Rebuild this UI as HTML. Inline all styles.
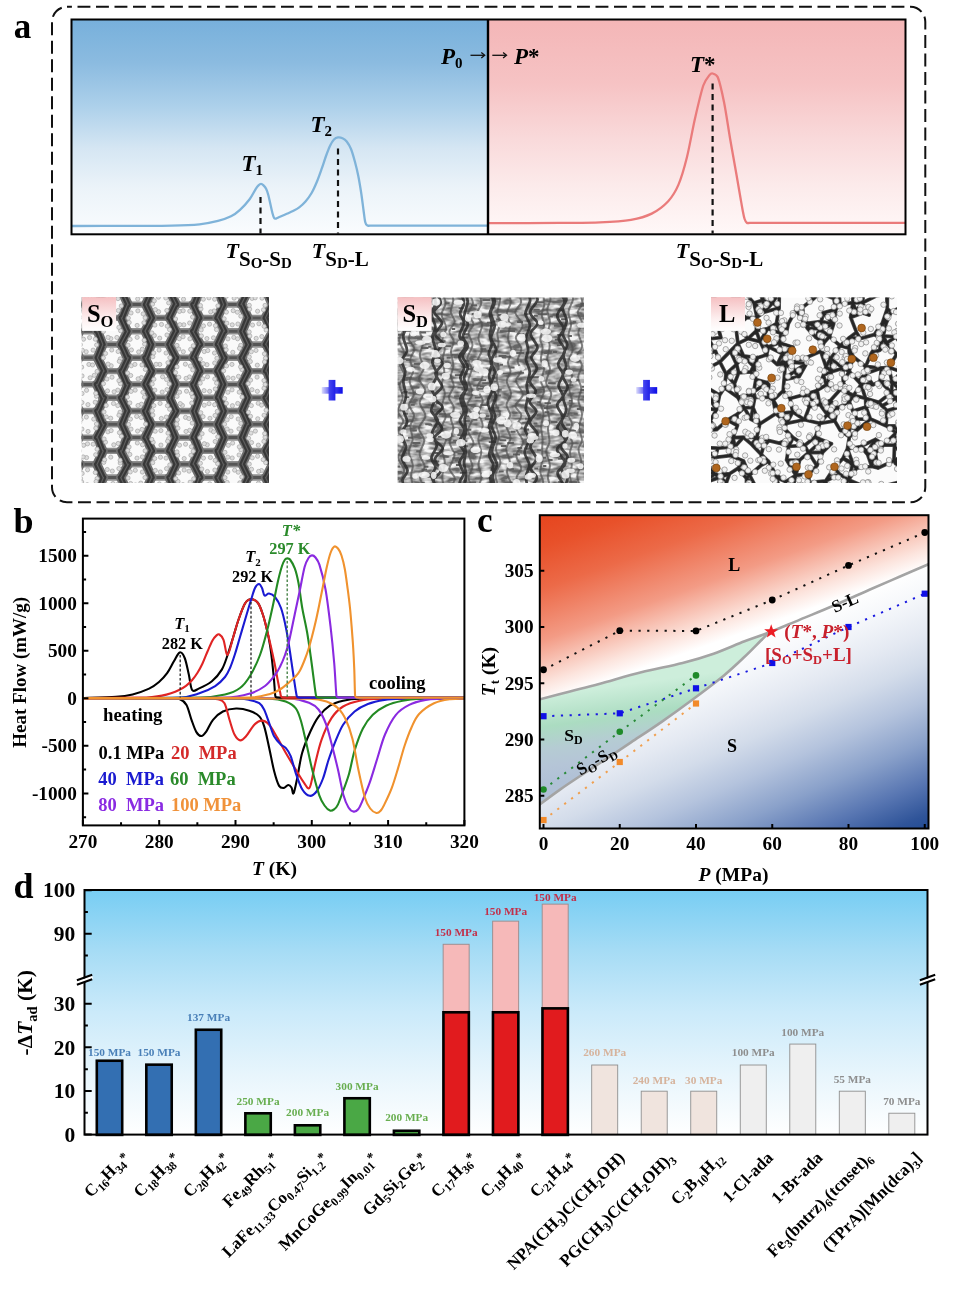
<!DOCTYPE html>
<html><head><meta charset="utf-8"><title>figure</title>
<style>
html,body{margin:0;padding:0;background:#fff;width:968px;height:1299px;overflow:hidden}
svg{display:block}
text{font-family:"Liberation Serif","Times New Roman",serif;font-weight:bold}
</style></head><body>
<svg width="968" height="1299" viewBox="0 0 968 1299">
<defs>
<linearGradient id="gBlueA" x1="0" y1="0" x2="0" y2="1">
 <stop offset="0" stop-color="#77b0db"/><stop offset="0.2" stop-color="#8bbbe0"/><stop offset="0.4" stop-color="#acd0ea"/><stop offset="0.6" stop-color="#d5e6f3"/><stop offset="0.78" stop-color="#ebf3f9"/><stop offset="1" stop-color="#fafcfe"/>
</linearGradient>
<linearGradient id="gPinkA" x1="0" y1="0" x2="0" y2="1">
 <stop offset="0" stop-color="#f4b6b7"/><stop offset="0.3" stop-color="#f6c3c4"/><stop offset="0.55" stop-color="#f9d9da"/><stop offset="0.78" stop-color="#fcebeb"/><stop offset="1" stop-color="#fff8f8"/>
</linearGradient>
<linearGradient id="gLab" x1="0" y1="0" x2="0" y2="1">
 <stop offset="0" stop-color="#f5c0c2"/><stop offset="0.65" stop-color="#fdf0f0"/><stop offset="1" stop-color="#ffffff"/>
</linearGradient>
<linearGradient id="gPlusH" x1="0" y1="0" x2="1" y2="0">
 <stop offset="0" stop-color="#dcdcfb"/><stop offset="0.4" stop-color="#5a5af2"/><stop offset="1" stop-color="#0c0ce6"/>
</linearGradient>
<linearGradient id="gPlusV" x1="0" y1="0" x2="1" y2="0">
 <stop offset="0" stop-color="#4848f0"/><stop offset="1" stop-color="#2020e8"/>
</linearGradient>
</defs>
<text x="13.8" y="38.4" font-size="35" text-anchor="start" fill="#000">a</text>
<rect x="52" y="6.8" width="873.3" height="495.5" rx="15" ry="15" fill="none" stroke="#111" stroke-width="2" stroke-dasharray="12.9 5.6" stroke-dashoffset="-10.5"/>
<rect x="71.5" y="19.5" width="416.5" height="214.8" fill="url(#gBlueA)"/>
<rect x="488" y="19.5" width="417.5" height="214.8" fill="url(#gPinkA)"/>
<path d="M72 226 C80 225.98 103.4 225.97 120 225.9 C136.6 225.83 158.35 225.87 171.6 225.6 C184.17 225.35 191.77 225.08 199.5 224.3 C207.23 223.52 212.75 222.23 218 220.9 C223.25 219.57 227.33 218.15 231 216.3 C234.67 214.45 236.9 212.65 240 209.8 C243.1 206.95 246.97 202.7 249.6 199.2 C252.23 195.7 254.32 191.12 255.8 188.8 C256.87 187.12 257.63 186.12 258.5 185.3 C259.37 184.48 260.17 183.9 261 183.9 C261.83 183.9 262.65 184.48 263.5 185.3 C264.35 186.12 265.3 187.18 266.1 188.8 C266.9 190.42 267.62 192.58 268.3 195 C268.98 197.42 269.53 200.38 270.2 203.3 C270.87 206.22 271.63 210.02 272.3 212.5 C272.97 214.98 273.5 217.22 274.2 218.2 C274.8 219.05 275.53 218.63 276.5 218.4 C277.47 218.17 278.42 217.51 280 216.8 C281.72 216.03 284.63 214.77 286.8 213.8 C288.97 212.83 290.93 212.07 293 211 C295.07 209.93 297.12 208.98 299.2 207.4 C301.28 205.82 303.43 203.9 305.5 201.5 C307.57 199.1 309.68 196.33 311.6 193 C313.52 189.67 315.28 185.63 317 181.5 C318.72 177.37 320.4 172.45 321.9 168.2 C323.4 163.95 324.62 159.78 326 156 C327.38 152.22 328.87 148.25 330.2 145.5 C331.53 142.75 332.7 140.85 334 139.5 C335.3 138.15 336.58 137.62 338 137.4 C339.42 137.18 341.05 137.52 342.5 138.2 C343.95 138.88 345.28 139.7 346.7 141.5 C348.12 143.3 349.62 145.58 351 149 C352.38 152.42 353.78 157.5 355 162 C356.22 166.5 357.27 170.83 358.3 176 C359.33 181.17 360.33 187.33 361.2 193 C362.07 198.67 362.83 205.17 363.5 210 C364.17 214.83 364.58 219.43 365.2 222 C365.61 223.73 366.4 224.78 367.2 225.4 C368 226.02 368.73 225.67 370 225.7 C372.13 225.75 375.5 225.7 380 225.7 C399.5 225.7 469.17 225.7 487 225.7" fill="none" stroke="#7fb3d9" stroke-width="2.3" stroke-linejoin="round"/>
<path d="M489 223.2 C500.83 223.15 541.5 223.03 560 222.9 C578 222.77 588.17 222.92 600 222.4 C611.83 221.88 622.38 221.27 631 219.8 C639.62 218.33 645.5 216.7 651.7 213.6 C657.9 210.5 663.73 206.03 668.2 201.2 C672.67 196.37 675.4 191.83 678.5 184.6 C681.6 177.37 684.05 168.82 686.8 157.8 C689.55 146.78 692.25 130.55 695 118.5 C697.75 106.45 700.88 92.73 703.3 85.5 C705.03 80.33 707.95 77.1 709.5 75.1 C710.46 73.86 711.22 73.15 712.6 73.5 C713.98 73.85 716.73 74.53 717.8 77.2 C719.7 81.95 721.93 91.67 724 102 C726.07 112.33 728.13 127.15 730.2 139.2 C732.27 151.25 734.68 164.5 736.4 174.3 C738.12 184.1 739.43 191.88 740.5 198 C741.52 203.85 742.12 207.5 742.8 211 C743.48 214.5 743.93 217.05 744.6 219 C745.23 220.83 745.9 222.05 746.8 222.7 C747.7 223.35 748.56 222.88 750 222.9 C752.2 222.93 755.5 222.9 760 222.9 C785.83 222.9 880.83 222.9 905 222.9" fill="none" stroke="#ea7b7b" stroke-width="2.3" stroke-linejoin="round"/>
<line x1="260.5" y1="197" x2="260.5" y2="233.5" stroke="#111" stroke-width="2.2" stroke-dasharray="6 4.5"/>
<line x1="338" y1="148.5" x2="338" y2="233.5" stroke="#111" stroke-width="2.2" stroke-dasharray="6 4.5"/>
<line x1="712.6" y1="83.5" x2="712.6" y2="233.5" stroke="#111" stroke-width="2.2" stroke-dasharray="6 4.5"/>
<rect x="71.5" y="19.5" width="834" height="214.8" fill="none" stroke="#000" stroke-width="2"/>
<line x1="488" y1="19.5" x2="488" y2="234.3" stroke="#000" stroke-width="2.4"/>
<text x="241.5" y="171.3" font-size="23"><tspan font-style="italic">T</tspan><tspan font-size="15" dy="4">1</tspan></text>
<text x="310.5" y="131.8" font-size="23"><tspan font-style="italic">T</tspan><tspan font-size="15" dy="4">2</tspan></text>
<text x="690" y="72" font-size="23"><tspan font-style="italic">T</tspan>*</text>
<text x="441" y="63.5" font-size="23"><tspan font-style="italic">P</tspan><tspan font-size="15" dy="4.5">0</tspan></text>
<text x="514" y="63.5" font-size="23"><tspan font-style="italic">P</tspan>*</text>
<path d="M470.5 55.3 H484" stroke="#111" stroke-width="1.3"/>
<path d="M481.3 52.6 L484.7 55.3 L481.3 58" fill="none" stroke="#111" stroke-width="1.3"/>
<path d="M492.3 55.3 H505.8" stroke="#111" stroke-width="1.3"/>
<path d="M503.1 52.6 L506.5 55.3 L503.1 58" fill="none" stroke="#111" stroke-width="1.3"/>
<text x="225.5" y="258.3" font-size="22"><tspan font-style="italic">T</tspan><tspan font-size="21" dy="7.5">S</tspan><tspan font-size="15" dy="2.5">O</tspan><tspan font-size="21" dy="-2.5">-S</tspan><tspan font-size="15" dy="2.5">D</tspan></text>
<text x="311.8" y="258.3" font-size="22"><tspan font-style="italic">T</tspan><tspan font-size="21" dy="7.5">S</tspan><tspan font-size="15" dy="2.5">D</tspan><tspan font-size="21" dy="-2.5">-L</tspan></text>
<text x="675.8" y="258.3" font-size="22"><tspan font-style="italic">T</tspan><tspan font-size="21" dy="7.5">S</tspan><tspan font-size="15" dy="2.5">O</tspan><tspan font-size="21" dy="-2.5">-S</tspan><tspan font-size="15" dy="2.5">D</tspan><tspan font-size="21" dy="-2.5">-L</tspan></text>
<rect x="321.7" y="387.1" width="21" height="6.6" fill="url(#gPlusH)"/>
<rect x="328.6" y="379.9" width="6.8" height="20.6" fill="url(#gPlusV)"/>
<rect x="636.2" y="387.1" width="21" height="6.6" fill="url(#gPlusH)"/>
<rect x="643.1" y="379.9" width="6.8" height="20.6" fill="url(#gPlusV)"/>
<clipPath id="cpSO"><rect x="81.7" y="297" width="187.3" height="186"/></clipPath>
<g clip-path="url(#cpSO)">
<rect x="81.7" y="297" width="187.3" height="186" fill="#fafafa"/>
<path d="M79.3 544L97.3 544M151.6 530.7L169.6 530.7M199.8 264.7L217.8 264.7M103.4 371.1L121.4 371.1M175.7 357.8L193.7 357.8M175.7 490.8L193.7 490.8M79.3 490.8L97.3 490.8M79.3 464.2L97.3 464.2M175.7 544L193.7 544M175.7 570.6L193.7 570.6M223.9 357.8L241.9 357.8M127.5 544L145.5 544M79.3 384.4L97.3 384.4M223.9 437.6L241.9 437.6M55.2 264.7L73.2 264.7M175.7 464.2L193.7 464.2M79.3 517.4L97.3 517.4M103.4 344.5L121.4 344.5M55.2 530.7L73.2 530.7M79.3 251.4L97.3 251.4M248 344.5L266 344.5M79.3 411L97.3 411M272.1 517.4L290.1 517.4M79.3 437.6L97.3 437.6M272.1 544L290.1 544M223.9 570.6L241.9 570.6M248 371.1L266 371.1M248 291.3L266 291.3M127.5 437.6L145.5 437.6M79.3 331.2L97.3 331.2M103.4 583.9L121.4 583.9M248 477.5L266 477.5M55.2 291.3L73.2 291.3M248 504.1L266 504.1M199.8 291.3L217.8 291.3M127.5 384.4L145.5 384.4M199.8 557.3L217.8 557.3M127.5 411L145.5 411M223.9 304.6L241.9 304.6M55.2 424.3L73.2 424.3M55.2 344.5L73.2 344.5M151.6 557.3L169.6 557.3M199.8 424.3L217.8 424.3M151.6 477.5L169.6 477.5M272.1 490.8L290.1 490.8M103.4 317.9L121.4 317.9M272.1 278L290.1 278M103.4 450.9L121.4 450.9M175.7 331.2L193.7 331.2M272.1 357.8L290.1 357.8M272.1 411L290.1 411M151.6 397.7L169.6 397.7M199.8 371.1L217.8 371.1M151.6 317.9L169.6 317.9M151.6 344.5L169.6 344.5M199.8 504.1L217.8 504.1M55.2 371.1L73.2 371.1M103.4 424.3L121.4 424.3M223.9 517.4L241.9 517.4M79.3 357.8L97.3 357.8M272.1 437.6L290.1 437.6M223.9 464.2L241.9 464.2M175.7 384.4L193.7 384.4M127.5 490.8L145.5 490.8M151.6 504.1L169.6 504.1M175.7 251.4L193.7 251.4M175.7 304.6L193.7 304.6M199.8 530.7L217.8 530.7M127.5 278L145.5 278M248 530.7L266 530.7M272.1 570.6L290.1 570.6M272.1 331.2L290.1 331.2M175.7 437.6L193.7 437.6M127.5 570.6L145.5 570.6M79.3 278L97.3 278M175.7 411L193.7 411M151.6 264.7L169.6 264.7M151.6 291.3L169.6 291.3M175.7 278L193.7 278M103.4 264.7L121.4 264.7M55.2 583.9L73.2 583.9M223.9 251.4L241.9 251.4M223.9 490.8L241.9 490.8M248 583.9L266 583.9M223.9 278L241.9 278M223.9 384.4L241.9 384.4M223.9 411L241.9 411M79.3 570.6L97.3 570.6M79.3 304.6L97.3 304.6M55.2 504.1L73.2 504.1M103.4 557.3L121.4 557.3M127.5 464.2L145.5 464.2M103.4 504.1L121.4 504.1M127.5 357.8L145.5 357.8M55.2 450.9L73.2 450.9M103.4 530.7L121.4 530.7M103.4 291.3L121.4 291.3M248 557.3L266 557.3M272.1 304.6L290.1 304.6M127.5 304.6L145.5 304.6M55.2 557.3L73.2 557.3M127.5 517.4L145.5 517.4M248 450.9L266 450.9M127.5 251.4L145.5 251.4M55.2 477.5L73.2 477.5M199.8 397.7L217.8 397.7M248 264.7L266 264.7M151.6 424.3L169.6 424.3M199.8 477.5L217.8 477.5M55.2 397.7L73.2 397.7M248 397.7L266 397.7M127.5 331.2L145.5 331.2M103.4 477.5L121.4 477.5M55.2 317.9L73.2 317.9M223.9 544L241.9 544M272.1 464.2L290.1 464.2M248 317.9L266 317.9M103.4 397.7L121.4 397.7M272.1 251.4L290.1 251.4M248 424.3L266 424.3M199.8 317.9L217.8 317.9M199.8 344.5L217.8 344.5M151.6 450.9L169.6 450.9M272.1 384.4L290.1 384.4M175.7 517.4L193.7 517.4M199.8 450.9L217.8 450.9M151.6 371.1L169.6 371.1M223.9 331.2L241.9 331.2M199.8 583.9L217.8 583.9M151.6 583.9L169.6 583.9" stroke="#8e8e8e" stroke-width="6.4" fill="none"/>
<path d="M79.3 544L97.3 544M151.6 530.7L169.6 530.7M199.8 264.7L217.8 264.7M103.4 371.1L121.4 371.1M175.7 357.8L193.7 357.8M175.7 490.8L193.7 490.8M79.3 490.8L97.3 490.8M79.3 464.2L97.3 464.2M175.7 544L193.7 544M175.7 570.6L193.7 570.6M223.9 357.8L241.9 357.8M127.5 544L145.5 544M79.3 384.4L97.3 384.4M223.9 437.6L241.9 437.6M55.2 264.7L73.2 264.7M175.7 464.2L193.7 464.2M79.3 517.4L97.3 517.4M103.4 344.5L121.4 344.5M55.2 530.7L73.2 530.7M79.3 251.4L97.3 251.4M248 344.5L266 344.5M79.3 411L97.3 411M272.1 517.4L290.1 517.4M79.3 437.6L97.3 437.6M272.1 544L290.1 544M223.9 570.6L241.9 570.6M248 371.1L266 371.1M248 291.3L266 291.3M127.5 437.6L145.5 437.6M79.3 331.2L97.3 331.2M103.4 583.9L121.4 583.9M248 477.5L266 477.5M55.2 291.3L73.2 291.3M248 504.1L266 504.1M199.8 291.3L217.8 291.3M127.5 384.4L145.5 384.4M199.8 557.3L217.8 557.3M127.5 411L145.5 411M223.9 304.6L241.9 304.6M55.2 424.3L73.2 424.3M55.2 344.5L73.2 344.5M151.6 557.3L169.6 557.3M199.8 424.3L217.8 424.3M151.6 477.5L169.6 477.5M272.1 490.8L290.1 490.8M103.4 317.9L121.4 317.9M272.1 278L290.1 278M103.4 450.9L121.4 450.9M175.7 331.2L193.7 331.2M272.1 357.8L290.1 357.8M272.1 411L290.1 411M151.6 397.7L169.6 397.7M199.8 371.1L217.8 371.1M151.6 317.9L169.6 317.9M151.6 344.5L169.6 344.5M199.8 504.1L217.8 504.1M55.2 371.1L73.2 371.1M103.4 424.3L121.4 424.3M223.9 517.4L241.9 517.4M79.3 357.8L97.3 357.8M272.1 437.6L290.1 437.6M223.9 464.2L241.9 464.2M175.7 384.4L193.7 384.4M127.5 490.8L145.5 490.8M151.6 504.1L169.6 504.1M175.7 251.4L193.7 251.4M175.7 304.6L193.7 304.6M199.8 530.7L217.8 530.7M127.5 278L145.5 278M248 530.7L266 530.7M272.1 570.6L290.1 570.6M272.1 331.2L290.1 331.2M175.7 437.6L193.7 437.6M127.5 570.6L145.5 570.6M79.3 278L97.3 278M175.7 411L193.7 411M151.6 264.7L169.6 264.7M151.6 291.3L169.6 291.3M175.7 278L193.7 278M103.4 264.7L121.4 264.7M55.2 583.9L73.2 583.9M223.9 251.4L241.9 251.4M223.9 490.8L241.9 490.8M248 583.9L266 583.9M223.9 278L241.9 278M223.9 384.4L241.9 384.4M223.9 411L241.9 411M79.3 570.6L97.3 570.6M79.3 304.6L97.3 304.6M55.2 504.1L73.2 504.1M103.4 557.3L121.4 557.3M127.5 464.2L145.5 464.2M103.4 504.1L121.4 504.1M127.5 357.8L145.5 357.8M55.2 450.9L73.2 450.9M103.4 530.7L121.4 530.7M103.4 291.3L121.4 291.3M248 557.3L266 557.3M272.1 304.6L290.1 304.6M127.5 304.6L145.5 304.6M55.2 557.3L73.2 557.3M127.5 517.4L145.5 517.4M248 450.9L266 450.9M127.5 251.4L145.5 251.4M55.2 477.5L73.2 477.5M199.8 397.7L217.8 397.7M248 264.7L266 264.7M151.6 424.3L169.6 424.3M199.8 477.5L217.8 477.5M55.2 397.7L73.2 397.7M248 397.7L266 397.7M127.5 331.2L145.5 331.2M103.4 477.5L121.4 477.5M55.2 317.9L73.2 317.9M223.9 544L241.9 544M272.1 464.2L290.1 464.2M248 317.9L266 317.9M103.4 397.7L121.4 397.7M272.1 251.4L290.1 251.4M248 424.3L266 424.3M199.8 317.9L217.8 317.9M199.8 344.5L217.8 344.5M151.6 450.9L169.6 450.9M272.1 384.4L290.1 384.4M175.7 517.4L193.7 517.4M199.8 450.9L217.8 450.9M151.6 371.1L169.6 371.1M223.9 331.2L241.9 331.2M199.8 583.9L217.8 583.9M151.6 583.9L169.6 583.9" stroke="#555" stroke-width="3" fill="none"/>
<path d="M97.02 411L102.84 424.3M97.54 437.6L102.72 450.9M193.76 384.4L199.59 371.1M289.39 384.4L296.21 397.7M217.06 504.1L223.79 517.4M289.41 490.8L295.55 504.1M241.78 357.8L248.52 344.5M72.6 291.3L78.86 278M169.8 291.3L176.42 304.6M169.72 371.1L175.53 384.4M122.16 557.3L126.77 544M218.37 291.3L223.56 304.6M289.53 357.8L295.59 344.5M72.89 317.9L79.81 304.6M169.09 344.5L175.83 357.8M242.12 384.4L247.8 397.7M193.78 331.2L199.1 317.9M96.6 384.4L102.93 397.7M169.89 530.7L175.58 544M217.5 291.3L224.04 278M169.53 264.7L175.38 251.4M49.57 357.8L55.52 371.1M169.19 344.5L175.82 331.2M217.84 317.9L224.5 331.2M242.27 331.2L247.66 317.9M194.47 490.8L199.19 477.5M289.97 357.8L296.61 371.1M120.84 397.7L127.48 411M120.66 291.3L127.77 278M97.72 490.8L103.52 477.5M146.1 357.8L151.3 344.5M290.41 411L296.35 424.3M145.63 464.2L151.53 450.9M146.04 251.4L152.31 264.7M49.06 464.2L55.46 450.9M120.7 504.1L127.82 517.4M73.44 477.5L80.09 464.2M194.22 304.6L199.46 291.3M241.72 278L248.27 264.7M265.24 530.7L272.04 517.4M169.07 291.3L175.09 278M289.39 464.2L296.63 450.9M289.51 437.6L295.8 424.3M241.73 490.8L248.59 504.1M96.63 544L103.32 530.7M145.58 437.6L152.21 450.9M170.11 477.5L176.28 464.2M193.35 437.6L199.66 424.3M289.87 384.4L296.81 371.1M73.93 530.7L78.74 517.4M96.78 331.2L102.97 317.9M145.07 357.8L151.58 371.1M242.04 251.4L247.62 264.7M241.11 304.6L247.87 291.3M48.89 570.6L55.31 583.9M49.82 304.6L55.5 291.3M241.92 304.6L248.19 317.9M49.38 304.6L54.49 317.9M122.04 264.7L127.95 278M73.8 424.3L79.78 411M97.13 464.2L103.24 450.9M96.67 570.6L103.61 557.3M48.4 437.6L54.51 424.3M289.63 570.6L295.66 557.3M121.14 371.1L126.78 384.4M168.8 557.3L175.14 570.6M48.46 437.6L54.98 450.9M168.84 424.3L176.3 411M97.48 357.8L102.84 344.5M145.1 544L151.36 530.7M145.28 517.4L151 504.1M73.76 264.7L80.09 278M73.15 504.1L79.27 490.8M168.94 557.3L175.06 544M72.95 450.9L78.92 464.2M49.63 278L54.66 291.3M241.14 544L248.72 530.7M241.95 437.6L247.43 424.3M169.67 530.7L174.94 517.4M217.84 557.3L224.67 544M290.68 544L296.51 530.7M96.92 304.6L103.19 317.9M96.77 437.6L103.84 424.3M193.75 544L200.25 530.7M217.53 371.1L223.46 384.4M290.6 331.2L296.98 317.9M170.16 450.9L176.19 464.2M146.01 570.6L151.98 583.9M265.56 504.1L272.13 517.4M265.77 371.1L271.35 357.8M72.44 264.7L78.95 251.4M241.51 384.4L248.31 371.1M218.53 530.7L223.82 517.4M49.8 490.8L55.98 477.5M218.53 397.7L223.68 411M72.75 371.1L78.86 357.8M265.51 504.1L271.63 490.8M266.2 264.7L272.74 251.4M146.04 278L151.57 291.3M145.74 304.6L152.08 317.9M241.24 517.4L248.26 504.1M218.46 504.1L224.35 490.8M145.9 490.8L151.56 477.5M72.69 557.3L79.76 570.6M145.23 384.4L152.08 371.1M170.35 504.1L175.53 490.8M145.34 384.4L152.31 397.7M121.76 450.9L126.97 437.6M144.9 411L151.04 424.3M290.75 278L296.69 291.3M144.93 331.2L152.12 317.9M290.87 304.6L296.45 317.9M48.86 331.2L55.28 317.9M120.81 530.7L126.72 517.4M73.95 344.5L79.54 331.2M193.74 517.4L200.49 530.7M289.99 490.8L296.79 477.5M290.62 517.4L295.74 530.7M217.4 557.3L223.57 570.6M241.48 357.8L248.14 371.1M145.11 437.6L151.47 424.3M96.71 278L104.06 291.3M217.57 344.5L223.83 331.2M266.13 344.5L272.75 357.8M73.07 291.3L79.97 304.6M217.8 530.7L223.95 544M121.44 557.3L126.73 570.6M49 357.8L54.69 344.5M192.91 331.2L200.28 344.5M265.48 477.5L272.06 490.8M218.16 450.9L223.99 437.6M121.12 504.1L127.53 490.8M169.69 317.9L176.15 331.2M48.47 544L55.3 530.7M265.6 317.9L271.74 331.2M73.64 397.7L79.31 411M97.4 517.4L103.82 530.7M122.06 317.9L127.41 304.6M217.98 477.5L223.91 464.2M217.82 583.9L224.21 570.6M169.52 397.7L175.75 411M217.76 264.7L224.61 278M242.22 464.2L248.6 477.5M98.01 304.6L103.02 291.3M169.7 264.7L176.41 278M194.24 411L199.22 397.7M241.29 544L247.91 557.3M265.32 530.7L271.69 544M120.72 344.5L127.77 331.2M121.85 583.9L128.14 570.6M265.45 450.9L272.45 437.6M97.56 331.2L102.83 344.5M122.01 371.1L128.25 357.8M120.95 477.5L128.22 464.2M145.34 570.6L151.58 557.3M242.68 411L248.53 424.3M48.56 384.4L55.09 397.7M73.22 450.9L79.04 437.6M96.81 464.2L103.11 477.5M266.36 583.9L271.33 570.6M121.49 264.7L127.4 251.4M72.43 477.5L79.03 490.8M145.7 304.6L151.62 291.3M217.1 371.1L224.68 357.8M97.76 278L104.15 264.7M168.97 450.9L175.32 437.6M72.46 583.9L79.75 570.6M217.43 450.9L223.31 464.2M193.58 464.2L200.46 477.5M290.61 304.6L295.81 291.3M217.24 477.5L224.57 490.8M242.01 331.2L248.32 344.5M168.94 583.9L174.99 570.6M266.3 397.7L271.98 384.4M72.52 557.3L80 544M290.32 331.2L296.68 344.5M96.63 490.8L103.97 504.1M241.21 570.6L248.58 583.9M121.33 344.5L127.24 357.8M97.38 570.6L104.08 583.9M72.83 397.7L78.71 384.4M49.14 464.2L54.78 477.5M144.88 544L151.06 557.3M120.68 477.5L127.02 490.8M145.2 517.4L151.29 530.7M170.02 397.7L175.36 384.4M193.7 278L199.28 264.7M193.46 544L199.03 557.3M265.6 450.9L271.32 464.2M73.57 317.9L79.38 331.2M193.2 570.6L199.76 583.9M290.8 411L295.57 397.7M194.21 490.8L199.69 504.1M265.99 477.5L272.64 464.2M48.93 544L55.21 557.3M266.3 424.3L272.87 411M241.65 517.4L248.53 530.7M49.43 517.4L55.42 530.7M97.15 251.4L103.16 264.7M192.99 384.4L199.21 397.7M241.21 278L248.39 291.3M145.11 331.2L151.06 344.5M265.34 397.7L272.65 411M266.59 291.3L272.37 278M121.05 530.7L127.09 544M241.57 490.8L247.94 477.5M241.35 570.6L247.91 557.3M265.62 557.3L272.84 544M170.36 504.1L175.78 517.4M48.69 570.6L55.95 557.3M97 517.4L103.17 504.1M120.6 450.9L127.31 464.2M217.76 424.3L223.9 437.6M169.12 317.9L175.71 304.6M192.91 357.8L199.42 344.5M265.34 317.9L271.94 304.6M192.97 464.2L199.04 450.9M193.39 251.4L199.37 264.7M217.94 424.3L223.95 411M218.2 344.5L224.15 357.8M121.75 291.3L128.11 304.6M193.52 278L199.52 291.3M49.88 384.4L54.64 371.1M97.66 384.4L103.63 371.1M48.37 411L55.74 397.7M73.83 344.5L79.5 357.8M194.07 357.8L200.3 371.1M96.72 544L103.44 557.3M49.11 517.4L55.74 504.1M49.59 278L55.72 264.7M97.43 357.8L104.03 371.1M290.39 251.4L296.51 264.7M169.17 477.5L174.95 490.8M193.11 304.6L199.58 317.9M168.97 371.1L176.24 357.8M266.09 424.3L272.3 437.6M242.1 464.2L248.29 450.9M265.98 557.3L271.31 570.6M121.88 424.3L127.9 437.6M290.1 437.6L296.26 450.9M193.95 411L199.11 424.3M194.08 437.6L199.4 450.9M217.12 264.7L223.52 251.4M73.57 424.3L78.83 437.6M73.58 504.1L80.06 517.4M121.39 317.9L127.31 331.2M241.87 437.6L248.29 450.9M266.43 291.3L272.29 304.6M290.33 517.4L295.52 504.1M193.14 517.4L199.41 504.1M121.79 424.3L127.19 411M49.21 331.2L54.42 344.5M217.1 317.9L223.53 304.6M145.78 464.2L151.91 477.5M169.88 424.3L175.37 437.6M241.93 411L247.94 397.7M217.75 397.7L223.29 384.4M266.63 264.7L271.62 278M98.07 411L104.1 397.7M144.73 278L151.53 264.7M49.61 490.8L55.95 504.1M49.02 411L54.83 424.3M265.54 344.5L272.81 331.2M289.64 464.2L296.33 477.5M289.53 544L296.24 557.3M266.72 371.1L271.51 384.4M73.71 530.7L79.31 544M122.02 397.7L127.83 384.4M145.07 490.8L152.24 504.1M145.48 411L150.84 397.7M289.31 278L296.19 264.7M73.12 371.1L78.98 384.4M193.13 570.6L199.55 557.3" stroke="#6e6e6e" stroke-width="9.4" stroke-linecap="round" fill="none"/>
<path d="M97.02 411L102.84 424.3M97.54 437.6L102.72 450.9M193.76 384.4L199.59 371.1M289.39 384.4L296.21 397.7M217.06 504.1L223.79 517.4M289.41 490.8L295.55 504.1M241.78 357.8L248.52 344.5M72.6 291.3L78.86 278M169.8 291.3L176.42 304.6M169.72 371.1L175.53 384.4M122.16 557.3L126.77 544M218.37 291.3L223.56 304.6M289.53 357.8L295.59 344.5M72.89 317.9L79.81 304.6M169.09 344.5L175.83 357.8M242.12 384.4L247.8 397.7M193.78 331.2L199.1 317.9M96.6 384.4L102.93 397.7M169.89 530.7L175.58 544M217.5 291.3L224.04 278M169.53 264.7L175.38 251.4M49.57 357.8L55.52 371.1M169.19 344.5L175.82 331.2M217.84 317.9L224.5 331.2M242.27 331.2L247.66 317.9M194.47 490.8L199.19 477.5M289.97 357.8L296.61 371.1M120.84 397.7L127.48 411M120.66 291.3L127.77 278M97.72 490.8L103.52 477.5M146.1 357.8L151.3 344.5M290.41 411L296.35 424.3M145.63 464.2L151.53 450.9M146.04 251.4L152.31 264.7M49.06 464.2L55.46 450.9M120.7 504.1L127.82 517.4M73.44 477.5L80.09 464.2M194.22 304.6L199.46 291.3M241.72 278L248.27 264.7M265.24 530.7L272.04 517.4M169.07 291.3L175.09 278M289.39 464.2L296.63 450.9M289.51 437.6L295.8 424.3M241.73 490.8L248.59 504.1M96.63 544L103.32 530.7M145.58 437.6L152.21 450.9M170.11 477.5L176.28 464.2M193.35 437.6L199.66 424.3M289.87 384.4L296.81 371.1M73.93 530.7L78.74 517.4M96.78 331.2L102.97 317.9M145.07 357.8L151.58 371.1M242.04 251.4L247.62 264.7M241.11 304.6L247.87 291.3M48.89 570.6L55.31 583.9M49.82 304.6L55.5 291.3M241.92 304.6L248.19 317.9M49.38 304.6L54.49 317.9M122.04 264.7L127.95 278M73.8 424.3L79.78 411M97.13 464.2L103.24 450.9M96.67 570.6L103.61 557.3M48.4 437.6L54.51 424.3M289.63 570.6L295.66 557.3M121.14 371.1L126.78 384.4M168.8 557.3L175.14 570.6M48.46 437.6L54.98 450.9M168.84 424.3L176.3 411M97.48 357.8L102.84 344.5M145.1 544L151.36 530.7M145.28 517.4L151 504.1M73.76 264.7L80.09 278M73.15 504.1L79.27 490.8M168.94 557.3L175.06 544M72.95 450.9L78.92 464.2M49.63 278L54.66 291.3M241.14 544L248.72 530.7M241.95 437.6L247.43 424.3M169.67 530.7L174.94 517.4M217.84 557.3L224.67 544M290.68 544L296.51 530.7M96.92 304.6L103.19 317.9M96.77 437.6L103.84 424.3M193.75 544L200.25 530.7M217.53 371.1L223.46 384.4M290.6 331.2L296.98 317.9M170.16 450.9L176.19 464.2M146.01 570.6L151.98 583.9M265.56 504.1L272.13 517.4M265.77 371.1L271.35 357.8M72.44 264.7L78.95 251.4M241.51 384.4L248.31 371.1M218.53 530.7L223.82 517.4M49.8 490.8L55.98 477.5M218.53 397.7L223.68 411M72.75 371.1L78.86 357.8M265.51 504.1L271.63 490.8M266.2 264.7L272.74 251.4M146.04 278L151.57 291.3M145.74 304.6L152.08 317.9M241.24 517.4L248.26 504.1M218.46 504.1L224.35 490.8M145.9 490.8L151.56 477.5M72.69 557.3L79.76 570.6M145.23 384.4L152.08 371.1M170.35 504.1L175.53 490.8M145.34 384.4L152.31 397.7M121.76 450.9L126.97 437.6M144.9 411L151.04 424.3M290.75 278L296.69 291.3M144.93 331.2L152.12 317.9M290.87 304.6L296.45 317.9M48.86 331.2L55.28 317.9M120.81 530.7L126.72 517.4M73.95 344.5L79.54 331.2M193.74 517.4L200.49 530.7M289.99 490.8L296.79 477.5M290.62 517.4L295.74 530.7M217.4 557.3L223.57 570.6M241.48 357.8L248.14 371.1M145.11 437.6L151.47 424.3M96.71 278L104.06 291.3M217.57 344.5L223.83 331.2M266.13 344.5L272.75 357.8M73.07 291.3L79.97 304.6M217.8 530.7L223.95 544M121.44 557.3L126.73 570.6M49 357.8L54.69 344.5M192.91 331.2L200.28 344.5M265.48 477.5L272.06 490.8M218.16 450.9L223.99 437.6M121.12 504.1L127.53 490.8M169.69 317.9L176.15 331.2M48.47 544L55.3 530.7M265.6 317.9L271.74 331.2M73.64 397.7L79.31 411M97.4 517.4L103.82 530.7M122.06 317.9L127.41 304.6M217.98 477.5L223.91 464.2M217.82 583.9L224.21 570.6M169.52 397.7L175.75 411M217.76 264.7L224.61 278M242.22 464.2L248.6 477.5M98.01 304.6L103.02 291.3M169.7 264.7L176.41 278M194.24 411L199.22 397.7M241.29 544L247.91 557.3M265.32 530.7L271.69 544M120.72 344.5L127.77 331.2M121.85 583.9L128.14 570.6M265.45 450.9L272.45 437.6M97.56 331.2L102.83 344.5M122.01 371.1L128.25 357.8M120.95 477.5L128.22 464.2M145.34 570.6L151.58 557.3M242.68 411L248.53 424.3M48.56 384.4L55.09 397.7M73.22 450.9L79.04 437.6M96.81 464.2L103.11 477.5M266.36 583.9L271.33 570.6M121.49 264.7L127.4 251.4M72.43 477.5L79.03 490.8M145.7 304.6L151.62 291.3M217.1 371.1L224.68 357.8M97.76 278L104.15 264.7M168.97 450.9L175.32 437.6M72.46 583.9L79.75 570.6M217.43 450.9L223.31 464.2M193.58 464.2L200.46 477.5M290.61 304.6L295.81 291.3M217.24 477.5L224.57 490.8M242.01 331.2L248.32 344.5M168.94 583.9L174.99 570.6M266.3 397.7L271.98 384.4M72.52 557.3L80 544M290.32 331.2L296.68 344.5M96.63 490.8L103.97 504.1M241.21 570.6L248.58 583.9M121.33 344.5L127.24 357.8M97.38 570.6L104.08 583.9M72.83 397.7L78.71 384.4M49.14 464.2L54.78 477.5M144.88 544L151.06 557.3M120.68 477.5L127.02 490.8M145.2 517.4L151.29 530.7M170.02 397.7L175.36 384.4M193.7 278L199.28 264.7M193.46 544L199.03 557.3M265.6 450.9L271.32 464.2M73.57 317.9L79.38 331.2M193.2 570.6L199.76 583.9M290.8 411L295.57 397.7M194.21 490.8L199.69 504.1M265.99 477.5L272.64 464.2M48.93 544L55.21 557.3M266.3 424.3L272.87 411M241.65 517.4L248.53 530.7M49.43 517.4L55.42 530.7M97.15 251.4L103.16 264.7M192.99 384.4L199.21 397.7M241.21 278L248.39 291.3M145.11 331.2L151.06 344.5M265.34 397.7L272.65 411M266.59 291.3L272.37 278M121.05 530.7L127.09 544M241.57 490.8L247.94 477.5M241.35 570.6L247.91 557.3M265.62 557.3L272.84 544M170.36 504.1L175.78 517.4M48.69 570.6L55.95 557.3M97 517.4L103.17 504.1M120.6 450.9L127.31 464.2M217.76 424.3L223.9 437.6M169.12 317.9L175.71 304.6M192.91 357.8L199.42 344.5M265.34 317.9L271.94 304.6M192.97 464.2L199.04 450.9M193.39 251.4L199.37 264.7M217.94 424.3L223.95 411M218.2 344.5L224.15 357.8M121.75 291.3L128.11 304.6M193.52 278L199.52 291.3M49.88 384.4L54.64 371.1M97.66 384.4L103.63 371.1M48.37 411L55.74 397.7M73.83 344.5L79.5 357.8M194.07 357.8L200.3 371.1M96.72 544L103.44 557.3M49.11 517.4L55.74 504.1M49.59 278L55.72 264.7M97.43 357.8L104.03 371.1M290.39 251.4L296.51 264.7M169.17 477.5L174.95 490.8M193.11 304.6L199.58 317.9M168.97 371.1L176.24 357.8M266.09 424.3L272.3 437.6M242.1 464.2L248.29 450.9M265.98 557.3L271.31 570.6M121.88 424.3L127.9 437.6M290.1 437.6L296.26 450.9M193.95 411L199.11 424.3M194.08 437.6L199.4 450.9M217.12 264.7L223.52 251.4M73.57 424.3L78.83 437.6M73.58 504.1L80.06 517.4M121.39 317.9L127.31 331.2M241.87 437.6L248.29 450.9M266.43 291.3L272.29 304.6M290.33 517.4L295.52 504.1M193.14 517.4L199.41 504.1M121.79 424.3L127.19 411M49.21 331.2L54.42 344.5M217.1 317.9L223.53 304.6M145.78 464.2L151.91 477.5M169.88 424.3L175.37 437.6M241.93 411L247.94 397.7M217.75 397.7L223.29 384.4M266.63 264.7L271.62 278M98.07 411L104.1 397.7M144.73 278L151.53 264.7M49.61 490.8L55.95 504.1M49.02 411L54.83 424.3M265.54 344.5L272.81 331.2M289.64 464.2L296.33 477.5M289.53 544L296.24 557.3M266.72 371.1L271.51 384.4M73.71 530.7L79.31 544M122.02 397.7L127.83 384.4M145.07 490.8L152.24 504.1M145.48 411L150.84 397.7M289.31 278L296.19 264.7M73.12 371.1L78.98 384.4M193.13 570.6L199.55 557.3" stroke="#383838" stroke-width="5.6" stroke-linecap="round" fill="none"/>
<path d="M97.02 411L102.84 424.3M97.54 437.6L102.72 450.9M193.76 384.4L199.59 371.1M289.39 384.4L296.21 397.7M217.06 504.1L223.79 517.4M289.41 490.8L295.55 504.1M241.78 357.8L248.52 344.5M72.6 291.3L78.86 278M169.8 291.3L176.42 304.6M169.72 371.1L175.53 384.4M122.16 557.3L126.77 544M218.37 291.3L223.56 304.6M289.53 357.8L295.59 344.5M72.89 317.9L79.81 304.6M169.09 344.5L175.83 357.8M242.12 384.4L247.8 397.7M193.78 331.2L199.1 317.9M96.6 384.4L102.93 397.7M169.89 530.7L175.58 544M217.5 291.3L224.04 278M169.53 264.7L175.38 251.4M49.57 357.8L55.52 371.1M169.19 344.5L175.82 331.2M217.84 317.9L224.5 331.2M242.27 331.2L247.66 317.9M194.47 490.8L199.19 477.5M289.97 357.8L296.61 371.1M120.84 397.7L127.48 411M120.66 291.3L127.77 278M97.72 490.8L103.52 477.5M146.1 357.8L151.3 344.5M290.41 411L296.35 424.3M145.63 464.2L151.53 450.9M146.04 251.4L152.31 264.7M49.06 464.2L55.46 450.9M120.7 504.1L127.82 517.4M73.44 477.5L80.09 464.2M194.22 304.6L199.46 291.3M241.72 278L248.27 264.7M265.24 530.7L272.04 517.4M169.07 291.3L175.09 278M289.39 464.2L296.63 450.9M289.51 437.6L295.8 424.3M241.73 490.8L248.59 504.1M96.63 544L103.32 530.7M145.58 437.6L152.21 450.9M170.11 477.5L176.28 464.2M193.35 437.6L199.66 424.3M289.87 384.4L296.81 371.1M73.93 530.7L78.74 517.4M96.78 331.2L102.97 317.9M145.07 357.8L151.58 371.1M242.04 251.4L247.62 264.7M241.11 304.6L247.87 291.3M48.89 570.6L55.31 583.9M49.82 304.6L55.5 291.3M241.92 304.6L248.19 317.9M49.38 304.6L54.49 317.9M122.04 264.7L127.95 278M73.8 424.3L79.78 411M97.13 464.2L103.24 450.9M96.67 570.6L103.61 557.3M48.4 437.6L54.51 424.3M289.63 570.6L295.66 557.3M121.14 371.1L126.78 384.4M168.8 557.3L175.14 570.6M48.46 437.6L54.98 450.9M168.84 424.3L176.3 411M97.48 357.8L102.84 344.5M145.1 544L151.36 530.7M145.28 517.4L151 504.1M73.76 264.7L80.09 278M73.15 504.1L79.27 490.8M168.94 557.3L175.06 544M72.95 450.9L78.92 464.2M49.63 278L54.66 291.3M241.14 544L248.72 530.7M241.95 437.6L247.43 424.3M169.67 530.7L174.94 517.4M217.84 557.3L224.67 544M290.68 544L296.51 530.7M96.92 304.6L103.19 317.9M96.77 437.6L103.84 424.3M193.75 544L200.25 530.7M217.53 371.1L223.46 384.4M290.6 331.2L296.98 317.9M170.16 450.9L176.19 464.2M146.01 570.6L151.98 583.9M265.56 504.1L272.13 517.4M265.77 371.1L271.35 357.8M72.44 264.7L78.95 251.4M241.51 384.4L248.31 371.1M218.53 530.7L223.82 517.4M49.8 490.8L55.98 477.5M218.53 397.7L223.68 411M72.75 371.1L78.86 357.8M265.51 504.1L271.63 490.8M266.2 264.7L272.74 251.4M146.04 278L151.57 291.3M145.74 304.6L152.08 317.9M241.24 517.4L248.26 504.1M218.46 504.1L224.35 490.8M145.9 490.8L151.56 477.5M72.69 557.3L79.76 570.6M145.23 384.4L152.08 371.1M170.35 504.1L175.53 490.8M145.34 384.4L152.31 397.7M121.76 450.9L126.97 437.6M144.9 411L151.04 424.3M290.75 278L296.69 291.3M144.93 331.2L152.12 317.9M290.87 304.6L296.45 317.9M48.86 331.2L55.28 317.9M120.81 530.7L126.72 517.4M73.95 344.5L79.54 331.2M193.74 517.4L200.49 530.7M289.99 490.8L296.79 477.5M290.62 517.4L295.74 530.7M217.4 557.3L223.57 570.6M241.48 357.8L248.14 371.1M145.11 437.6L151.47 424.3M96.71 278L104.06 291.3M217.57 344.5L223.83 331.2M266.13 344.5L272.75 357.8M73.07 291.3L79.97 304.6M217.8 530.7L223.95 544M121.44 557.3L126.73 570.6M49 357.8L54.69 344.5M192.91 331.2L200.28 344.5M265.48 477.5L272.06 490.8M218.16 450.9L223.99 437.6M121.12 504.1L127.53 490.8M169.69 317.9L176.15 331.2M48.47 544L55.3 530.7M265.6 317.9L271.74 331.2M73.64 397.7L79.31 411M97.4 517.4L103.82 530.7M122.06 317.9L127.41 304.6M217.98 477.5L223.91 464.2M217.82 583.9L224.21 570.6M169.52 397.7L175.75 411M217.76 264.7L224.61 278M242.22 464.2L248.6 477.5M98.01 304.6L103.02 291.3M169.7 264.7L176.41 278M194.24 411L199.22 397.7M241.29 544L247.91 557.3M265.32 530.7L271.69 544M120.72 344.5L127.77 331.2M121.85 583.9L128.14 570.6M265.45 450.9L272.45 437.6M97.56 331.2L102.83 344.5M122.01 371.1L128.25 357.8M120.95 477.5L128.22 464.2M145.34 570.6L151.58 557.3M242.68 411L248.53 424.3M48.56 384.4L55.09 397.7M73.22 450.9L79.04 437.6M96.81 464.2L103.11 477.5M266.36 583.9L271.33 570.6M121.49 264.7L127.4 251.4M72.43 477.5L79.03 490.8M145.7 304.6L151.62 291.3M217.1 371.1L224.68 357.8M97.76 278L104.15 264.7M168.97 450.9L175.32 437.6M72.46 583.9L79.75 570.6M217.43 450.9L223.31 464.2M193.58 464.2L200.46 477.5M290.61 304.6L295.81 291.3M217.24 477.5L224.57 490.8M242.01 331.2L248.32 344.5M168.94 583.9L174.99 570.6M266.3 397.7L271.98 384.4M72.52 557.3L80 544M290.32 331.2L296.68 344.5M96.63 490.8L103.97 504.1M241.21 570.6L248.58 583.9M121.33 344.5L127.24 357.8M97.38 570.6L104.08 583.9M72.83 397.7L78.71 384.4M49.14 464.2L54.78 477.5M144.88 544L151.06 557.3M120.68 477.5L127.02 490.8M145.2 517.4L151.29 530.7M170.02 397.7L175.36 384.4M193.7 278L199.28 264.7M193.46 544L199.03 557.3M265.6 450.9L271.32 464.2M73.57 317.9L79.38 331.2M193.2 570.6L199.76 583.9M290.8 411L295.57 397.7M194.21 490.8L199.69 504.1M265.99 477.5L272.64 464.2M48.93 544L55.21 557.3M266.3 424.3L272.87 411M241.65 517.4L248.53 530.7M49.43 517.4L55.42 530.7M97.15 251.4L103.16 264.7M192.99 384.4L199.21 397.7M241.21 278L248.39 291.3M145.11 331.2L151.06 344.5M265.34 397.7L272.65 411M266.59 291.3L272.37 278M121.05 530.7L127.09 544M241.57 490.8L247.94 477.5M241.35 570.6L247.91 557.3M265.62 557.3L272.84 544M170.36 504.1L175.78 517.4M48.69 570.6L55.95 557.3M97 517.4L103.17 504.1M120.6 450.9L127.31 464.2M217.76 424.3L223.9 437.6M169.12 317.9L175.71 304.6M192.91 357.8L199.42 344.5M265.34 317.9L271.94 304.6M192.97 464.2L199.04 450.9M193.39 251.4L199.37 264.7M217.94 424.3L223.95 411M218.2 344.5L224.15 357.8M121.75 291.3L128.11 304.6M193.52 278L199.52 291.3M49.88 384.4L54.64 371.1M97.66 384.4L103.63 371.1M48.37 411L55.74 397.7M73.83 344.5L79.5 357.8M194.07 357.8L200.3 371.1M96.72 544L103.44 557.3M49.11 517.4L55.74 504.1M49.59 278L55.72 264.7M97.43 357.8L104.03 371.1M290.39 251.4L296.51 264.7M169.17 477.5L174.95 490.8M193.11 304.6L199.58 317.9M168.97 371.1L176.24 357.8M266.09 424.3L272.3 437.6M242.1 464.2L248.29 450.9M265.98 557.3L271.31 570.6M121.88 424.3L127.9 437.6M290.1 437.6L296.26 450.9M193.95 411L199.11 424.3M194.08 437.6L199.4 450.9M217.12 264.7L223.52 251.4M73.57 424.3L78.83 437.6M73.58 504.1L80.06 517.4M121.39 317.9L127.31 331.2M241.87 437.6L248.29 450.9M266.43 291.3L272.29 304.6M290.33 517.4L295.52 504.1M193.14 517.4L199.41 504.1M121.79 424.3L127.19 411M49.21 331.2L54.42 344.5M217.1 317.9L223.53 304.6M145.78 464.2L151.91 477.5M169.88 424.3L175.37 437.6M241.93 411L247.94 397.7M217.75 397.7L223.29 384.4M266.63 264.7L271.62 278M98.07 411L104.1 397.7M144.73 278L151.53 264.7M49.61 490.8L55.95 504.1M49.02 411L54.83 424.3M265.54 344.5L272.81 331.2M289.64 464.2L296.33 477.5M289.53 544L296.24 557.3M266.72 371.1L271.51 384.4M73.71 530.7L79.31 544M122.02 397.7L127.83 384.4M145.07 490.8L152.24 504.1M145.48 411L150.84 397.7M289.31 278L296.19 264.7M73.12 371.1L78.98 384.4M193.13 570.6L199.55 557.3" stroke="#5e5e5e" stroke-width="1.2" stroke-linecap="round" fill="none"/>
<g fill="#dcdcdc" stroke="#9a9a9a" stroke-width="0.6"><circle cx="93.16" cy="296.74" r="2.1"/><circle cx="86.69" cy="298.2" r="2.1"/><circle cx="81.88" cy="295.32" r="2.1"/><circle cx="97.41" cy="316.55" r="2.1"/><circle cx="94.18" cy="323.98" r="2.1"/><circle cx="89.78" cy="325.56" r="2.1"/><circle cx="83.51" cy="324.04" r="2.1"/><circle cx="80.03" cy="317.41" r="2.1"/><circle cx="83.44" cy="311.75" r="2.1"/><circle cx="88.67" cy="310" r="2.1"/><circle cx="93.48" cy="311.19" r="2.1"/><circle cx="96.63" cy="344.97" r="2.1"/><circle cx="93.14" cy="350.15" r="2.1"/><circle cx="86.2" cy="351.75" r="2.1"/><circle cx="82.42" cy="350.34" r="2.1"/><circle cx="80.31" cy="344.7" r="2.1"/><circle cx="83.51" cy="339.21" r="2.1"/><circle cx="89.59" cy="337.58" r="2.1"/><circle cx="95.34" cy="339.22" r="2.1"/><circle cx="97.09" cy="371.43" r="2.1"/><circle cx="94.23" cy="375.34" r="2.1"/><circle cx="90.14" cy="377.78" r="2.1"/><circle cx="82.02" cy="375.93" r="2.1"/><circle cx="79.12" cy="371.05" r="2.1"/><circle cx="81.64" cy="367.15" r="2.1"/><circle cx="88.89" cy="364.44" r="2.1"/><circle cx="92.54" cy="364.95" r="2.1"/><circle cx="96.43" cy="396.3" r="2.1"/><circle cx="95.21" cy="402.21" r="2.1"/><circle cx="87.94" cy="404.63" r="2.1"/><circle cx="81.94" cy="402.55" r="2.1"/><circle cx="79.21" cy="399.15" r="2.1"/><circle cx="82.01" cy="393.51" r="2.1"/><circle cx="86.54" cy="390.29" r="2.1"/><circle cx="95.72" cy="393.32" r="2.1"/><circle cx="96.43" cy="423.96" r="2.1"/><circle cx="95.81" cy="428.2" r="2.1"/><circle cx="88.04" cy="431.45" r="2.1"/><circle cx="81.92" cy="429.06" r="2.1"/><circle cx="79.6" cy="422.63" r="2.1"/><circle cx="81.04" cy="419.44" r="2.1"/><circle cx="86.36" cy="417.08" r="2.1"/><circle cx="93.75" cy="419.13" r="2.1"/><circle cx="97.07" cy="449.2" r="2.1"/><circle cx="95.68" cy="454.73" r="2.1"/><circle cx="86.56" cy="457.59" r="2.1"/><circle cx="83.14" cy="456.95" r="2.1"/><circle cx="79.54" cy="450.87" r="2.1"/><circle cx="83.6" cy="445.32" r="2.1"/><circle cx="87.52" cy="443.85" r="2.1"/><circle cx="93.17" cy="444.19" r="2.1"/><circle cx="97.09" cy="478.58" r="2.1"/><circle cx="96.11" cy="481.53" r="2.1"/><circle cx="87.26" cy="484.76" r="2.1"/><circle cx="81.65" cy="482" r="2.1"/><circle cx="80.5" cy="478.43" r="2.1"/><circle cx="82.13" cy="473.43" r="2.1"/><circle cx="87.57" cy="469.81" r="2.1"/><circle cx="95.33" cy="472.51" r="2.1"/><circle cx="121.3" cy="305.95" r="2.1"/><circle cx="118.36" cy="310.49" r="2.1"/><circle cx="111.86" cy="311.64" r="2.1"/><circle cx="108.06" cy="310.26" r="2.1"/><circle cx="104.43" cy="303.71" r="2.1"/><circle cx="105.95" cy="299.95" r="2.1"/><circle cx="110.47" cy="297.78" r="2.1"/><circle cx="117.96" cy="298.62" r="2.1"/><circle cx="120.61" cy="330.73" r="2.1"/><circle cx="116.88" cy="337.47" r="2.1"/><circle cx="110.88" cy="338.62" r="2.1"/><circle cx="108.01" cy="337.37" r="2.1"/><circle cx="103.43" cy="331.45" r="2.1"/><circle cx="105.67" cy="326.22" r="2.1"/><circle cx="112.55" cy="324.24" r="2.1"/><circle cx="118.86" cy="327.35" r="2.1"/><circle cx="120.28" cy="358.9" r="2.1"/><circle cx="119.31" cy="361.34" r="2.1"/><circle cx="111.18" cy="365.77" r="2.1"/><circle cx="108.04" cy="364.11" r="2.1"/><circle cx="103.39" cy="357.83" r="2.1"/><circle cx="105.51" cy="353.48" r="2.1"/><circle cx="111.71" cy="349.99" r="2.1"/><circle cx="118.12" cy="351.51" r="2.1"/><circle cx="120.41" cy="383.65" r="2.1"/><circle cx="117.8" cy="390.1" r="2.1"/><circle cx="114.1" cy="391.81" r="2.1"/><circle cx="107.5" cy="390.92" r="2.1"/><circle cx="103.45" cy="383.64" r="2.1"/><circle cx="106.93" cy="379.03" r="2.1"/><circle cx="111.99" cy="377.2" r="2.1"/><circle cx="118.92" cy="380.63" r="2.1"/><circle cx="120" cy="412.29" r="2.1"/><circle cx="118.93" cy="415.19" r="2.1"/><circle cx="110.7" cy="418.22" r="2.1"/><circle cx="106.33" cy="416.92" r="2.1"/><circle cx="104.01" cy="411.97" r="2.1"/><circle cx="106.18" cy="405.45" r="2.1"/><circle cx="113.51" cy="403.49" r="2.1"/><circle cx="117.77" cy="405.6" r="2.1"/><circle cx="121.36" cy="436.25" r="2.1"/><circle cx="118.18" cy="443.47" r="2.1"/><circle cx="113.79" cy="444.78" r="2.1"/><circle cx="105.5" cy="442.12" r="2.1"/><circle cx="104.09" cy="438.96" r="2.1"/><circle cx="107.88" cy="431.8" r="2.1"/><circle cx="111.14" cy="430.6" r="2.1"/><circle cx="119.45" cy="432.64" r="2.1"/><circle cx="120.24" cy="463.02" r="2.1"/><circle cx="118.91" cy="468.56" r="2.1"/><circle cx="112.31" cy="471.08" r="2.1"/><circle cx="107.24" cy="469.5" r="2.1"/><circle cx="103.75" cy="462.39" r="2.1"/><circle cx="104.66" cy="459.76" r="2.1"/><circle cx="110.75" cy="457.14" r="2.1"/><circle cx="120.11" cy="460.18" r="2.1"/><circle cx="106.98" cy="485.11" r="2.1"/><circle cx="112.96" cy="483.51" r="2.1"/><circle cx="117.36" cy="484.63" r="2.1"/><circle cx="142.66" cy="295.89" r="2.1"/><circle cx="137.73" cy="298.93" r="2.1"/><circle cx="129.26" cy="295.27" r="2.1"/><circle cx="145.13" cy="317.79" r="2.1"/><circle cx="143.9" cy="322.75" r="2.1"/><circle cx="137.14" cy="325.44" r="2.1"/><circle cx="129.17" cy="322.48" r="2.1"/><circle cx="128.32" cy="318.01" r="2.1"/><circle cx="131.05" cy="312.96" r="2.1"/><circle cx="137.88" cy="310.84" r="2.1"/><circle cx="143.17" cy="313.87" r="2.1"/><circle cx="144.6" cy="344.07" r="2.1"/><circle cx="142.37" cy="349.21" r="2.1"/><circle cx="138.69" cy="351.94" r="2.1"/><circle cx="131.43" cy="349.96" r="2.1"/><circle cx="128.05" cy="345.23" r="2.1"/><circle cx="130.09" cy="339.35" r="2.1"/><circle cx="137.16" cy="337.36" r="2.1"/><circle cx="144.16" cy="340.25" r="2.1"/><circle cx="145.34" cy="369.38" r="2.1"/><circle cx="141.45" cy="377.59" r="2.1"/><circle cx="138.12" cy="378.81" r="2.1"/><circle cx="130.69" cy="375.49" r="2.1"/><circle cx="127.5" cy="373.04" r="2.1"/><circle cx="131.23" cy="365.77" r="2.1"/><circle cx="134.93" cy="364.38" r="2.1"/><circle cx="141.95" cy="364.94" r="2.1"/><circle cx="144.43" cy="397.17" r="2.1"/><circle cx="141.46" cy="404.19" r="2.1"/><circle cx="138.02" cy="405.51" r="2.1"/><circle cx="129.81" cy="402.88" r="2.1"/><circle cx="127.36" cy="397.03" r="2.1"/><circle cx="131.07" cy="391.41" r="2.1"/><circle cx="135.17" cy="390.15" r="2.1"/><circle cx="142.91" cy="392.33" r="2.1"/><circle cx="145.65" cy="424.06" r="2.1"/><circle cx="142.09" cy="429.4" r="2.1"/><circle cx="137.55" cy="431.09" r="2.1"/><circle cx="131.01" cy="429.08" r="2.1"/><circle cx="128.56" cy="424.41" r="2.1"/><circle cx="130.45" cy="419.12" r="2.1"/><circle cx="136.68" cy="416.42" r="2.1"/><circle cx="141.16" cy="417.56" r="2.1"/><circle cx="145.13" cy="450.78" r="2.1"/><circle cx="142.37" cy="456.89" r="2.1"/><circle cx="137.02" cy="458.13" r="2.1"/><circle cx="129.85" cy="454.46" r="2.1"/><circle cx="127.77" cy="450.38" r="2.1"/><circle cx="129.08" cy="446.97" r="2.1"/><circle cx="137.34" cy="442.96" r="2.1"/><circle cx="142.51" cy="444.75" r="2.1"/><circle cx="145" cy="477.54" r="2.1"/><circle cx="140.79" cy="483.08" r="2.1"/><circle cx="135.55" cy="485" r="2.1"/><circle cx="130.59" cy="483.5" r="2.1"/><circle cx="128.04" cy="477.99" r="2.1"/><circle cx="130.24" cy="471.95" r="2.1"/><circle cx="135.29" cy="470.31" r="2.1"/><circle cx="142.35" cy="472.04" r="2.1"/><circle cx="168.69" cy="302.87" r="2.1"/><circle cx="166.83" cy="310.5" r="2.1"/><circle cx="158.58" cy="311.72" r="2.1"/><circle cx="155.29" cy="309.61" r="2.1"/><circle cx="152.57" cy="304.1" r="2.1"/><circle cx="154.27" cy="300.77" r="2.1"/><circle cx="158.44" cy="297.21" r="2.1"/><circle cx="165.82" cy="297.96" r="2.1"/><circle cx="169.54" cy="329.59" r="2.1"/><circle cx="166.98" cy="334.97" r="2.1"/><circle cx="159.71" cy="338.15" r="2.1"/><circle cx="154.32" cy="335.49" r="2.1"/><circle cx="151.85" cy="332.93" r="2.1"/><circle cx="154.88" cy="325.07" r="2.1"/><circle cx="161.5" cy="324.47" r="2.1"/><circle cx="167.26" cy="326.14" r="2.1"/><circle cx="169.84" cy="357.64" r="2.1"/><circle cx="167.93" cy="362.74" r="2.1"/><circle cx="159.76" cy="364.43" r="2.1"/><circle cx="156.07" cy="364.29" r="2.1"/><circle cx="152.87" cy="356.73" r="2.1"/><circle cx="153.74" cy="352.9" r="2.1"/><circle cx="159.08" cy="350.03" r="2.1"/><circle cx="166.08" cy="353.01" r="2.1"/><circle cx="169.23" cy="383.91" r="2.1"/><circle cx="167.02" cy="389.62" r="2.1"/><circle cx="162.19" cy="392.06" r="2.1"/><circle cx="154.84" cy="390.11" r="2.1"/><circle cx="152.23" cy="383.93" r="2.1"/><circle cx="153.89" cy="379.23" r="2.1"/><circle cx="162.58" cy="376.82" r="2.1"/><circle cx="166.58" cy="379.57" r="2.1"/><circle cx="169.68" cy="409.25" r="2.1"/><circle cx="166.33" cy="417.07" r="2.1"/><circle cx="161.33" cy="418.49" r="2.1"/><circle cx="152.85" cy="415.07" r="2.1"/><circle cx="152.4" cy="410.64" r="2.1"/><circle cx="153.89" cy="405.61" r="2.1"/><circle cx="160.06" cy="403.39" r="2.1"/><circle cx="167.41" cy="405.69" r="2.1"/><circle cx="168.67" cy="438.68" r="2.1"/><circle cx="167.59" cy="441.19" r="2.1"/><circle cx="160.94" cy="445.08" r="2.1"/><circle cx="153.18" cy="442.25" r="2.1"/><circle cx="151.76" cy="439.38" r="2.1"/><circle cx="155.22" cy="431.23" r="2.1"/><circle cx="160.89" cy="430.56" r="2.1"/><circle cx="168" cy="433.13" r="2.1"/><circle cx="169.77" cy="464.93" r="2.1"/><circle cx="166.55" cy="468.61" r="2.1"/><circle cx="160.36" cy="471.98" r="2.1"/><circle cx="155.29" cy="470.41" r="2.1"/><circle cx="152.7" cy="462.7" r="2.1"/><circle cx="154.71" cy="458.53" r="2.1"/><circle cx="160.46" cy="457.26" r="2.1"/><circle cx="166.1" cy="458.11" r="2.1"/><circle cx="154.4" cy="485.57" r="2.1"/><circle cx="159.36" cy="483.96" r="2.1"/><circle cx="165.79" cy="484.6" r="2.1"/><circle cx="191.41" cy="294.96" r="2.1"/><circle cx="183.52" cy="299.22" r="2.1"/><circle cx="178.42" cy="295.84" r="2.1"/><circle cx="192.57" cy="317.01" r="2.1"/><circle cx="189.65" cy="323.01" r="2.1"/><circle cx="183.83" cy="324.79" r="2.1"/><circle cx="179.85" cy="324.68" r="2.1"/><circle cx="175.55" cy="319.01" r="2.1"/><circle cx="179.51" cy="311.38" r="2.1"/><circle cx="183.19" cy="310.73" r="2.1"/><circle cx="189.79" cy="311.25" r="2.1"/><circle cx="193.31" cy="345.78" r="2.1"/><circle cx="190.68" cy="349.42" r="2.1"/><circle cx="183.33" cy="351.74" r="2.1"/><circle cx="178.74" cy="349.03" r="2.1"/><circle cx="176.98" cy="345.43" r="2.1"/><circle cx="179.29" cy="338.71" r="2.1"/><circle cx="183.09" cy="336.73" r="2.1"/><circle cx="189.89" cy="338.82" r="2.1"/><circle cx="192.73" cy="369.89" r="2.1"/><circle cx="189.47" cy="376.92" r="2.1"/><circle cx="186.11" cy="378.35" r="2.1"/><circle cx="178.82" cy="377.2" r="2.1"/><circle cx="175.56" cy="372.64" r="2.1"/><circle cx="176.94" cy="366.86" r="2.1"/><circle cx="185.38" cy="364.17" r="2.1"/><circle cx="190.41" cy="366.05" r="2.1"/><circle cx="192.67" cy="396.86" r="2.1"/><circle cx="191.73" cy="403" r="2.1"/><circle cx="182.43" cy="405.42" r="2.1"/><circle cx="180.19" cy="403.59" r="2.1"/><circle cx="177.06" cy="396.38" r="2.1"/><circle cx="179.6" cy="392.17" r="2.1"/><circle cx="186.53" cy="391.22" r="2.1"/><circle cx="191.37" cy="393.49" r="2.1"/><circle cx="192.28" cy="423.11" r="2.1"/><circle cx="189.67" cy="430.33" r="2.1"/><circle cx="186.02" cy="431.48" r="2.1"/><circle cx="177.96" cy="428.11" r="2.1"/><circle cx="176.78" cy="424.06" r="2.1"/><circle cx="177.43" cy="419.76" r="2.1"/><circle cx="185.55" cy="417.41" r="2.1"/><circle cx="188.97" cy="418.61" r="2.1"/><circle cx="193.2" cy="451.3" r="2.1"/><circle cx="190.99" cy="455.22" r="2.1"/><circle cx="184.2" cy="458.55" r="2.1"/><circle cx="177.7" cy="455.3" r="2.1"/><circle cx="176.98" cy="451.9" r="2.1"/><circle cx="179.51" cy="445.23" r="2.1"/><circle cx="185.56" cy="444.21" r="2.1"/><circle cx="191.37" cy="446.7" r="2.1"/><circle cx="193.69" cy="478.84" r="2.1"/><circle cx="190.18" cy="482.2" r="2.1"/><circle cx="182.97" cy="484.68" r="2.1"/><circle cx="177.98" cy="481.47" r="2.1"/><circle cx="175.74" cy="478.72" r="2.1"/><circle cx="178.7" cy="472.97" r="2.1"/><circle cx="184.14" cy="470.02" r="2.1"/><circle cx="189.08" cy="471.15" r="2.1"/><circle cx="217.9" cy="305.81" r="2.1"/><circle cx="214.14" cy="310.96" r="2.1"/><circle cx="210.69" cy="311.8" r="2.1"/><circle cx="200.95" cy="308.82" r="2.1"/><circle cx="200.47" cy="305.51" r="2.1"/><circle cx="203.33" cy="299.21" r="2.1"/><circle cx="208.92" cy="297.85" r="2.1"/><circle cx="214.63" cy="299.22" r="2.1"/><circle cx="216.5" cy="329.57" r="2.1"/><circle cx="213.5" cy="337.81" r="2.1"/><circle cx="206.9" cy="338.57" r="2.1"/><circle cx="201.4" cy="335.87" r="2.1"/><circle cx="201.19" cy="329.92" r="2.1"/><circle cx="203.47" cy="325.89" r="2.1"/><circle cx="209.53" cy="324.19" r="2.1"/><circle cx="215.46" cy="325.69" r="2.1"/><circle cx="216.9" cy="358.22" r="2.1"/><circle cx="214.69" cy="362.99" r="2.1"/><circle cx="206.97" cy="364.68" r="2.1"/><circle cx="203.23" cy="363.65" r="2.1"/><circle cx="200.28" cy="359.21" r="2.1"/><circle cx="204.28" cy="351.54" r="2.1"/><circle cx="207.82" cy="350.53" r="2.1"/><circle cx="214.51" cy="353.03" r="2.1"/><circle cx="216.58" cy="383.12" r="2.1"/><circle cx="215.3" cy="388.96" r="2.1"/><circle cx="209.66" cy="391.36" r="2.1"/><circle cx="204.09" cy="390.62" r="2.1"/><circle cx="200.22" cy="383.13" r="2.1"/><circle cx="202.82" cy="378.86" r="2.1"/><circle cx="207.48" cy="376.82" r="2.1"/><circle cx="214.76" cy="379.04" r="2.1"/><circle cx="217.26" cy="411.41" r="2.1"/><circle cx="215.04" cy="415.46" r="2.1"/><circle cx="209.99" cy="418.31" r="2.1"/><circle cx="203.04" cy="416.59" r="2.1"/><circle cx="200.76" cy="412.73" r="2.1"/><circle cx="204.2" cy="405.25" r="2.1"/><circle cx="209.04" cy="403.65" r="2.1"/><circle cx="214.65" cy="404.72" r="2.1"/><circle cx="217.73" cy="436.81" r="2.1"/><circle cx="215.18" cy="441.49" r="2.1"/><circle cx="207.24" cy="444.75" r="2.1"/><circle cx="204.32" cy="443.68" r="2.1"/><circle cx="199.89" cy="437.83" r="2.1"/><circle cx="202.09" cy="433.72" r="2.1"/><circle cx="210.83" cy="430.1" r="2.1"/><circle cx="213.55" cy="431.77" r="2.1"/><circle cx="217.59" cy="463.64" r="2.1"/><circle cx="214.85" cy="470.07" r="2.1"/><circle cx="207.43" cy="471.49" r="2.1"/><circle cx="201.78" cy="468.96" r="2.1"/><circle cx="200.39" cy="463.25" r="2.1"/><circle cx="203.48" cy="458.07" r="2.1"/><circle cx="210.43" cy="457.51" r="2.1"/><circle cx="215.16" cy="460.44" r="2.1"/><circle cx="202.68" cy="485.76" r="2.1"/><circle cx="209.71" cy="483.78" r="2.1"/><circle cx="214.55" cy="485.26" r="2.1"/><circle cx="238.9" cy="296.54" r="2.1"/><circle cx="234.14" cy="298.13" r="2.1"/><circle cx="226.36" cy="296.25" r="2.1"/><circle cx="240.85" cy="316.16" r="2.1"/><circle cx="237.9" cy="324.02" r="2.1"/><circle cx="232.23" cy="324.81" r="2.1"/><circle cx="226.82" cy="323.17" r="2.1"/><circle cx="224.19" cy="318.78" r="2.1"/><circle cx="226.4" cy="312.1" r="2.1"/><circle cx="233.21" cy="310.67" r="2.1"/><circle cx="237.37" cy="312.21" r="2.1"/><circle cx="240.71" cy="345.38" r="2.1"/><circle cx="239.55" cy="348.31" r="2.1"/><circle cx="232.8" cy="352.32" r="2.1"/><circle cx="226.16" cy="349.69" r="2.1"/><circle cx="225.36" cy="345.95" r="2.1"/><circle cx="227.92" cy="338.84" r="2.1"/><circle cx="233.79" cy="337.39" r="2.1"/><circle cx="237.63" cy="338.78" r="2.1"/><circle cx="241.91" cy="369.52" r="2.1"/><circle cx="238.51" cy="376.36" r="2.1"/><circle cx="233.11" cy="378.3" r="2.1"/><circle cx="228.01" cy="377.8" r="2.1"/><circle cx="223.62" cy="370.77" r="2.1"/><circle cx="226.55" cy="365.94" r="2.1"/><circle cx="231.93" cy="364.44" r="2.1"/><circle cx="240.57" cy="366.85" r="2.1"/><circle cx="242.04" cy="396.97" r="2.1"/><circle cx="237.71" cy="403.43" r="2.1"/><circle cx="232.42" cy="405.71" r="2.1"/><circle cx="226.36" cy="403.37" r="2.1"/><circle cx="224.63" cy="398.62" r="2.1"/><circle cx="227.85" cy="392.27" r="2.1"/><circle cx="232.03" cy="389.84" r="2.1"/><circle cx="239.22" cy="392.16" r="2.1"/><circle cx="240.82" cy="423.42" r="2.1"/><circle cx="238.95" cy="428.83" r="2.1"/><circle cx="230.99" cy="431.17" r="2.1"/><circle cx="227.15" cy="428.97" r="2.1"/><circle cx="224.56" cy="424.18" r="2.1"/><circle cx="227.12" cy="419.77" r="2.1"/><circle cx="231.2" cy="416.61" r="2.1"/><circle cx="238.19" cy="419" r="2.1"/><circle cx="240.97" cy="449.82" r="2.1"/><circle cx="239.06" cy="454.98" r="2.1"/><circle cx="232.22" cy="458.01" r="2.1"/><circle cx="227.8" cy="457.16" r="2.1"/><circle cx="224.92" cy="452.32" r="2.1"/><circle cx="228.32" cy="445.33" r="2.1"/><circle cx="232.64" cy="443.06" r="2.1"/><circle cx="239.32" cy="446.83" r="2.1"/><circle cx="241.77" cy="476.94" r="2.1"/><circle cx="239.85" cy="482.81" r="2.1"/><circle cx="234.25" cy="485.42" r="2.1"/><circle cx="227.18" cy="482.42" r="2.1"/><circle cx="224.99" cy="477.66" r="2.1"/><circle cx="227.77" cy="472.05" r="2.1"/><circle cx="234.62" cy="470.16" r="2.1"/><circle cx="238.24" cy="472.23" r="2.1"/><circle cx="265.07" cy="305.36" r="2.1"/><circle cx="263.44" cy="309.81" r="2.1"/><circle cx="257.58" cy="311.23" r="2.1"/><circle cx="249.68" cy="309.1" r="2.1"/><circle cx="249.27" cy="305.32" r="2.1"/><circle cx="252.03" cy="298.43" r="2.1"/><circle cx="255.18" cy="297.78" r="2.1"/><circle cx="262.02" cy="298.14" r="2.1"/><circle cx="266.11" cy="330.05" r="2.1"/><circle cx="261.81" cy="336.55" r="2.1"/><circle cx="256.19" cy="338.38" r="2.1"/><circle cx="249.85" cy="336.01" r="2.1"/><circle cx="249.2" cy="331.94" r="2.1"/><circle cx="252.52" cy="325.06" r="2.1"/><circle cx="258.89" cy="323.74" r="2.1"/><circle cx="264.13" cy="326.36" r="2.1"/><circle cx="265.43" cy="358.27" r="2.1"/><circle cx="264.49" cy="361.88" r="2.1"/><circle cx="257.31" cy="365.17" r="2.1"/><circle cx="250.35" cy="361.49" r="2.1"/><circle cx="249.29" cy="356.92" r="2.1"/><circle cx="251.29" cy="351.76" r="2.1"/><circle cx="255.98" cy="350.42" r="2.1"/><circle cx="264.46" cy="353.84" r="2.1"/><circle cx="265.11" cy="384.55" r="2.1"/><circle cx="264" cy="388.23" r="2.1"/><circle cx="257.35" cy="391.33" r="2.1"/><circle cx="251.95" cy="389.68" r="2.1"/><circle cx="248.24" cy="383.61" r="2.1"/><circle cx="250.57" cy="380.14" r="2.1"/><circle cx="257.06" cy="377.12" r="2.1"/><circle cx="263.98" cy="380.56" r="2.1"/><circle cx="266.11" cy="410.21" r="2.1"/><circle cx="264.09" cy="415.25" r="2.1"/><circle cx="257.75" cy="418.78" r="2.1"/><circle cx="250.52" cy="416.34" r="2.1"/><circle cx="248.32" cy="412.25" r="2.1"/><circle cx="251.32" cy="405.58" r="2.1"/><circle cx="258.2" cy="403.23" r="2.1"/><circle cx="261.57" cy="405.14" r="2.1"/><circle cx="265.02" cy="437.12" r="2.1"/><circle cx="263.89" cy="441.38" r="2.1"/><circle cx="258.34" cy="445.16" r="2.1"/><circle cx="251.57" cy="442.54" r="2.1"/><circle cx="248.56" cy="438.24" r="2.1"/><circle cx="250.99" cy="433.07" r="2.1"/><circle cx="255.36" cy="431.09" r="2.1"/><circle cx="264.67" cy="433.64" r="2.1"/><circle cx="265.69" cy="462.62" r="2.1"/><circle cx="261.48" cy="470.57" r="2.1"/><circle cx="258.65" cy="471.41" r="2.1"/><circle cx="251.52" cy="469.25" r="2.1"/><circle cx="249.29" cy="464.06" r="2.1"/><circle cx="252.23" cy="457.85" r="2.1"/><circle cx="257.59" cy="456.23" r="2.1"/><circle cx="263.16" cy="459.64" r="2.1"/><circle cx="258.47" cy="483.2" r="2.1"/><circle cx="262.15" cy="485.51" r="2.1"/></g>
</g>
<filter id="fSD" x="0" y="0" width="1" height="1" color-interpolation-filters="sRGB"><feTurbulence type="fractalNoise" baseFrequency="0.09 0.22" numOctaves="2" seed="11"/><feColorMatrix type="matrix" values="0 0 0 0 0.4  0 0 0 0 0.4  0 0 0 0 0.4  2.5 0 0 0 -0.72"/></filter>
<filter id="fBl" x="-5%" y="-5%" width="110%" height="110%"><feGaussianBlur stdDeviation="0.7"/></filter>
<clipPath id="cpSD"><rect x="397.6" y="297.6" width="186.4" height="185.4"/></clipPath>
<g clip-path="url(#cpSD)"><g filter="url(#fBl)">
<rect x="394.6" y="294.6" width="192.4" height="191.4" fill="#f4f4f4"/>
<rect x="397.6" y="297.6" width="186.4" height="185.4" fill="#777" filter="url(#fSD)"/>
<path d="M406.05 360.12h4.62M581.81 386.86h4.84M440.7 341.13h4.75M420.29 298.94h7.35M480.42 380.2h5.84M451.88 328.92h3.33M451.7 354.8h6.63M499.01 471.4h4.7M569.08 405.75h3.4M428.45 405.22h7.94M462.21 441.18h5.14M559.06 310.16h5.42M564.89 348.75h4.29M398.97 328.11h4.34M528.01 338.08h5M432.55 409.38h7.32M517.35 334.07h6.67M577.02 409.03h3.4M547.91 459.92h4.71M420.48 332.49h5.68M560.41 416.24h7.61M434.8 358.18h6.75M517.51 372.75h6.39M458.57 308.25h5.07M403.21 413.72h4.67M488.23 408.44h4.29M482.36 300.12h7.63M501.45 480.69h3.28M510.89 431.85h4.65M412.3 326.56h3.71M539.91 314.26h7.07M474.76 397.47h5.94M499.72 419.47h6.01M457.26 435h4.29M529.34 439.12h6.88M453.17 440.84h7.89M480.43 349.19h5.62M572.81 322.05h3.05M484.71 419.1h6.87M463.26 481.06h4.14M537.9 314.27h3.14M420.01 308.75h5.51M499.76 331.31h7.7M463.85 325.28h3.89M534.33 468.44h3.81M400.1 441.86h4.21M580.65 390.1h6.18M459.8 446.02h5.3M455.93 465.11h3.54M533.5 309.73h6.23M470.71 457.8h3.3M501.46 373.6h7.6M573.57 413.87h4.12M442.32 346.23h5.17M438.42 335.27h6.8M516.33 352.93h7.97M435.63 403.19h3.78M558.07 458.76h4.34M536.94 450.15h4.41M457.39 387.62h7.45M425.21 424.19h5.99M480.41 404.99h7.41M434.34 461.41h4.8M542.3 457.66h3.91M558.24 482.04h4.49M399.23 318.28h7.87M396.39 466.61h3.75M534 315.69h3.84M523.92 314.33h4.7M568.56 430.41h7.41M580.15 303.7h4.17M544.63 425.43h3.19M490.21 340.54h5.15M414.46 301.3h7.95M454.54 460.49h3.6M486.91 322.78h5.14M428.5 424.67h3.74M534.42 390.44h3.56M461.57 389.61h7.59M460.78 337.49h7.84M561.87 433.2h4.36M428.17 346.67h3.34M402.78 391.92h5.04M500.02 364.83h3.05M524.93 418.69h5.72M498.54 425.58h7.91M560.15 430.67h5M454.88 375.31h7.86M467.91 369.06h5.05M421.69 482.7h3.03M509.72 469.33h4.27M510.31 367.49h4.2M432.18 319.14h7.22M543.08 466.04h3.25M526.08 357.74h6.23M498.57 356.12h7.86M394.78 435.95h7.27M491.22 407.41h7.97M439 414.31h6.72M466.35 429.64h4.97M494.27 411.22h6.39M455.61 414.2h5.72M436.89 411.16h4.32M566.72 385.35h6.61M493.48 385.97h4.11M421.51 469.53h5.64M493.83 395.39h7.07M439.8 329.55h7.11M481.78 416.35h7.14M563.93 458.49h3.22M466.81 451.88h7.09M417.9 326.12h4.26M414.07 363.72h7.02M493.34 381.55h3.44M469.52 482.44h6.48M479.7 386.28h6.99M538.32 325.39h6.4M464.1 394.14h4.19M464.82 360.65h4.91M397.97 334.84h5.85M405.53 330.68h6.59M446.61 357.67h4.21M552.59 314.53h6.18M557.27 334.99h5.12M544.66 412.15h4.86M402.91 379.65h4.84M529.55 352.34h5.04M517.37 447.93h4.76M467.59 404.89h7.62M430.89 477.69h6.56M465.12 421h4.65M408.01 437.77h4.9M494.19 389.67h7.51M537.98 302.34h5.96M482.21 383.29h7.2M473.18 385.41h7.45M477.91 388.68h5.56M550.79 421.89h6.7M470.68 305.13h6.4M499.5 440.21h6.85M416.97 338.52h3.39M549.43 316.46h3.44M537.28 402.24h3.28M523.58 429.43h5.41M404.98 425.71h5.09M505.2 482.65h7.08M559.74 324.58h4.67M492.75 298.72h7.94M446.62 346.24h4.57M442.9 456.84h5.78M491.38 375.51h3.26M452.27 458.3h7.01M556.85 345.26h4.01M404.47 397.13h4.87M482.52 388.26h5.92M463.87 446.19h4M568.73 400.71h3.26M454.12 396.43h5.04M501.6 357.59h4.37M545.38 351.65h6.55M546.59 407.37h5.27M571.66 380.08h7.39M405.53 378.01h6.2M403.87 457.53h3.36M507.54 331h7.61M500.86 446.05h5.49M522.23 422.74h4.47M434.57 453.02h3.73M568.44 335.96h3.5M412.64 443h7.75M473.14 419.76h4.29M566.17 424.77h3.77M405.33 426.58h3.21M552.96 352.04h4.16M504.84 356.69h5.8M423.77 466.67h4.62M553.94 325.76h7M580.23 370.18h3.16M466.57 416.4h4.12M497.96 314.95h5.32M532.53 377.3h6.39M416.26 451.2h3.61M569.48 482.28h7.7M494.29 351.51h4.74M536.72 389.66h7.65M412.21 387.47h7.32M507.82 397.85h3.44M421.06 347.88h7.47M554.72 339.72h7.62M400.74 408.62h7.84M459.81 472.69h6.28M404.08 359.36h5.25M441.46 435.23h3.89M543.8 352.89h3.35M500.51 315.34h5.76M543.85 408.02h5.31M400.99 392.78h3.49M517.11 322.07h5.89M461.43 367.07h6.32M425.64 329.06h7.71M457.41 453.76h7.37M485.56 325.23h3.47M561.09 319.3h5.48M496.12 319.4h5.34M425.67 396.88h5.53M464.09 334.26h5.02M433.14 321.17h4.2M559.67 390.63h7.45M397.46 472.49h5.44M544.42 403.35h6.44M438.02 436.66h3.77M444.63 303.33h4.97M492.73 351.73h7.45M410.57 404.86h4.17M507.35 442.96h6.55M406.37 343.16h6M580.77 305.24h6.09M525.63 448.64h4.71M548.12 383.22h7.6M396.64 471.93h5.06M471.71 313.92h4.22M533.57 423.45h3.76M459.81 323.62h3.99M436.2 358.98h7.88M583.49 444.36h5.4M488.79 442.07h7.54M536.93 415.59h4M513 454.4h6.93M412.1 430.61h4.75M425.33 476.65h6.36" stroke="#606060" stroke-width="2" fill="none"/>
<path d="M399.2 289.6 C400.06 291.88 404.37 298.88 404.37 303.29 C404.37 307.69 399.34 311.72 399.21 316.01 C399.09 320.3 403.62 324.99 403.61 329.02 C403.61 333.05 399.08 336.18 399.19 340.2 C399.31 344.21 404.23 349.22 404.29 353.12 C404.34 357.02 399.49 359.92 399.52 363.61 C399.55 367.31 404.46 371.73 404.47 375.27 C404.47 378.81 399.82 381.1 399.54 384.85 C399.26 388.61 403.1 393.44 402.8 397.79 C402.51 402.14 397.69 407.12 397.77 410.98 C397.85 414.85 403.19 417.61 403.29 420.97 C403.4 424.33 398.31 427.2 398.4 431.16 C398.49 435.11 403.88 440.35 403.84 444.7 C403.8 449.04 398.11 453 398.15 457.25 C398.2 461.49 403.88 465.94 404.1 470.17 C404.32 474.39 400.24 480.51 399.47 482.58M410.31 289.6 C410.79 291.8 413.12 298.59 413.19 302.78 C413.26 306.97 410.89 310.6 410.76 314.76 C410.62 318.91 412.71 323.65 412.38 327.72 C412.06 331.79 408.46 335.67 408.79 339.17 C409.11 342.67 414.09 345.28 414.32 348.72 C414.56 352.16 410.39 356.08 410.2 359.81 C410.01 363.54 413.28 367.54 413.18 371.1 C413.08 374.66 409.48 377.29 409.6 381.17 C409.71 385.05 413.97 390.44 413.86 394.39 C413.75 398.34 408.93 401.38 408.96 404.85 C408.99 408.32 413.83 411.61 414.06 415.21 C414.29 418.8 410.57 422.38 410.34 426.42 C410.1 430.46 412.91 435.21 412.66 439.45 C412.42 443.69 408.82 447.61 408.85 451.87 C408.87 456.12 412.45 461.07 412.82 464.98 C413.18 468.89 411.03 471.81 411.05 475.34 C411.06 478.87 412.6 484.35 412.91 486.15M419.71 289.6 C420.67 291.52 425.26 297.26 425.5 301.1 C425.73 304.94 421.18 309.05 421.13 312.63 C421.08 316.21 425.38 319.29 425.2 322.58 C425.01 325.87 420.29 329.26 420.03 332.39 C419.76 335.53 423.65 337.6 423.62 341.39 C423.59 345.18 419.82 350.66 419.85 355.12 C419.88 359.58 423.95 364.2 423.8 368.16 C423.66 372.13 418.76 375.17 419 378.93 C419.25 382.68 425.16 386.8 425.27 390.69 C425.38 394.58 419.65 398.06 419.67 402.26 C419.68 406.46 425.47 411.57 425.35 415.9 C425.23 420.23 419.12 424.16 418.94 428.23 C418.76 432.31 424.15 436.03 424.27 440.35 C424.38 444.67 419.55 449.79 419.63 454.14 C419.7 458.49 424.65 462.58 424.72 466.45 C424.78 470.31 419.9 473.45 420.01 477.33 C420.12 481.2 424.49 487.65 425.38 489.71M440.64 289.6 C441.46 291.8 445.44 298.61 445.6 302.77 C445.75 306.93 441.49 310.47 441.58 314.56 C441.66 318.65 445.97 323.08 446.09 327.32 C446.22 331.55 442.53 336.32 442.3 339.96 C442.07 343.6 444.66 345.99 444.74 349.14 C444.82 352.28 442.86 354.96 442.79 358.82 C442.72 362.68 444.45 368.05 444.3 372.28 C444.15 376.51 441.79 380.69 441.89 384.22 C441.98 387.74 444.87 389.79 444.9 393.45 C444.92 397.11 441.89 402.33 442.04 406.19 C442.19 410.04 445.82 413.11 445.79 416.59 C445.75 420.07 441.72 423.45 441.81 427.05 C441.89 430.64 446.2 434.26 446.3 438.15 C446.41 442.04 442.67 446.29 442.43 450.39 C442.19 454.5 444.91 458.41 444.87 462.78 C444.83 467.14 442.25 472.21 442.2 476.59 C442.16 480.97 444.22 486.97 444.62 489.05M450.53 289.6 C450.99 291.39 453.23 296.62 453.26 300.34 C453.3 304.06 450.49 308.35 450.73 311.92 C450.97 315.48 454.93 318.45 454.7 321.73 C454.47 325 449.55 328.39 449.38 331.58 C449.2 334.77 453.38 337.48 453.64 340.85 C453.9 344.21 450.99 347.64 450.95 351.76 C450.9 355.88 453.39 361.51 453.38 365.57 C453.37 369.63 450.84 372.7 450.89 376.12 C450.95 379.54 454.03 382.58 453.7 386.11 C453.36 389.64 448.86 393.72 448.89 397.3 C448.92 400.88 453.53 404.06 453.87 407.6 C454.22 411.14 451.02 414.98 450.94 418.53 C450.86 422.07 453.62 424.88 453.42 428.86 C453.21 432.84 449.53 437.95 449.71 442.41 C449.88 446.86 454.51 451.24 454.46 455.59 C454.4 459.94 449.33 464.71 449.38 468.48 C449.43 472.26 454.65 474.73 454.74 478.24 C454.84 481.76 450.76 487.7 449.97 489.6M467.49 289.6 C468.39 291.86 472.79 299.18 472.9 303.19 C473.01 307.19 468.04 310.17 468.13 313.63 C468.23 317.09 473.4 320.68 473.48 323.93 C473.56 327.18 468.77 329.63 468.6 333.13 C468.44 336.64 472.7 340.71 472.48 344.97 C472.26 349.22 467.37 354.68 467.26 358.67 C467.14 362.65 471.6 365.22 471.8 368.88 C471.99 372.54 468.29 376.6 468.43 380.63 C468.57 384.65 472.88 388.78 472.62 393.02 C472.37 397.25 466.8 402.13 466.89 406.06 C466.98 409.98 472.97 412.53 473.18 416.59 C473.39 420.65 468.09 426.04 468.14 430.43 C468.19 434.81 473.37 438.98 473.49 442.89 C473.61 446.79 469.05 449.91 468.88 453.86 C468.7 457.81 472.51 462.63 472.45 466.57 C472.4 470.52 468.62 473.92 468.55 477.53 C468.49 481.15 471.49 486.49 472.08 488.28M478.41 289.6 C478.88 291.85 481.49 299.07 481.25 303.11 C481.01 307.14 476.81 310.17 476.96 313.8 C477.11 317.43 481.89 320.81 482.13 324.87 C482.37 328.92 478.44 333.94 478.4 338.13 C478.36 342.32 482.05 346.06 481.9 350.02 C481.74 353.98 477.3 357.7 477.46 361.88 C477.61 366.07 482.87 370.71 482.82 375.11 C482.77 379.51 477.18 384.04 477.16 388.3 C477.15 392.56 482.44 396.68 482.74 400.66 C483.04 404.64 478.96 408 478.96 412.16 C478.95 416.33 482.81 421.22 482.71 425.66 C482.61 430.09 478.6 434.34 478.36 438.76 C478.11 443.18 481.22 447.83 481.24 452.15 C481.26 456.47 478.43 460.58 478.49 464.67 C478.55 468.77 481.63 473.17 481.59 476.74 C481.55 480.3 478.8 484.52 478.25 486.07M495.93 289.6 C496.63 291.18 499.88 295.18 500.11 299.07 C500.34 302.96 497.31 308.83 497.32 312.94 C497.33 317.06 500.15 320.38 500.16 323.74 C500.18 327.1 497.68 329.77 497.41 333.1 C497.13 336.43 498.77 339.93 498.49 343.73 C498.21 347.52 495.7 352.12 495.73 355.87 C495.75 359.63 498.46 362.65 498.63 366.25 C498.79 369.85 496.73 373.43 496.72 377.48 C496.72 381.52 498.76 386.15 498.58 390.52 C498.4 394.88 495.42 399.78 495.66 403.65 C495.89 407.53 499.91 410.3 500 413.77 C500.08 417.25 496.35 420.72 496.19 424.48 C496.02 428.23 499.06 432.18 499.01 436.32 C498.96 440.45 495.66 444.92 495.89 449.28 C496.13 453.65 500.5 458.33 500.43 462.48 C500.35 466.63 495.78 470.07 495.47 474.17 C495.15 478.26 498.04 484.91 498.55 487.06M507.15 289.6 C507.75 291.7 510.79 298.29 510.74 302.22 C510.69 306.16 507.01 309.4 506.87 313.22 C506.73 317.05 509.69 320.95 509.88 325.17 C510.07 329.38 507.74 334.11 508.03 338.51 C508.33 342.9 511.65 347.58 511.64 351.53 C511.64 355.47 508.2 358.84 508.01 362.17 C507.81 365.51 510.7 368.36 510.48 371.53 C510.27 374.7 506.64 377.52 506.73 381.2 C506.82 384.88 511.08 389.66 511.04 393.61 C510.99 397.56 506.58 401.35 506.46 404.89 C506.34 408.42 510.36 411.44 510.3 414.84 C510.24 418.23 506.06 421.4 506.11 425.25 C506.15 429.1 510.57 433.95 510.58 437.93 C510.58 441.91 506.24 445.17 506.12 449.12 C505.99 453.07 509.66 457.83 509.81 461.64 C509.95 465.45 506.68 468.16 506.99 471.97 C507.3 475.77 510.89 482.39 511.67 484.47M516.9 289.6 C517.6 291.7 521.39 298.43 521.11 302.2 C520.82 305.97 514.93 308.33 515.19 312.23 C515.46 316.12 522.59 321.3 522.69 325.54 C522.79 329.79 516.02 333.87 515.8 337.69 C515.57 341.52 521.06 344.65 521.35 348.47 C521.64 352.29 517.59 356.85 517.54 360.63 C517.49 364.41 521.32 367.76 521.06 371.16 C520.81 374.56 515.71 377.14 516.02 381.04 C516.32 384.93 522.99 390.4 522.89 394.53 C522.79 398.66 515.67 402.34 515.41 405.81 C515.15 409.28 521.18 411.6 521.33 415.34 C521.47 419.08 515.99 423.75 516.29 428.23 C516.6 432.7 523.14 437.69 523.14 442.18 C523.15 446.67 516.62 450.81 516.31 455.15 C515.99 459.5 521.23 464.49 521.26 468.26 C521.3 472.04 516.48 474.29 516.52 477.81 C516.55 481.32 520.63 487.43 521.46 489.35M541.69 289.6 C542.14 291.89 544.41 299.17 544.42 303.33 C544.43 307.48 541.81 310.83 541.74 314.51 C541.67 318.19 544.26 321.41 544.02 325.43 C543.78 329.45 540.54 334.93 540.31 338.64 C540.07 342.35 542.48 344.2 542.58 347.7 C542.68 351.2 540.65 356.13 540.89 359.63 C541.14 363.12 544.03 365.01 544.06 368.67 C544.1 372.34 541.07 377.91 541.1 381.6 C541.12 385.3 544.36 387.34 544.2 390.82 C544.05 394.3 540.26 398.78 540.15 402.49 C540.05 406.21 543.4 409.1 543.57 413.11 C543.73 417.12 541.31 422.26 541.15 426.54 C540.98 430.81 542.39 435 542.56 438.73 C542.73 442.47 542.2 445.43 542.16 448.95 C542.12 452.47 542.63 456.05 542.32 459.86 C542.01 463.67 540.15 468.16 540.29 471.82 C540.43 475.48 542.96 478.16 543.16 481.82 C543.37 485.47 541.79 491.76 541.51 493.75M547.36 289.6 C547.89 291.14 550.53 295.49 550.51 298.87 C550.49 302.25 547.33 305.94 547.24 309.87 C547.15 313.8 549.95 318.3 549.96 322.44 C549.97 326.57 547.32 330.75 547.28 334.69 C547.25 338.62 549.76 341.89 549.72 346.04 C549.69 350.2 547.02 355.78 547.06 359.59 C547.1 363.4 550.1 365.03 549.95 368.9 C549.81 372.78 545.95 378.69 546.17 382.84 C546.39 386.99 551.11 389.79 551.27 393.8 C551.44 397.81 547.44 402.61 547.14 406.92 C546.84 411.22 549.34 415.93 549.47 419.63 C549.61 423.32 547.97 425.35 547.97 429.1 C547.97 432.84 549.77 438.4 549.47 442.11 C549.18 445.82 546.13 447.54 546.2 451.35 C546.27 455.17 549.63 460.67 549.91 465.01 C550.18 469.34 547.58 473.27 547.86 477.37 C548.14 481.46 550.97 487.53 551.59 489.56M569.86 289.6 C570.39 291.19 573.23 295.44 573 299.12 C572.77 302.8 568.82 307.4 568.5 311.67 C568.17 315.93 571.08 320.6 571.05 324.7 C571.02 328.8 568.01 332.18 568.3 336.26 C568.59 340.35 572.84 344.78 572.8 349.2 C572.76 353.62 568.19 358.31 568.05 362.78 C567.92 367.25 571.8 371.64 572 376.04 C572.2 380.43 569.24 384.94 569.25 389.15 C569.27 393.35 572.26 397.06 572.09 401.24 C571.92 405.43 568.25 410.53 568.23 414.24 C568.21 417.95 571.84 420.23 571.97 423.51 C572.1 426.8 568.92 430.72 569 433.97 C569.08 437.22 572.28 439.98 572.45 443.01 C572.62 446.03 570.15 448.43 570.04 452.13 C569.92 455.82 571.83 461.41 571.76 465.18 C571.69 468.96 569.62 471.52 569.61 474.8 C569.6 478.07 571.56 481.57 571.69 484.83 C571.82 488.1 570.61 492.79 570.39 494.38M578.63 289.6 C579.25 291.81 582.47 299.06 582.32 302.85 C582.18 306.64 577.79 309.02 577.76 312.36 C577.72 315.69 582.02 319.49 582.12 322.87 C582.21 326.24 578.33 328.67 578.33 332.61 C578.34 336.55 582.34 342.68 582.13 346.5 C581.92 350.32 577.09 352.44 577.06 355.54 C577.03 358.64 581.77 361.51 581.95 365.1 C582.13 368.7 578.24 373.22 578.13 377.1 C578.01 380.98 581.21 384.49 581.26 388.38 C581.32 392.27 578.3 396.16 578.43 400.43 C578.56 404.7 581.94 409.59 582.05 414.01 C582.15 418.44 579.07 422.63 579.07 427 C579.06 431.36 582.1 436.46 582.01 440.18 C581.91 443.91 578.63 445.6 578.51 449.34 C578.4 453.07 581.52 458.15 581.32 462.59 C581.12 467.03 577.3 471.46 577.31 475.98 C577.31 480.49 580.67 487.4 581.35 489.69" stroke="#505050" stroke-width="2" fill="none" opacity="0.7"/>
<path d="M402.03 289.6 C402.6 291.37 405.18 296.58 405.43 300.22 C405.69 303.86 403.22 307.52 403.55 311.44 C403.89 315.35 407.5 319.53 407.44 323.71 C407.39 327.89 403.28 332.05 403.2 336.52 C403.13 340.98 407.25 346.43 407.01 350.49 C406.78 354.55 402.09 357.29 401.8 360.86 C401.5 364.43 405 368.39 405.26 371.92 C405.51 375.46 403.2 378.12 403.32 382.08 C403.45 386.04 406.04 391.27 406 395.68 C405.95 400.09 402.87 404.15 403.06 408.53 C403.24 412.92 407.38 417.8 407.11 421.98 C406.85 426.17 401.64 429.51 401.45 433.64 C401.26 437.77 405.85 442.56 405.96 446.77 C406.06 450.98 401.82 454.93 402.08 458.9 C402.34 462.87 407.46 467.01 407.52 470.59 C407.59 474.17 402.64 476.72 402.47 480.4 C402.3 484.07 405.83 490.6 406.5 492.65M432.38 289.6 C432.91 291.91 435.73 299.45 435.57 303.44 C435.41 307.42 431.45 309.57 431.42 313.5 C431.39 317.43 435.22 323.06 435.39 327.03 C435.56 331 432.38 333.29 432.44 337.33 C432.51 341.37 435.79 347.09 435.78 351.28 C435.77 355.47 432.15 358.53 432.37 362.47 C432.6 366.41 437.32 370.72 437.15 374.92 C436.97 379.13 431.61 383.85 431.32 387.69 C431.04 391.53 435.44 394.19 435.42 397.98 C435.41 401.77 430.85 406.64 431.23 410.43 C431.6 414.22 437.52 416.98 437.67 420.73 C437.82 424.48 432.29 428.86 432.15 432.95 C432 437.03 436.91 441.1 436.79 445.23 C436.68 449.35 431.67 454.07 431.46 457.7 C431.24 461.33 435.49 463.95 435.52 467.02 C435.54 470.09 431.58 472.96 431.59 476.09 C431.61 479.22 434.96 484.19 435.63 485.8M434.08 289.6 C435.19 291.74 440.72 298.72 440.73 302.45 C440.74 306.17 433.95 308.52 434.15 311.95 C434.36 315.37 441.79 319.28 441.96 322.99 C442.13 326.7 435.07 330.77 435.17 334.22 C435.27 337.67 442.5 340.33 442.54 343.69 C442.58 347.06 435.46 351.09 435.42 354.4 C435.38 357.71 442.28 360.34 442.29 363.56 C442.3 366.77 435.54 369.83 435.48 373.69 C435.41 377.55 442.25 382.8 441.91 386.7 C441.57 390.6 433.35 393.7 433.45 397.09 C433.54 400.48 442.21 403.75 442.47 407.04 C442.73 410.33 435.1 413.21 435.01 416.83 C434.91 420.45 442.09 425.13 441.89 428.77 C441.68 432.4 433.64 435.44 433.77 438.67 C433.9 441.9 442.46 444.75 442.66 448.15 C442.86 451.55 435.29 455.27 434.99 459.07 C434.69 462.86 441.09 467.39 440.84 470.92 C440.58 474.45 433.5 476.48 433.46 480.24 C433.42 484.01 439.42 491.29 440.61 493.5M459.17 289.6 C459.96 291.76 463.75 298.58 463.9 302.54 C464.05 306.5 460.1 309.97 460.1 313.37 C460.09 316.77 463.99 319.17 463.89 322.93 C463.8 326.68 459.32 331.93 459.53 335.91 C459.73 339.89 465.17 343.31 465.13 346.81 C465.09 350.32 459.46 353.56 459.31 356.93 C459.15 360.3 464.04 363.54 464.22 367.03 C464.4 370.51 460.19 374.16 460.38 377.85 C460.57 381.55 465.37 385.78 465.38 389.21 C465.39 392.65 460.69 394.73 460.43 398.47 C460.18 402.2 463.95 407.93 463.86 411.65 C463.77 415.37 459.8 417.67 459.89 420.79 C459.98 423.92 464.54 426.68 464.4 430.37 C464.26 434.06 459.06 439.24 459.07 442.93 C459.07 446.62 464.39 449.28 464.45 452.52 C464.5 455.76 459.54 458.88 459.39 462.39 C459.25 465.9 463.53 470.17 463.58 473.59 C463.63 477.01 459.38 479.48 459.71 482.93 C460.03 486.38 464.57 492.39 465.54 494.28M464.11 289.6 C464.71 291.57 467.65 297.14 467.7 301.41 C467.74 305.69 464.35 311.33 464.38 315.23 C464.41 319.12 468.12 321.25 467.88 324.78 C467.63 328.31 462.93 332.82 462.9 336.4 C462.87 339.98 467.75 342.94 467.69 346.25 C467.62 349.57 462.5 352.92 462.52 356.32 C462.55 359.71 467.57 363.04 467.83 366.64 C468.09 370.25 464.27 374.5 464.08 377.95 C463.89 381.39 466.91 383.99 466.7 387.32 C466.49 390.65 462.85 394.09 462.82 397.91 C462.78 401.73 466.17 406.57 466.48 410.22 C466.79 413.88 464.76 416.32 464.69 419.82 C464.61 423.32 466.17 427.82 466.04 431.23 C465.91 434.64 463.95 436.85 463.89 440.28 C463.83 443.72 465.63 448.04 465.67 451.86 C465.7 455.68 464.02 459.37 464.1 463.21 C464.19 467.05 466.23 471.03 466.17 474.89 C466.12 478.76 464.18 484.47 463.78 486.39M489.99 289.6 C490.55 291.72 493.38 298.38 493.36 302.3 C493.34 306.23 490.14 309.68 489.89 313.14 C489.64 316.6 491.85 319.4 491.85 323.05 C491.85 326.7 489.89 331.47 489.88 335.04 C489.88 338.61 492.01 341.35 491.82 344.45 C491.64 347.55 488.78 350.48 488.77 353.63 C488.76 356.78 491.7 359.59 491.76 363.33 C491.82 367.07 489.04 371.67 489.12 376.08 C489.2 380.48 492.49 385.42 492.27 389.77 C492.04 394.12 487.82 397.81 487.75 402.17 C487.68 406.52 491.66 411.72 491.86 415.91 C492.06 420.1 488.85 423.11 488.95 427.3 C489.05 431.48 492.44 436.42 492.48 441.04 C492.53 445.65 489.08 450.99 489.21 455 C489.35 459 493.15 461.73 493.3 465.08 C493.45 468.43 490.36 471.54 490.12 475.09 C489.88 478.64 491.56 484.49 491.84 486.37M491.2 289.6 C491.79 291.66 494.79 298.07 494.72 301.94 C494.65 305.81 490.78 308.81 490.77 312.81 C490.76 316.81 494.63 321.76 494.66 325.95 C494.7 330.15 490.77 334.11 491 337.99 C491.22 341.88 496.06 345.29 496.01 349.26 C495.96 353.23 490.88 358.03 490.71 361.82 C490.53 365.61 494.95 368.02 494.95 372.02 C494.96 376.02 490.57 381.91 490.74 385.82 C490.9 389.74 495.62 391.91 495.92 395.51 C496.21 399.11 492.62 403.88 492.51 407.42 C492.39 410.95 495.35 413.51 495.23 416.7 C495.11 419.89 491.71 423.02 491.78 426.54 C491.85 430.06 495.62 433.68 495.65 437.8 C495.68 441.92 491.75 446.79 491.97 451.24 C492.18 455.7 496.85 460.6 496.96 464.54 C497.07 468.48 493 471.32 492.64 474.89 C492.28 478.45 494.43 484.09 494.79 485.93M525.14 289.6 C525.98 291.34 530.13 296.08 530.18 300.04 C530.23 304.01 525.5 309.23 525.45 313.4 C525.41 317.56 529.8 320.93 529.9 325.04 C529.99 329.16 526.31 333.98 526.01 338.08 C525.72 342.18 528.14 346.01 528.14 349.64 C528.14 353.27 525.75 356.17 526.02 359.86 C526.3 363.55 529.66 367.56 529.78 371.79 C529.9 376.03 527.04 381.38 526.75 385.29 C526.46 389.2 528.2 391.34 528.04 395.25 C527.89 399.16 525.57 404.84 525.81 408.74 C526.06 412.64 529.66 415.28 529.52 418.65 C529.39 422.01 525.08 425.41 525.01 428.92 C524.94 432.44 529.18 435.89 529.12 439.76 C529.05 443.63 524.58 447.96 524.62 452.14 C524.66 456.32 529.12 460.84 529.36 464.85 C529.6 468.86 526.3 472.15 526.06 476.21 C525.81 480.27 527.58 487.04 527.88 489.21M531.13 289.6 C532.2 291.25 537.75 295.7 537.58 299.5 C537.42 303.31 530.13 308.42 530.13 312.43 C530.13 316.44 537.51 320.05 537.58 323.58 C537.65 327.11 530.58 329.64 530.55 333.62 C530.53 337.59 537.31 343.43 537.44 347.43 C537.57 351.42 531.43 354.1 531.34 357.59 C531.24 361.08 537.12 364.45 536.88 368.39 C536.63 372.33 530.06 377.4 529.88 381.22 C529.7 385.05 535.84 387.93 535.8 391.33 C535.76 394.74 529.58 398.33 529.66 401.66 C529.73 405 536.24 407.88 536.26 411.34 C536.27 414.81 529.54 418.61 529.76 422.45 C529.97 426.28 537.43 430.39 537.54 434.36 C537.66 438.33 530.63 442.18 530.43 446.25 C530.22 450.31 536.28 455.03 536.33 458.77 C536.38 462.5 530.63 465.48 530.73 468.64 C530.82 471.81 536.95 474.58 536.91 477.73 C536.86 480.88 531.53 485.9 530.46 487.54M558.31 289.6 C559.35 291.63 564.71 297.44 564.53 301.77 C564.35 306.11 557.41 311.16 557.24 315.6 C557.08 320.05 563.31 324.58 563.56 328.44 C563.81 332.29 558.53 335 558.74 338.71 C558.96 342.43 564.97 346.49 564.88 350.72 C564.79 354.95 558.52 360.2 558.19 364.1 C557.85 367.99 562.82 370.48 562.88 374.09 C562.93 377.7 558.49 382.09 558.51 385.76 C558.54 389.43 563.23 392.89 563.01 396.12 C562.79 399.35 557.22 401.56 557.19 405.15 C557.16 408.73 562.81 413.86 562.85 417.63 C562.89 421.4 557.02 423.99 557.41 427.78 C557.8 431.56 565.27 436.72 565.21 440.33 C565.15 443.94 557.05 445.63 557.05 449.43 C557.04 453.22 565.08 459.2 565.17 463.1 C565.26 467 557.84 469.29 557.58 472.84 C557.32 476.4 562.6 482.52 563.61 484.46M561.25 289.6 C562.11 291.17 566.2 295.87 566.42 299.02 C566.65 302.17 562.58 304.82 562.62 308.48 C562.66 312.13 566.62 316.72 566.66 320.96 C566.71 325.2 562.78 329.97 562.87 333.92 C562.96 337.86 567.13 341.19 567.21 344.63 C567.29 348.07 563.52 350.94 563.35 354.57 C563.17 358.19 566.25 362.78 566.16 366.37 C566.06 369.97 562.51 372.69 562.78 376.14 C563.05 379.59 567.71 383.55 567.75 387.07 C567.8 390.58 563.28 393.35 563.03 397.21 C562.78 401.07 566.5 406.07 566.26 410.22 C566.02 414.38 561.29 418.08 561.58 422.15 C561.86 426.23 567.95 430.44 567.96 434.69 C567.98 438.94 561.73 443.91 561.67 447.65 C561.62 451.39 567.66 453.57 567.63 457.12 C567.59 460.67 561.48 465.31 561.45 468.94 C561.42 472.57 567.23 475.65 567.43 478.91 C567.63 482.16 563.44 486.85 562.64 488.44" stroke="#2c2c2c" stroke-width="2.8" fill="none" opacity="0.85"/>
<g fill="#fafafa" opacity="0.85"><ellipse cx="445.79" cy="376.11" rx="4.1" ry="3.45"/><ellipse cx="403.36" cy="431.9" rx="3.16" ry="2.58"/><ellipse cx="516.86" cy="425.75" rx="4.34" ry="3.8"/><ellipse cx="435.74" cy="355.28" rx="4.49" ry="2.52"/><ellipse cx="426.93" cy="339.56" rx="4.81" ry="3.65"/><ellipse cx="531.11" cy="475.34" rx="4.88" ry="2.62"/><ellipse cx="456.4" cy="431.31" rx="2.67" ry="3.22"/><ellipse cx="414.22" cy="306.7" rx="4.04" ry="2.3"/><ellipse cx="571.26" cy="460.25" rx="3.89" ry="2.4"/><ellipse cx="419.89" cy="391.56" rx="4.06" ry="2.73"/><ellipse cx="531.12" cy="395.73" rx="4.83" ry="2.21"/><ellipse cx="410.66" cy="369.35" rx="3.95" ry="2.51"/><ellipse cx="522.21" cy="338.74" rx="3.45" ry="2.95"/><ellipse cx="530.38" cy="440.42" rx="3.62" ry="2.89"/><ellipse cx="570.5" cy="470.75" rx="4.36" ry="2.21"/><ellipse cx="482.55" cy="415.66" rx="3.34" ry="2.07"/><ellipse cx="580.49" cy="466.25" rx="2.89" ry="2.93"/><ellipse cx="513.05" cy="353.22" rx="2.71" ry="3.5"/><ellipse cx="541.27" cy="378.69" rx="2.76" ry="2.79"/><ellipse cx="415.13" cy="476.24" rx="2.65" ry="2.58"/><ellipse cx="540.74" cy="322.64" rx="2.82" ry="2.14"/><ellipse cx="428.17" cy="396.21" rx="5" ry="2.34"/><ellipse cx="429.97" cy="439.42" rx="3.78" ry="2.68"/><ellipse cx="420.58" cy="342.62" rx="5.42" ry="2.23"/><ellipse cx="445.98" cy="434.92" rx="5.18" ry="3.81"/><ellipse cx="485.72" cy="474.92" rx="4.31" ry="2.58"/><ellipse cx="484.32" cy="430.35" rx="4.7" ry="2.26"/><ellipse cx="433.7" cy="475.26" rx="2.82" ry="3.63"/><ellipse cx="460.76" cy="343.56" rx="3.27" ry="2.94"/><ellipse cx="582.24" cy="325.14" rx="5.06" ry="2.64"/><ellipse cx="429.81" cy="435.68" rx="3.52" ry="2.38"/><ellipse cx="475.59" cy="449.94" rx="5.09" ry="3.15"/><ellipse cx="399.54" cy="439.14" rx="4.32" ry="3.8"/><ellipse cx="575.06" cy="358.24" rx="5.05" ry="3.64"/><ellipse cx="447.18" cy="365.43" rx="3.62" ry="2.71"/><ellipse cx="468.1" cy="318.04" rx="3.18" ry="3.82"/><ellipse cx="474.13" cy="415.48" rx="5.16" ry="3.51"/><ellipse cx="443.15" cy="468.09" rx="4.91" ry="3.98"/><ellipse cx="533.31" cy="437.55" rx="4.94" ry="2.51"/><ellipse cx="519.87" cy="368.18" rx="5.02" ry="2.27"/><ellipse cx="498.09" cy="359.97" rx="4.96" ry="2.69"/><ellipse cx="554.9" cy="454.8" rx="5.14" ry="2.28"/><ellipse cx="572.49" cy="435.58" rx="4.53" ry="3.3"/><ellipse cx="406.55" cy="458.93" rx="4.14" ry="2.91"/><ellipse cx="460.85" cy="442.75" rx="4.85" ry="3.74"/><ellipse cx="437.51" cy="360.72" rx="3.25" ry="2.2"/><ellipse cx="458.58" cy="302.42" rx="4.89" ry="2.45"/><ellipse cx="410.77" cy="310.14" rx="4.72" ry="2.4"/><ellipse cx="483.73" cy="372.1" rx="4.91" ry="3.91"/><ellipse cx="455.36" cy="414.83" rx="5.18" ry="2.94"/><ellipse cx="565.3" cy="433.63" rx="3.43" ry="3.75"/><ellipse cx="504.46" cy="317.23" rx="4.26" ry="3.66"/><ellipse cx="494.25" cy="387.34" rx="3.75" ry="3.76"/><ellipse cx="521.66" cy="336.15" rx="3.59" ry="2.73"/><ellipse cx="576.29" cy="426.62" rx="2.87" ry="3.83"/><ellipse cx="404.1" cy="407.15" rx="3.8" ry="3.43"/><ellipse cx="477.62" cy="314.72" rx="4.07" ry="3.64"/><ellipse cx="544.65" cy="363.72" rx="3.17" ry="3.49"/><ellipse cx="547.04" cy="338.2" rx="5.15" ry="3.98"/><ellipse cx="478.4" cy="368.16" rx="4.63" ry="3.86"/><ellipse cx="435.2" cy="353.55" rx="3.49" ry="3.46"/><ellipse cx="432.42" cy="398.99" rx="4" ry="3.34"/><ellipse cx="424.3" cy="474.97" rx="5.5" ry="3.12"/><ellipse cx="545.83" cy="331.59" rx="5.23" ry="3.1"/><ellipse cx="539.18" cy="458.61" rx="3.59" ry="3.85"/><ellipse cx="436.26" cy="301.94" rx="4.01" ry="3.8"/><ellipse cx="565.44" cy="474.65" rx="4.03" ry="3.87"/><ellipse cx="501.98" cy="324.24" rx="4.39" ry="3.61"/><ellipse cx="476.61" cy="409.23" rx="3.28" ry="2.55"/><ellipse cx="475.94" cy="392.75" rx="3.9" ry="2.18"/><ellipse cx="398.66" cy="360.67" rx="4.65" ry="3.5"/><ellipse cx="441.79" cy="344.99" rx="4.05" ry="2.35"/><ellipse cx="509.98" cy="465.23" rx="3.11" ry="3.17"/><ellipse cx="531.96" cy="436.5" rx="4.64" ry="3.42"/><ellipse cx="448.4" cy="453.03" rx="5.28" ry="2.11"/><ellipse cx="573.59" cy="379.66" rx="2.76" ry="2.14"/><ellipse cx="546.14" cy="423.23" rx="2.93" ry="2.92"/><ellipse cx="516.66" cy="482.56" rx="3.51" ry="3.53"/><ellipse cx="443.29" cy="334.47" rx="2.98" ry="2.82"/><ellipse cx="512.83" cy="353.81" rx="2.99" ry="2.44"/><ellipse cx="413.44" cy="333.4" rx="3.45" ry="3.01"/><ellipse cx="431.82" cy="386.54" rx="3.82" ry="3.95"/><ellipse cx="488.24" cy="472.77" rx="3.91" ry="2.4"/><ellipse cx="507.94" cy="324.42" rx="3.01" ry="2.15"/><ellipse cx="528.33" cy="476.88" rx="3.71" ry="2.71"/><ellipse cx="476.85" cy="362.86" rx="4.57" ry="2.78"/><ellipse cx="425.99" cy="457.85" rx="4.22" ry="2.01"/><ellipse cx="555.95" cy="432.66" rx="3.56" ry="3.26"/><ellipse cx="569.13" cy="372.07" rx="3.8" ry="2.6"/><ellipse cx="500.91" cy="420.47" rx="4.71" ry="3.9"/><ellipse cx="424.69" cy="365.43" rx="5.05" ry="3.58"/><ellipse cx="507.58" cy="423.16" rx="3.52" ry="3.89"/><ellipse cx="500.01" cy="372.23" rx="3.05" ry="2.23"/><ellipse cx="564.9" cy="446.01" rx="2.58" ry="2.65"/><ellipse cx="487" cy="389.5" rx="3.59" ry="3.79"/></g>
</g></g>
<clipPath id="cpL"><rect x="711" y="297.6" width="186" height="185.4"/></clipPath>
<g clip-path="url(#cpL)">
<rect x="711" y="297.6" width="186" height="185.4" fill="#fbfbfb"/>
<path d="M733.31 308.93L746.58 317.85M904.74 425.99L908.51 438.32M717.4 326.58L728.72 326.77M704.16 354.19L715.63 351.51M880.98 338.46L879.81 350.15M701.25 429.33L703.38 447.43M840.31 389.57L849.11 393.76M802.59 289.46L813.72 287.88M780.68 413.43L786.6 423.44M795.98 309.78L802.64 307.32M762.88 300.13L753.97 302.97M891.07 312.14L882.36 323.14M695.93 383.15L706.97 371.59M881.55 368.03L879.95 381.46M825.26 281.92L833.77 298.4M883.27 335.9L879.81 350.15M746.53 478.35L754.8 485.09M886.6 288.24L901.92 290.96M840.2 430.27L849.37 436.95M887.28 485.11L897.09 489.78M835.98 309.3L833.5 324.34M807.26 328.11L819.65 328.87M786.66 459.97L795.63 467.32M757.45 357.76L754.08 366.98M711.15 400.96L719.58 395.14M901.92 290.96L910.81 290.66M887.23 308.75L891.07 312.14M849.37 436.95L858.04 429.4M843.14 458.16L852.84 463.46M808.27 356.69L820.74 351.29M785.83 481.72L791.98 490.96M768.59 346.8L766.57 354.9M755.84 379.5L753.73 391.91M891.07 312.14L909.17 310.6M875.44 439.39L883.93 444.88M862.33 302.83L856 310.86M883.27 335.9L895.82 336.94M849.52 337.51L848.92 348.21M808.82 474.03L795.86 475.26M754.88 397.34L752.94 407.39M717.83 448.11L730.77 447.17M897.94 429.12L896.36 432.71M875.24 453.16L878.04 468.02M848.54 479.83L862.36 485.66M849.74 359.58L849.15 371.38M807.78 397.11L819.84 404.46M860.77 446.58L867.65 454.61M768.84 384.73L768.89 397.34M772.76 302.81L779.26 291.76M737.25 286.91L734.98 301.39M730.77 447.17L734.96 446.6M717.71 325.57L728.72 326.77M714.74 474.09L729.59 473.76M894.48 445.2L893.95 460.71M896.64 354.42L907.41 352.92M872.59 486.66L882.23 491.5M843.19 382.3L849.11 393.76M783.17 390.9L773.31 400.17M804.46 419.74L819.84 423.36M775.77 413.7L759.85 423.92M776.45 323.56L788.26 323.91M751.6 444.42L761.2 454.35M904.74 425.99L896.36 432.71M729.59 473.76L737.87 468.4M912.7 450.2L903.45 456.29M696.24 469.19L697.53 486.77M715.76 496.04L722.63 495.63M880.98 338.46L871.25 353.37M892.22 382.66L907.41 382.04M819.84 423.36L834.71 420.91M849.41 427.18L858.04 429.4M768.92 440.63L763.48 446.5M749.57 475.03L754.8 485.09M735.92 326.9L737.86 343.51M722.63 495.63L738.35 498.16M908.66 472.48L900.52 481.87M724.4 387.82L737.67 397.28M881.55 368.03L864.76 373.9M861.06 384.66L853.57 395.27M825.26 281.92L819.75 293.03M819.77 442.6L831.38 443.69M768.41 461.27L761.2 465.24M743.48 355.86L736.63 364.4M757.45 357.76L750.72 371.77M738.69 372.89L734.37 383.76M700.68 302.19L708.36 304.39M878.87 402.23L865.93 407.02M829.45 336.58L823.97 342.65M701.25 429.33L716.66 429.54M814.92 495.34L830.29 498.23M830.56 358.38L842.98 368.21M785.83 481.72L781.54 496.42M852.87 302.72L850.66 317.35M762.88 300.13L772.76 302.81M896.08 398.14L882.03 405.97M706.44 322.79L717.4 326.58M875.44 439.39L867.59 451.48M849.52 337.51L840.22 345.77M786.6 423.44L804.46 419.74M708.59 338.76L715.63 351.51M875.24 453.16L871.74 466.41M862.36 485.66L853.95 486.34M849.74 359.58L842.98 368.21M879.95 381.46L892.22 382.66M830.43 400.48L837.73 407.94M717.71 325.57L717.4 326.58M760.04 341.54L768.59 346.8M706.25 369.13L706.97 371.59M872.59 486.66L865.72 487.4M843.19 382.3L840.31 389.57M849.28 401.69L852.84 411.12M852.87 302.72L862.33 302.83M813.72 287.88L813.7 298.65M803.89 322.31L807.26 328.11M768.59 346.8L779.2 342.75M719.87 361.93L726.04 373.94M705.79 386.84L711.15 400.96M896.08 398.14L910.35 405.68M862.33 302.83L876.41 295.77M849.41 427.18L849.37 436.95M809.02 323.14L819.65 328.87M808.82 474.03L816.93 465.65M749.57 475.03L746.53 478.35M777.2 364.61L785.37 363.75M724.4 387.82L719.58 395.14M726.04 373.94L724.4 387.82M725.12 283.59L737.25 286.91M897.94 429.12L904.74 425.99M847.44 448.82L852.84 463.46M819.65 328.87L815.92 337.43M808.2 487.57L814.92 495.34M737.25 286.91L755.23 282.73M717.35 287.27L708.36 304.39M723.61 311.41L733.31 308.93M909.3 303.02L909.17 310.6M910.81 290.66L909.3 303.02M703.38 447.43L715.36 457.28M894.48 445.2L912.7 450.2M839.63 474.18L848.54 479.83M775.77 413.7L780.68 413.43M700.68 302.19L701.47 304.67M728.72 326.77L735.92 326.9M904.48 324.94L909.87 326.96M909.17 310.6L904.48 324.94M895.55 463.48L908.66 472.48M886.63 343.02L896.64 354.42M865.61 366.51L881.55 368.03M830.56 358.38L825.95 366.74M817.12 390.44L819.84 404.46M776.55 290.56L779.26 291.76M737.41 425.67L733 437.57M706.44 322.79L700.04 330.66M730.35 351.16L743.48 355.86M901.64 338.99L907.41 352.92M909.87 326.96L901.64 338.99M897.09 489.78L912.62 492.51M861.06 384.66L873.1 384.75M831.82 371.58L826.24 384.89M825.26 281.92L838.91 289.27M779.26 291.76L779.11 307.99M734.96 446.6L730.3 455.54M743.48 355.86L757.45 357.76M708.59 338.76L704.16 354.19M901.2 371.62L907.41 382.04M830.43 400.48L827.31 414.53M835.98 309.3L839.91 304.67M815.58 436.53L819.77 442.6M780.96 333.32L779.2 342.75M788.26 323.91L780.96 333.32M776.51 477.63L785.83 481.72M726.24 482.92L738.35 498.16M706.25 369.13L695.93 383.15M899.52 388.99L910.35 405.68M849.28 401.69L837.73 407.94M808.47 452.59L816.93 465.65M785.83 481.72L795.86 475.26M705.79 386.84L699.89 401.17M849.41 427.18L840.2 430.27M867.65 454.61L875.24 453.16M831.38 443.69L822.73 452.25M809.1 482.56L814.92 495.34M793.04 347.24L786.58 359.47M823.12 312.88L819.65 328.87M887.44 293.88L887.23 308.75M847.44 448.82L843.14 458.16M862.36 485.66L872.59 486.66M825.62 480.95L830.29 498.23M834.27 467.84L825.62 480.95M792.34 362.44L793.96 371.49M784.09 428.45L793.1 437.61M716.46 409.82L710.22 420.6M703.38 447.43L705.39 460.63M709.21 430.25L703.38 447.43M910.81 290.66L887.44 293.88M886.19 323.18L883.27 335.9M872.59 486.66L887.28 485.11M839.63 474.18L833.07 477.38M806.69 363.4L799.19 376.59M910.81 290.66L909.17 310.6M803.44 394.88L790.05 398.47M813.72 287.88L825.26 281.92M763.45 284.25L762.88 300.13M696.24 469.19L703.6 482.98M803.44 394.88L809.22 407.15M705.39 460.63L696.24 469.19M886.63 343.02L879.81 350.15M888.72 367.25L892.22 382.66M817.12 390.44L807.78 397.11M909.17 310.6L909.87 326.96M792.7 412.01L786.6 423.44M823.12 312.88L835.98 309.3M749.57 475.03L761.2 465.24M703.6 482.98L697.53 486.77M726.04 373.94L738.69 372.89M891.46 392.57L896.08 398.14M853.16 282.34L862.33 302.83M809.22 407.15L804.46 419.74M793.1 437.61L788.73 446.41M819.65 328.87L829.45 336.58M766.57 354.9L777.2 364.61M720.29 477.09L715.76 496.04M901.2 371.62L892.22 382.66M865.29 282.77L876.41 295.77M856 310.86L869.07 315.05M815.58 436.53L804.65 445.4M820.74 351.29L830.56 358.38M782.46 353.83L785.37 363.75M767.21 382.59L768.84 384.73M899.52 388.99L896.08 398.14M896.36 432.71L894.48 445.2M856.52 332.4L860.22 338.66M784.11 379.61L783.17 390.9M734.98 301.39L733.31 308.93M706.44 322.79L717.71 325.57M908.51 438.32L912.7 450.2M893.95 460.71L895.55 463.48M874.3 334.64L880.98 338.46M882.36 323.14L874.3 334.64M852.84 463.46L848.54 479.83M853.33 356.71L865.61 366.51M809.1 482.56L808.2 487.57M793.04 347.24L782.46 353.83M773.31 400.17L780.68 413.43M779.26 291.76L793.49 291.35M743.83 292.2L753.97 302.97M755.23 282.73L743.83 292.2M737.47 325.2L735.92 326.9M708.59 338.76L720.95 337.66M903.45 456.29L908.66 472.48M858.47 381.36L861.06 384.66M784.09 428.45L784.06 428.94M737.87 468.4L749.57 475.03M737.86 343.51L743.48 355.86M706.25 369.13L719.87 361.93M900.52 481.87L912.62 492.51M864.76 373.9L873.1 384.75M803.89 322.31L809.02 323.14M764.27 312.06L756.92 317.28M779.2 342.75L793.04 347.24M756.26 330.84L748.08 338.59M738.35 498.16L746.45 490.88M736.63 364.4L738.69 372.89M876.41 295.77L887.44 293.88M857.08 419.1L858.04 429.4M833.77 298.4L839.91 304.67M838.91 289.27L833.77 298.4M727.45 420.08L737.41 425.67M775.57 474.41L785.83 481.72M767.72 328.62L760.04 341.54M750.72 371.77L755.84 379.5M734.37 383.76L737.67 397.28M702.53 407.78L716.46 409.82M891.46 392.57L878.87 402.23M823.43 375.23L831.82 371.58M853.16 282.34L852.87 302.72M793.1 437.61L779.26 443.05M834.27 467.84L839.63 474.18M799.62 460.18L795.63 467.32M792.34 362.44L806.69 363.4M749.16 394.73L754.88 397.34M717.35 287.27L718.01 293.4M709.21 430.25L716.66 429.54M887.07 410.7L886.03 425.78M819.84 404.46L830.43 400.48M867.59 451.48L875.24 453.16M856 310.86L850.66 317.35M830.29 498.23L839.29 491.85M795.86 475.26L791.98 490.96M803.44 394.88L817.12 390.44M767.21 382.59L753.73 391.91M763.45 284.25L776.55 290.56M744.35 407.92L750.97 419.28M718.01 293.4L708.36 304.39M705.39 460.63L715.36 457.28M896.36 432.71L883.93 444.88M842.98 368.21L843.19 382.3M840.31 389.57L853.57 395.27M743.38 437.24L751.6 444.42M734.98 301.39L723.61 311.41M703.6 482.98L720.29 477.09M893.95 460.71L878.04 468.02M853.33 356.71L849.15 371.38M759.85 423.92L756.8 437.44M737.47 325.2L728.72 326.77M903.45 456.29L895.55 463.48M887.28 485.11L882.23 491.5M785.37 363.75L792.34 362.44M761.2 454.35L761.2 465.24M763.48 446.5L761.2 454.35M786.66 459.97L795.86 475.26M737.86 343.51L730.35 351.16M900.52 481.87L897.09 489.78M843.14 458.16L856.67 468.11M754.8 485.09L761.73 493.81M736.63 364.4L726.04 373.94M697.2 285.98L700.68 302.19M862.33 302.83L869.07 315.05M882.36 323.14L886.19 323.18M775.57 474.41L776.51 477.63M808.82 474.03L808.2 487.57M755.23 282.73L763.45 284.25M736.92 414.4L737.41 425.67M701.47 304.67L706.44 322.79M870.4 418.93L858.04 429.4M825.95 366.74L831.82 371.58M753.97 302.97L764.27 312.06M733 437.57L734.96 446.6M714.74 474.09L726.24 482.92M700.04 330.66L708.59 338.76M867.59 451.48L867.65 454.61M912.7 450.2L893.95 460.71M791.87 282.91L793.49 291.35M776.45 323.56L786.57 331.46M756.26 330.84L767.72 328.62M717.4 326.58L720.95 337.66M704.16 354.19L706.25 369.13M888.72 367.25L901.2 371.62M838.91 289.27L853.16 282.34M827.31 414.53L834.71 420.91M795.98 309.78L803.89 322.31M743.38 437.24L734.96 446.6M743.51 460.92L749.57 475.03M715.63 351.51L719.87 361.93M908.66 472.48L912.62 492.51M695.93 383.15L705.79 386.84M891.46 392.57L899.52 388.99M820.26 439.36L831.38 443.69M813.7 298.65L802.64 307.32M799.62 460.18L808.47 452.59M768.41 461.27L776.51 477.63M746.53 478.35L746.45 490.88M699.89 401.17L702.53 407.78M887.07 410.7L899.98 406.98M886.6 288.24L887.44 293.88M807.26 328.11L815.92 337.43M786.58 359.47L792.34 362.44M880.98 338.46L886.63 343.02M711.15 400.96L716.46 409.82M701.25 429.33L709.21 430.25M901.92 290.96L909.3 303.02M896.36 432.71L908.51 438.32M887.23 308.75L886.19 323.18M780.68 413.43L792.7 412.01M821.55 321.38L819.65 328.87M808.27 356.69L806.69 363.4M768.89 397.34L773.31 400.17M875.44 439.39L860.77 446.58M881.55 368.03L888.72 367.25M710.22 420.6L716.66 429.54M875.44 439.39L875.24 453.16M893.95 460.71L903.45 456.29M883.27 335.9L886.63 343.02M784.06 428.94L793.1 437.61M823.97 342.65L820.74 351.29M790.05 398.47L792.7 412.01M736.92 414.4L727.45 420.08M717.83 448.11L715.36 457.28M895.82 336.94L901.64 338.99M887.28 485.11L900.52 481.87M858.47 381.36L864.76 373.9M786.66 459.97L799.62 460.18M825.95 366.74L823.43 375.23M757.45 357.76L766.57 354.9M807.78 397.11L809.22 407.15M772.76 302.81L779.11 307.99M733 437.57L730.77 447.17M717.71 325.57L720.95 337.66M737.86 343.51L748.08 338.59M882.03 405.97L887.07 410.7M714.74 474.09L720.29 477.09M853.57 395.27L865.59 398.42M755.84 379.5L767.21 382.59M791.87 282.91L779.26 291.76M776.45 323.56L780.96 333.32M849.52 337.51L856.52 332.4M892.22 382.66L899.52 388.99M809.02 323.14L807.26 328.11M857.08 419.1L870.4 418.93M827.31 414.53L819.84 423.36M754.88 397.34L768.89 397.34M804.65 445.4L808.47 452.59M795.98 309.78L788.26 323.91M849.74 359.58L853.33 356.71M860.77 446.58L867.59 451.48M820.26 439.36L819.77 442.6M750.97 419.28L759.85 423.92M786.57 331.46L779.2 342.75M909.3 303.02L891.07 312.14M886.6 288.24L876.41 295.77M751.6 444.42L763.48 446.5M786.58 359.47L785.37 363.75M904.48 324.94L895.82 336.94M775.77 413.7L786.6 423.44M856.67 468.11L848.54 479.83M887.23 308.75L882.36 323.14M776.55 290.56L772.76 302.81M830.56 358.38L831.82 371.58M762.88 300.13L764.27 312.06M883.27 335.9L880.98 338.46M779.11 307.99L776.45 323.56M813.7 298.65L819.75 293.03M743.48 355.86L754.08 366.98M879.95 381.46L891.46 392.57M761.73 493.81L781.54 496.42M726.24 482.92L722.63 495.63M700.68 302.19L718.01 293.4M760.04 341.54L766.57 354.9M878.87 402.23L887.07 410.7M852.87 302.72L856 310.86M755.84 379.5L768.84 384.73M822.73 452.25L816.93 465.65M896.08 398.14L899.98 406.98M867.65 454.61L878.04 468.02M850.66 317.35L856.52 332.4M808.82 474.03L809.1 482.56M725.12 283.59L734.98 301.39M825.62 480.95L814.92 495.34M897.94 429.12L908.51 438.32M848.92 348.21L853.33 356.71M826.24 384.89L840.31 389.57M733 437.57L743.38 437.24M839.63 474.18L825.62 480.95M806.69 363.4L793.96 371.49M849.28 401.69L853.57 395.27M894.48 445.2L903.45 456.29M849.15 371.38L858.47 381.36M730.3 455.54L743.51 460.92M904.48 324.94L901.64 338.99M849.41 427.18L857.08 419.1M809.02 323.14L821.55 321.38M865.61 366.51L864.76 373.9M849.11 393.76L853.57 395.27M827.31 414.53L837.73 407.94M746.45 490.88L761.73 493.81M724.4 387.82L734.37 383.76M823.12 312.88L833.5 324.34M768.92 440.63L779.26 443.05M735.92 326.9L748.08 338.59M730.35 351.16L736.63 364.4M847.44 448.82L860.77 446.58M815.92 337.43L823.97 342.65M861.06 384.66L865.59 398.42M795.63 467.32L795.86 475.26M786.6 423.44L784.06 428.94M768.41 461.27L775.57 474.41M756.92 317.28L756.26 330.84M886.03 425.78L896.36 432.71M865.29 282.77L862.33 302.83M699.89 401.17L711.15 400.96M879.95 381.46L873.1 384.75M865.93 407.02L870.4 418.93M782.46 353.83L777.2 364.61M726.24 482.92L715.76 496.04M776.51 477.63L781.54 496.42M864.66 312.19L869.07 315.05M856.67 468.11L871.74 466.41M701.25 429.33L710.22 420.6M839.29 491.85L853.95 486.34M878.87 402.23L882.03 405.97M817.12 390.44L826.24 384.89M852.87 302.72L839.91 304.67M829.45 336.58L840.22 345.77M752.94 407.39L759.85 423.92M793.96 371.49L799.19 376.59M715.36 457.28L730.3 455.54M754.08 366.98L755.84 379.5M737.67 397.28L744.35 407.92M874.3 334.64L860.22 338.66M853.95 486.34L865.72 487.4M867.65 454.61L871.74 466.41M773.31 400.17L775.77 413.7M756.8 437.44L763.48 446.5M720.29 477.09L726.24 482.92M753.73 391.91L754.88 397.34M725.12 283.59L718.01 293.4M871.25 353.37L865.61 366.51M815.58 436.53L820.26 439.36M862.36 485.66L865.72 487.4M848.92 348.21L849.74 359.58M780.96 333.32L786.57 331.46M746.58 317.85L735.92 326.9M723.61 311.41L717.71 325.57M864.76 373.9L861.06 384.66M852.84 411.12L857.08 419.1M808.47 452.59L822.73 452.25M849.15 371.38L843.19 382.3M784.11 379.61L799.19 376.59M813.72 287.88L819.75 293.03M865.59 398.42L865.93 407.02M833.77 298.4L835.98 309.3M705.79 386.84L719.58 395.14M788.73 446.41L786.66 459.97M809.1 482.56L825.62 480.95M849.11 393.76L849.28 401.69M750.72 371.77L738.69 372.89M838.91 289.27L839.91 304.67M823.12 312.88L821.55 321.38M730.35 351.16L719.87 361.93M726.04 373.94L734.37 383.76M833.5 324.34L829.45 336.58M825.62 480.95L833.07 477.38M749.16 394.73L737.67 397.28M819.65 328.87L823.97 342.65M703.38 447.43L717.83 448.11M799.62 460.18L795.86 475.26M749.16 394.73L752.94 407.39M840.22 345.77L830.56 358.38M764.27 312.06L779.11 307.99M820.74 351.29L825.95 366.74M696.24 469.19L714.74 474.09M883.93 444.88L875.24 453.16M767.21 382.59L768.89 397.34M763.45 284.25L779.26 291.76M864.66 312.19L850.66 317.35M842.98 368.21L831.82 371.58M802.59 289.46L813.7 298.65M752.94 407.39L750.97 419.28M767.72 328.62L780.96 333.32M853.16 282.34L865.29 282.77M756.8 437.44L751.6 444.42M886.03 425.78L904.74 425.99M856 310.86L864.66 312.19M782.46 353.83L786.58 359.47M788.26 323.91L786.57 331.46M737.87 468.4L746.53 478.35M754.8 485.09L746.45 490.88M784.11 379.61L793.96 371.49M834.71 420.91L840.2 430.27M734.98 301.39L743.83 292.2M874.3 334.64L883.27 335.9M852.84 463.46L856.67 468.11M737.47 325.2L746.58 317.85M833.5 324.34L819.65 328.87M871.25 353.37L879.81 350.15M848.54 479.83L853.95 486.34M823.43 375.23L826.24 384.89M784.09 428.45L786.6 423.44M834.27 467.84L833.07 477.38M746.58 317.85L756.92 317.28M730.77 447.17L730.3 455.54M819.84 404.46L827.31 414.53M819.75 293.03L833.77 298.4M779.26 443.05L788.73 446.41M748.08 338.59L760.04 341.54M803.44 394.88L807.78 397.11M729.59 473.76L726.24 482.92M697.53 486.77L715.76 496.04M865.59 398.42L878.87 402.23M705.39 460.63L714.74 474.09M840.31 389.57L830.43 400.48M802.59 289.46L793.49 291.35M788.73 446.41L804.65 445.4M743.51 460.92L737.87 468.4M750.72 371.77L754.08 366.98M792.7 412.01L804.46 419.74M870.4 418.93L886.03 425.78M703.6 482.98L715.76 496.04M837.73 407.94L834.71 420.91M819.77 442.6L822.73 452.25M802.64 307.32L803.89 322.31M781.54 496.42L791.98 490.96M749.16 394.73L753.73 391.91M793.1 437.61L804.65 445.4M706.97 371.59L705.79 386.84M717.35 287.27L725.12 283.59M886.03 425.78L897.94 429.12M907.41 352.92L901.2 371.62M840.22 345.77L848.92 348.21M791.98 490.96L808.2 487.57M785.37 363.75L793.96 371.49M744.35 407.92L752.94 407.39M711.15 400.96L702.53 407.78M901.92 290.96L887.44 293.88M883.93 444.88L894.48 445.2M849.37 436.95L847.44 448.82M871.74 466.41L878.04 468.02M843.14 458.16L834.27 467.84M842.98 368.21L849.15 371.38M808.27 356.69L792.34 362.44M719.58 395.14L716.46 409.82M743.38 437.24L756.8 437.44M779.2 342.75L782.46 353.83M710.22 420.6L709.21 430.25M891.07 312.14L886.19 323.18M865.72 487.4L882.23 491.5M697.2 285.98L701.47 304.67M893.95 460.71L908.66 472.48M882.36 323.14L883.27 335.9M756.8 437.44L768.92 440.63M727.45 420.08L716.66 429.54M895.82 336.94L886.63 343.02M882.23 491.5L897.09 489.78M755.23 282.73L762.88 300.13M848.54 479.83L839.29 491.85M823.43 375.23L817.12 390.44M895.82 336.94L907.41 352.92M887.28 485.11L912.62 492.51M772.76 302.81L764.27 312.06M858.47 381.36L873.1 384.75M761.2 454.35L768.41 461.27M714.74 474.09L703.6 482.98M896.64 354.42L888.72 367.25M753.97 302.97L756.92 317.28M852.84 411.12L865.93 407.02M819.84 404.46L809.22 407.15M821.55 321.38L833.5 324.34M776.45 323.56L767.72 328.62M768.59 346.8L782.46 353.83M729.59 473.76L720.29 477.09M892.22 382.66L891.46 392.57M697.2 285.98L717.35 287.27M756.26 330.84L760.04 341.54M862.33 302.83L864.66 312.19M819.84 423.36L815.58 436.53M849.52 337.51L860.22 338.66M907.41 382.04L899.52 388.99M736.92 414.4L744.35 407.92M701.47 304.67L708.36 304.39M819.77 442.6L808.47 452.59M886.6 288.24L887.23 308.75M820.26 439.36L822.73 452.25M737.25 286.91L743.83 292.2M910.35 405.68L899.98 406.98M708.36 304.39L723.61 311.41M700.04 330.66L717.4 326.58M785.37 363.75L784.11 379.61M786.58 359.47L777.2 364.61M783.17 390.9L790.05 398.47M791.87 282.91L802.59 289.46" stroke="#555" stroke-width="3.8" fill="none" stroke-linecap="round"/>
<path d="M733.31 308.93L746.58 317.85M904.74 425.99L908.51 438.32M717.4 326.58L728.72 326.77M704.16 354.19L715.63 351.51M880.98 338.46L879.81 350.15M701.25 429.33L703.38 447.43M840.31 389.57L849.11 393.76M802.59 289.46L813.72 287.88M780.68 413.43L786.6 423.44M795.98 309.78L802.64 307.32M762.88 300.13L753.97 302.97M891.07 312.14L882.36 323.14M695.93 383.15L706.97 371.59M881.55 368.03L879.95 381.46M825.26 281.92L833.77 298.4M883.27 335.9L879.81 350.15M746.53 478.35L754.8 485.09M886.6 288.24L901.92 290.96M840.2 430.27L849.37 436.95M887.28 485.11L897.09 489.78M835.98 309.3L833.5 324.34M807.26 328.11L819.65 328.87M786.66 459.97L795.63 467.32M757.45 357.76L754.08 366.98M711.15 400.96L719.58 395.14M901.92 290.96L910.81 290.66M887.23 308.75L891.07 312.14M849.37 436.95L858.04 429.4M843.14 458.16L852.84 463.46M808.27 356.69L820.74 351.29M785.83 481.72L791.98 490.96M768.59 346.8L766.57 354.9M755.84 379.5L753.73 391.91M891.07 312.14L909.17 310.6M875.44 439.39L883.93 444.88M862.33 302.83L856 310.86M883.27 335.9L895.82 336.94M849.52 337.51L848.92 348.21M808.82 474.03L795.86 475.26M754.88 397.34L752.94 407.39M717.83 448.11L730.77 447.17M897.94 429.12L896.36 432.71M875.24 453.16L878.04 468.02M848.54 479.83L862.36 485.66M849.74 359.58L849.15 371.38M807.78 397.11L819.84 404.46M860.77 446.58L867.65 454.61M768.84 384.73L768.89 397.34M772.76 302.81L779.26 291.76M737.25 286.91L734.98 301.39M730.77 447.17L734.96 446.6M717.71 325.57L728.72 326.77M714.74 474.09L729.59 473.76M894.48 445.2L893.95 460.71M896.64 354.42L907.41 352.92M872.59 486.66L882.23 491.5M843.19 382.3L849.11 393.76M783.17 390.9L773.31 400.17M804.46 419.74L819.84 423.36M775.77 413.7L759.85 423.92M776.45 323.56L788.26 323.91M751.6 444.42L761.2 454.35M904.74 425.99L896.36 432.71M729.59 473.76L737.87 468.4M912.7 450.2L903.45 456.29M696.24 469.19L697.53 486.77M715.76 496.04L722.63 495.63M880.98 338.46L871.25 353.37M892.22 382.66L907.41 382.04M819.84 423.36L834.71 420.91M849.41 427.18L858.04 429.4M768.92 440.63L763.48 446.5M749.57 475.03L754.8 485.09M735.92 326.9L737.86 343.51M722.63 495.63L738.35 498.16M908.66 472.48L900.52 481.87M724.4 387.82L737.67 397.28M881.55 368.03L864.76 373.9M861.06 384.66L853.57 395.27M825.26 281.92L819.75 293.03M819.77 442.6L831.38 443.69M768.41 461.27L761.2 465.24M743.48 355.86L736.63 364.4M757.45 357.76L750.72 371.77M738.69 372.89L734.37 383.76M700.68 302.19L708.36 304.39M878.87 402.23L865.93 407.02M829.45 336.58L823.97 342.65M701.25 429.33L716.66 429.54M814.92 495.34L830.29 498.23M830.56 358.38L842.98 368.21M785.83 481.72L781.54 496.42M852.87 302.72L850.66 317.35M762.88 300.13L772.76 302.81M896.08 398.14L882.03 405.97M706.44 322.79L717.4 326.58M875.44 439.39L867.59 451.48M849.52 337.51L840.22 345.77M786.6 423.44L804.46 419.74M708.59 338.76L715.63 351.51M875.24 453.16L871.74 466.41M862.36 485.66L853.95 486.34M849.74 359.58L842.98 368.21M879.95 381.46L892.22 382.66M830.43 400.48L837.73 407.94M717.71 325.57L717.4 326.58M760.04 341.54L768.59 346.8M706.25 369.13L706.97 371.59M872.59 486.66L865.72 487.4M843.19 382.3L840.31 389.57M849.28 401.69L852.84 411.12M852.87 302.72L862.33 302.83M813.72 287.88L813.7 298.65M803.89 322.31L807.26 328.11M768.59 346.8L779.2 342.75M719.87 361.93L726.04 373.94M705.79 386.84L711.15 400.96M896.08 398.14L910.35 405.68M862.33 302.83L876.41 295.77M849.41 427.18L849.37 436.95M809.02 323.14L819.65 328.87M808.82 474.03L816.93 465.65M749.57 475.03L746.53 478.35M777.2 364.61L785.37 363.75M724.4 387.82L719.58 395.14M726.04 373.94L724.4 387.82M725.12 283.59L737.25 286.91M897.94 429.12L904.74 425.99M847.44 448.82L852.84 463.46M819.65 328.87L815.92 337.43M808.2 487.57L814.92 495.34M737.25 286.91L755.23 282.73M717.35 287.27L708.36 304.39M723.61 311.41L733.31 308.93M909.3 303.02L909.17 310.6M910.81 290.66L909.3 303.02M703.38 447.43L715.36 457.28M894.48 445.2L912.7 450.2M839.63 474.18L848.54 479.83M775.77 413.7L780.68 413.43M700.68 302.19L701.47 304.67M728.72 326.77L735.92 326.9M904.48 324.94L909.87 326.96M909.17 310.6L904.48 324.94M895.55 463.48L908.66 472.48M886.63 343.02L896.64 354.42M865.61 366.51L881.55 368.03M830.56 358.38L825.95 366.74M817.12 390.44L819.84 404.46M776.55 290.56L779.26 291.76M737.41 425.67L733 437.57M706.44 322.79L700.04 330.66M730.35 351.16L743.48 355.86M901.64 338.99L907.41 352.92M909.87 326.96L901.64 338.99M897.09 489.78L912.62 492.51M861.06 384.66L873.1 384.75M831.82 371.58L826.24 384.89M825.26 281.92L838.91 289.27M779.26 291.76L779.11 307.99M734.96 446.6L730.3 455.54M743.48 355.86L757.45 357.76M708.59 338.76L704.16 354.19M901.2 371.62L907.41 382.04M830.43 400.48L827.31 414.53M835.98 309.3L839.91 304.67M815.58 436.53L819.77 442.6M780.96 333.32L779.2 342.75M788.26 323.91L780.96 333.32M776.51 477.63L785.83 481.72M726.24 482.92L738.35 498.16M706.25 369.13L695.93 383.15M899.52 388.99L910.35 405.68M849.28 401.69L837.73 407.94M808.47 452.59L816.93 465.65M785.83 481.72L795.86 475.26M705.79 386.84L699.89 401.17M849.41 427.18L840.2 430.27M867.65 454.61L875.24 453.16M831.38 443.69L822.73 452.25M809.1 482.56L814.92 495.34M793.04 347.24L786.58 359.47M823.12 312.88L819.65 328.87M887.44 293.88L887.23 308.75M847.44 448.82L843.14 458.16M862.36 485.66L872.59 486.66M825.62 480.95L830.29 498.23M834.27 467.84L825.62 480.95M792.34 362.44L793.96 371.49M784.09 428.45L793.1 437.61M716.46 409.82L710.22 420.6M703.38 447.43L705.39 460.63M709.21 430.25L703.38 447.43M910.81 290.66L887.44 293.88M886.19 323.18L883.27 335.9M872.59 486.66L887.28 485.11M839.63 474.18L833.07 477.38M806.69 363.4L799.19 376.59M910.81 290.66L909.17 310.6M803.44 394.88L790.05 398.47M813.72 287.88L825.26 281.92M763.45 284.25L762.88 300.13M696.24 469.19L703.6 482.98M803.44 394.88L809.22 407.15M705.39 460.63L696.24 469.19M886.63 343.02L879.81 350.15M888.72 367.25L892.22 382.66M817.12 390.44L807.78 397.11M909.17 310.6L909.87 326.96M792.7 412.01L786.6 423.44M823.12 312.88L835.98 309.3M749.57 475.03L761.2 465.24M703.6 482.98L697.53 486.77M726.04 373.94L738.69 372.89M891.46 392.57L896.08 398.14M853.16 282.34L862.33 302.83M809.22 407.15L804.46 419.74M793.1 437.61L788.73 446.41M819.65 328.87L829.45 336.58M766.57 354.9L777.2 364.61M720.29 477.09L715.76 496.04M901.2 371.62L892.22 382.66M865.29 282.77L876.41 295.77M856 310.86L869.07 315.05M815.58 436.53L804.65 445.4M820.74 351.29L830.56 358.38M782.46 353.83L785.37 363.75M767.21 382.59L768.84 384.73M899.52 388.99L896.08 398.14M896.36 432.71L894.48 445.2M856.52 332.4L860.22 338.66M784.11 379.61L783.17 390.9M734.98 301.39L733.31 308.93M706.44 322.79L717.71 325.57M908.51 438.32L912.7 450.2M893.95 460.71L895.55 463.48M874.3 334.64L880.98 338.46M882.36 323.14L874.3 334.64M852.84 463.46L848.54 479.83M853.33 356.71L865.61 366.51M809.1 482.56L808.2 487.57M793.04 347.24L782.46 353.83M773.31 400.17L780.68 413.43M779.26 291.76L793.49 291.35M743.83 292.2L753.97 302.97M755.23 282.73L743.83 292.2M737.47 325.2L735.92 326.9M708.59 338.76L720.95 337.66M903.45 456.29L908.66 472.48M858.47 381.36L861.06 384.66M784.09 428.45L784.06 428.94M737.87 468.4L749.57 475.03M737.86 343.51L743.48 355.86M706.25 369.13L719.87 361.93M900.52 481.87L912.62 492.51M864.76 373.9L873.1 384.75M803.89 322.31L809.02 323.14M764.27 312.06L756.92 317.28M779.2 342.75L793.04 347.24M756.26 330.84L748.08 338.59M738.35 498.16L746.45 490.88M736.63 364.4L738.69 372.89M876.41 295.77L887.44 293.88M857.08 419.1L858.04 429.4M833.77 298.4L839.91 304.67M838.91 289.27L833.77 298.4M727.45 420.08L737.41 425.67M775.57 474.41L785.83 481.72M767.72 328.62L760.04 341.54M750.72 371.77L755.84 379.5M734.37 383.76L737.67 397.28M702.53 407.78L716.46 409.82M891.46 392.57L878.87 402.23M823.43 375.23L831.82 371.58M853.16 282.34L852.87 302.72M793.1 437.61L779.26 443.05M834.27 467.84L839.63 474.18M799.62 460.18L795.63 467.32M792.34 362.44L806.69 363.4M749.16 394.73L754.88 397.34M717.35 287.27L718.01 293.4M709.21 430.25L716.66 429.54M887.07 410.7L886.03 425.78M819.84 404.46L830.43 400.48M867.59 451.48L875.24 453.16M856 310.86L850.66 317.35M830.29 498.23L839.29 491.85M795.86 475.26L791.98 490.96M803.44 394.88L817.12 390.44M767.21 382.59L753.73 391.91M763.45 284.25L776.55 290.56M744.35 407.92L750.97 419.28M718.01 293.4L708.36 304.39M705.39 460.63L715.36 457.28M896.36 432.71L883.93 444.88M842.98 368.21L843.19 382.3M840.31 389.57L853.57 395.27M743.38 437.24L751.6 444.42M734.98 301.39L723.61 311.41M703.6 482.98L720.29 477.09M893.95 460.71L878.04 468.02M853.33 356.71L849.15 371.38M759.85 423.92L756.8 437.44M737.47 325.2L728.72 326.77M903.45 456.29L895.55 463.48M887.28 485.11L882.23 491.5M785.37 363.75L792.34 362.44M761.2 454.35L761.2 465.24M763.48 446.5L761.2 454.35M786.66 459.97L795.86 475.26M737.86 343.51L730.35 351.16M900.52 481.87L897.09 489.78M843.14 458.16L856.67 468.11M754.8 485.09L761.73 493.81M736.63 364.4L726.04 373.94M697.2 285.98L700.68 302.19M862.33 302.83L869.07 315.05M882.36 323.14L886.19 323.18M775.57 474.41L776.51 477.63M808.82 474.03L808.2 487.57M755.23 282.73L763.45 284.25M736.92 414.4L737.41 425.67M701.47 304.67L706.44 322.79M870.4 418.93L858.04 429.4M825.95 366.74L831.82 371.58M753.97 302.97L764.27 312.06M733 437.57L734.96 446.6M714.74 474.09L726.24 482.92M700.04 330.66L708.59 338.76M867.59 451.48L867.65 454.61M912.7 450.2L893.95 460.71M791.87 282.91L793.49 291.35M776.45 323.56L786.57 331.46M756.26 330.84L767.72 328.62M717.4 326.58L720.95 337.66M704.16 354.19L706.25 369.13M888.72 367.25L901.2 371.62M838.91 289.27L853.16 282.34M827.31 414.53L834.71 420.91M795.98 309.78L803.89 322.31M743.38 437.24L734.96 446.6M743.51 460.92L749.57 475.03M715.63 351.51L719.87 361.93M908.66 472.48L912.62 492.51M695.93 383.15L705.79 386.84M891.46 392.57L899.52 388.99M820.26 439.36L831.38 443.69M813.7 298.65L802.64 307.32M799.62 460.18L808.47 452.59M768.41 461.27L776.51 477.63M746.53 478.35L746.45 490.88M699.89 401.17L702.53 407.78M887.07 410.7L899.98 406.98M886.6 288.24L887.44 293.88M807.26 328.11L815.92 337.43M786.58 359.47L792.34 362.44M880.98 338.46L886.63 343.02M711.15 400.96L716.46 409.82M701.25 429.33L709.21 430.25M901.92 290.96L909.3 303.02M896.36 432.71L908.51 438.32M887.23 308.75L886.19 323.18M780.68 413.43L792.7 412.01M821.55 321.38L819.65 328.87M808.27 356.69L806.69 363.4M768.89 397.34L773.31 400.17M875.44 439.39L860.77 446.58M881.55 368.03L888.72 367.25M710.22 420.6L716.66 429.54M875.44 439.39L875.24 453.16M893.95 460.71L903.45 456.29M883.27 335.9L886.63 343.02M784.06 428.94L793.1 437.61M823.97 342.65L820.74 351.29M790.05 398.47L792.7 412.01M736.92 414.4L727.45 420.08M717.83 448.11L715.36 457.28M895.82 336.94L901.64 338.99M887.28 485.11L900.52 481.87M858.47 381.36L864.76 373.9M786.66 459.97L799.62 460.18M825.95 366.74L823.43 375.23M757.45 357.76L766.57 354.9M807.78 397.11L809.22 407.15M772.76 302.81L779.11 307.99M733 437.57L730.77 447.17M717.71 325.57L720.95 337.66M737.86 343.51L748.08 338.59M882.03 405.97L887.07 410.7M714.74 474.09L720.29 477.09M853.57 395.27L865.59 398.42M755.84 379.5L767.21 382.59M791.87 282.91L779.26 291.76M776.45 323.56L780.96 333.32M849.52 337.51L856.52 332.4M892.22 382.66L899.52 388.99M809.02 323.14L807.26 328.11M857.08 419.1L870.4 418.93M827.31 414.53L819.84 423.36M754.88 397.34L768.89 397.34M804.65 445.4L808.47 452.59M795.98 309.78L788.26 323.91M849.74 359.58L853.33 356.71M860.77 446.58L867.59 451.48M820.26 439.36L819.77 442.6M750.97 419.28L759.85 423.92M786.57 331.46L779.2 342.75M909.3 303.02L891.07 312.14M886.6 288.24L876.41 295.77M751.6 444.42L763.48 446.5M786.58 359.47L785.37 363.75M904.48 324.94L895.82 336.94M775.77 413.7L786.6 423.44M856.67 468.11L848.54 479.83M887.23 308.75L882.36 323.14M776.55 290.56L772.76 302.81M830.56 358.38L831.82 371.58M762.88 300.13L764.27 312.06M883.27 335.9L880.98 338.46M779.11 307.99L776.45 323.56M813.7 298.65L819.75 293.03M743.48 355.86L754.08 366.98M879.95 381.46L891.46 392.57M761.73 493.81L781.54 496.42M726.24 482.92L722.63 495.63M700.68 302.19L718.01 293.4M760.04 341.54L766.57 354.9M878.87 402.23L887.07 410.7M852.87 302.72L856 310.86M755.84 379.5L768.84 384.73M822.73 452.25L816.93 465.65M896.08 398.14L899.98 406.98M867.65 454.61L878.04 468.02M850.66 317.35L856.52 332.4M808.82 474.03L809.1 482.56M725.12 283.59L734.98 301.39M825.62 480.95L814.92 495.34M897.94 429.12L908.51 438.32M848.92 348.21L853.33 356.71M826.24 384.89L840.31 389.57M733 437.57L743.38 437.24M839.63 474.18L825.62 480.95M806.69 363.4L793.96 371.49M849.28 401.69L853.57 395.27M894.48 445.2L903.45 456.29M849.15 371.38L858.47 381.36M730.3 455.54L743.51 460.92M904.48 324.94L901.64 338.99M849.41 427.18L857.08 419.1M809.02 323.14L821.55 321.38M865.61 366.51L864.76 373.9M849.11 393.76L853.57 395.27M827.31 414.53L837.73 407.94M746.45 490.88L761.73 493.81M724.4 387.82L734.37 383.76M823.12 312.88L833.5 324.34M768.92 440.63L779.26 443.05M735.92 326.9L748.08 338.59M730.35 351.16L736.63 364.4M847.44 448.82L860.77 446.58M815.92 337.43L823.97 342.65M861.06 384.66L865.59 398.42M795.63 467.32L795.86 475.26M786.6 423.44L784.06 428.94M768.41 461.27L775.57 474.41M756.92 317.28L756.26 330.84M886.03 425.78L896.36 432.71M865.29 282.77L862.33 302.83M699.89 401.17L711.15 400.96M879.95 381.46L873.1 384.75M865.93 407.02L870.4 418.93M782.46 353.83L777.2 364.61M726.24 482.92L715.76 496.04M776.51 477.63L781.54 496.42M864.66 312.19L869.07 315.05M856.67 468.11L871.74 466.41M701.25 429.33L710.22 420.6M839.29 491.85L853.95 486.34M878.87 402.23L882.03 405.97M817.12 390.44L826.24 384.89M852.87 302.72L839.91 304.67M829.45 336.58L840.22 345.77M752.94 407.39L759.85 423.92M793.96 371.49L799.19 376.59M715.36 457.28L730.3 455.54M754.08 366.98L755.84 379.5M737.67 397.28L744.35 407.92M874.3 334.64L860.22 338.66M853.95 486.34L865.72 487.4M867.65 454.61L871.74 466.41M773.31 400.17L775.77 413.7M756.8 437.44L763.48 446.5M720.29 477.09L726.24 482.92M753.73 391.91L754.88 397.34M725.12 283.59L718.01 293.4M871.25 353.37L865.61 366.51M815.58 436.53L820.26 439.36M862.36 485.66L865.72 487.4M848.92 348.21L849.74 359.58M780.96 333.32L786.57 331.46M746.58 317.85L735.92 326.9M723.61 311.41L717.71 325.57M864.76 373.9L861.06 384.66M852.84 411.12L857.08 419.1M808.47 452.59L822.73 452.25M849.15 371.38L843.19 382.3M784.11 379.61L799.19 376.59M813.72 287.88L819.75 293.03M865.59 398.42L865.93 407.02M833.77 298.4L835.98 309.3M705.79 386.84L719.58 395.14M788.73 446.41L786.66 459.97M809.1 482.56L825.62 480.95M849.11 393.76L849.28 401.69M750.72 371.77L738.69 372.89M838.91 289.27L839.91 304.67M823.12 312.88L821.55 321.38M730.35 351.16L719.87 361.93M726.04 373.94L734.37 383.76M833.5 324.34L829.45 336.58M825.62 480.95L833.07 477.38M749.16 394.73L737.67 397.28M819.65 328.87L823.97 342.65M703.38 447.43L717.83 448.11M799.62 460.18L795.86 475.26M749.16 394.73L752.94 407.39M840.22 345.77L830.56 358.38M764.27 312.06L779.11 307.99M820.74 351.29L825.95 366.74M696.24 469.19L714.74 474.09M883.93 444.88L875.24 453.16M767.21 382.59L768.89 397.34M763.45 284.25L779.26 291.76M864.66 312.19L850.66 317.35M842.98 368.21L831.82 371.58M802.59 289.46L813.7 298.65M752.94 407.39L750.97 419.28M767.72 328.62L780.96 333.32M853.16 282.34L865.29 282.77M756.8 437.44L751.6 444.42M886.03 425.78L904.74 425.99M856 310.86L864.66 312.19M782.46 353.83L786.58 359.47M788.26 323.91L786.57 331.46M737.87 468.4L746.53 478.35M754.8 485.09L746.45 490.88M784.11 379.61L793.96 371.49M834.71 420.91L840.2 430.27M734.98 301.39L743.83 292.2M874.3 334.64L883.27 335.9M852.84 463.46L856.67 468.11M737.47 325.2L746.58 317.85M833.5 324.34L819.65 328.87M871.25 353.37L879.81 350.15M848.54 479.83L853.95 486.34M823.43 375.23L826.24 384.89M784.09 428.45L786.6 423.44M834.27 467.84L833.07 477.38M746.58 317.85L756.92 317.28M730.77 447.17L730.3 455.54M819.84 404.46L827.31 414.53M819.75 293.03L833.77 298.4M779.26 443.05L788.73 446.41M748.08 338.59L760.04 341.54M803.44 394.88L807.78 397.11M729.59 473.76L726.24 482.92M697.53 486.77L715.76 496.04M865.59 398.42L878.87 402.23M705.39 460.63L714.74 474.09M840.31 389.57L830.43 400.48M802.59 289.46L793.49 291.35M788.73 446.41L804.65 445.4M743.51 460.92L737.87 468.4M750.72 371.77L754.08 366.98M792.7 412.01L804.46 419.74M870.4 418.93L886.03 425.78M703.6 482.98L715.76 496.04M837.73 407.94L834.71 420.91M819.77 442.6L822.73 452.25M802.64 307.32L803.89 322.31M781.54 496.42L791.98 490.96M749.16 394.73L753.73 391.91M793.1 437.61L804.65 445.4M706.97 371.59L705.79 386.84M717.35 287.27L725.12 283.59M886.03 425.78L897.94 429.12M907.41 352.92L901.2 371.62M840.22 345.77L848.92 348.21M791.98 490.96L808.2 487.57M785.37 363.75L793.96 371.49M744.35 407.92L752.94 407.39M711.15 400.96L702.53 407.78M901.92 290.96L887.44 293.88M883.93 444.88L894.48 445.2M849.37 436.95L847.44 448.82M871.74 466.41L878.04 468.02M843.14 458.16L834.27 467.84M842.98 368.21L849.15 371.38M808.27 356.69L792.34 362.44M719.58 395.14L716.46 409.82M743.38 437.24L756.8 437.44M779.2 342.75L782.46 353.83M710.22 420.6L709.21 430.25M891.07 312.14L886.19 323.18M865.72 487.4L882.23 491.5M697.2 285.98L701.47 304.67M893.95 460.71L908.66 472.48M882.36 323.14L883.27 335.9M756.8 437.44L768.92 440.63M727.45 420.08L716.66 429.54M895.82 336.94L886.63 343.02M882.23 491.5L897.09 489.78M755.23 282.73L762.88 300.13M848.54 479.83L839.29 491.85M823.43 375.23L817.12 390.44M895.82 336.94L907.41 352.92M887.28 485.11L912.62 492.51M772.76 302.81L764.27 312.06M858.47 381.36L873.1 384.75M761.2 454.35L768.41 461.27M714.74 474.09L703.6 482.98M896.64 354.42L888.72 367.25M753.97 302.97L756.92 317.28M852.84 411.12L865.93 407.02M819.84 404.46L809.22 407.15M821.55 321.38L833.5 324.34M776.45 323.56L767.72 328.62M768.59 346.8L782.46 353.83M729.59 473.76L720.29 477.09M892.22 382.66L891.46 392.57M697.2 285.98L717.35 287.27M756.26 330.84L760.04 341.54M862.33 302.83L864.66 312.19M819.84 423.36L815.58 436.53M849.52 337.51L860.22 338.66M907.41 382.04L899.52 388.99M736.92 414.4L744.35 407.92M701.47 304.67L708.36 304.39M819.77 442.6L808.47 452.59M886.6 288.24L887.23 308.75M820.26 439.36L822.73 452.25M737.25 286.91L743.83 292.2M910.35 405.68L899.98 406.98M708.36 304.39L723.61 311.41M700.04 330.66L717.4 326.58M785.37 363.75L784.11 379.61M786.58 359.47L777.2 364.61M783.17 390.9L790.05 398.47M791.87 282.91L802.59 289.46" stroke="#262626" stroke-width="2.4" fill="none" stroke-linecap="round"/>
<g fill="#f1f1f1" stroke="#858585" stroke-width="0.7"><circle cx="699.54" cy="290.94" r="2.7"/><circle cx="691.66" cy="285.94" r="2.7"/><circle cx="701.37" cy="290.02" r="2.7"/><circle cx="711.76" cy="287.72" r="2.7"/><circle cx="722.69" cy="291.5" r="2.7"/><circle cx="730.33" cy="282.56" r="2.7"/><circle cx="721.13" cy="278.36" r="2.7"/><circle cx="731.4" cy="286.21" r="2.7"/><circle cx="740.25" cy="281.76" r="2.7"/><circle cx="748.89" cy="284.83" r="2.7"/><circle cx="756.86" cy="288.09" r="2.7"/><circle cx="755.65" cy="277.55" r="2.7"/><circle cx="759.52" cy="281.27" r="2.7"/><circle cx="766.53" cy="288.42" r="2.7"/><circle cx="779.81" cy="293.72" r="2.7"/><circle cx="781.81" cy="293.52" r="2.7"/><circle cx="796.4" cy="280.25" r="2.7"/><circle cx="786.49" cy="279.68" r="2.7"/><circle cx="798.15" cy="285.54" r="2.7"/><circle cx="797.82" cy="292.7" r="2.7"/><circle cx="805.29" cy="283.51" r="2.7"/><circle cx="817.7" cy="291.94" r="2.7"/><circle cx="818.58" cy="288.36" r="2.7"/><circle cx="821.04" cy="276.92" r="2.7"/><circle cx="819.58" cy="279.96" r="2.7"/><circle cx="843.19" cy="294.23" r="2.7"/><circle cx="834.47" cy="291.83" r="2.7"/><circle cx="850.51" cy="288.72" r="2.7"/><circle cx="846.76" cy="279.65" r="2.7"/><circle cx="870.48" cy="280.88" r="2.7"/><circle cx="859.85" cy="278.93" r="2.7"/><circle cx="869.05" cy="285.52" r="2.7"/><circle cx="888.05" cy="294.68" r="2.7"/><circle cx="890.63" cy="283.53" r="2.7"/><circle cx="885.15" cy="294" r="2.7"/><circle cx="900.75" cy="296.81" r="2.7"/><circle cx="900.35" cy="295.91" r="2.7"/><circle cx="906.08" cy="290.39" r="2.7"/><circle cx="905.49" cy="290.11" r="2.7"/><circle cx="907.22" cy="294.55" r="2.7"/><circle cx="699.32" cy="307.28" r="2.7"/><circle cx="700.78" cy="308.97" r="2.7"/><circle cx="694.71" cy="301.69" r="2.7"/><circle cx="723.45" cy="289.04" r="2.7"/><circle cx="722.83" cy="291.6" r="2.7"/><circle cx="720.38" cy="287.86" r="2.7"/><circle cx="738.86" cy="305.79" r="2.7"/><circle cx="739.5" cy="306.09" r="2.7"/><circle cx="749.67" cy="295.39" r="2.7"/><circle cx="746.15" cy="296.8" r="2.7"/><circle cx="767.84" cy="297.77" r="2.7"/><circle cx="765.69" cy="305.57" r="2.7"/><circle cx="760.85" cy="306.31" r="2.7"/><circle cx="766.71" cy="303.74" r="2.7"/><circle cx="771" cy="298.55" r="2.7"/><circle cx="784.55" cy="290.33" r="2.7"/><circle cx="777.28" cy="287.17" r="2.7"/><circle cx="791.38" cy="285.35" r="2.7"/><circle cx="790.26" cy="286.89" r="2.7"/><circle cx="788.25" cy="288.9" r="2.7"/><circle cx="809.95" cy="301.73" r="2.7"/><circle cx="808.37" cy="298.23" r="2.7"/><circle cx="813.3" cy="294.44" r="2.7"/><circle cx="820.12" cy="299.37" r="2.7"/><circle cx="818.25" cy="286.35" r="2.7"/><circle cx="837.52" cy="294.84" r="2.7"/><circle cx="835.1" cy="292.86" r="2.7"/><circle cx="847.27" cy="298.58" r="2.7"/><circle cx="856.7" cy="299.56" r="2.7"/><circle cx="859.94" cy="298.52" r="2.7"/><circle cx="865.63" cy="307.74" r="2.7"/><circle cx="863.59" cy="308.02" r="2.7"/><circle cx="871.61" cy="295.03" r="2.7"/><circle cx="869.82" cy="293.59" r="2.7"/><circle cx="892.57" cy="292.91" r="2.7"/><circle cx="891.8" cy="296.35" r="2.7"/><circle cx="914.09" cy="301.44" r="2.7"/><circle cx="903.82" cy="304.2" r="2.7"/><circle cx="698.28" cy="307.85" r="2.7"/><circle cx="706.39" cy="303.42" r="2.7"/><circle cx="701.38" cy="309.23" r="2.7"/><circle cx="702.97" cy="305.71" r="2.7"/><circle cx="706" cy="300.3" r="2.7"/><circle cx="722.03" cy="318.16" r="2.7"/><circle cx="718.77" cy="316.43" r="2.7"/><circle cx="733.86" cy="302.98" r="2.7"/><circle cx="729.19" cy="304.62" r="2.7"/><circle cx="749.12" cy="303.42" r="2.7"/><circle cx="748.55" cy="306.98" r="2.7"/><circle cx="748.75" cy="304.21" r="2.7"/><circle cx="766.54" cy="317.91" r="2.7"/><circle cx="758.5" cy="309.2" r="2.7"/><circle cx="776.24" cy="312.78" r="2.7"/><circle cx="780.92" cy="312.89" r="2.7"/><circle cx="777.22" cy="303.77" r="2.7"/><circle cx="792.7" cy="313.22" r="2.7"/><circle cx="792.85" cy="315.21" r="2.7"/><circle cx="801.53" cy="307.22" r="2.7"/><circle cx="801.8" cy="312.83" r="2.7"/><circle cx="797.08" cy="306.48" r="2.7"/><circle cx="796.85" cy="308.53" r="2.7"/><circle cx="821.26" cy="308.3" r="2.7"/><circle cx="827.93" cy="317.04" r="2.7"/><circle cx="839.74" cy="306.29" r="2.7"/><circle cx="839.75" cy="313.62" r="2.7"/><circle cx="832.5" cy="315.23" r="2.7"/><circle cx="833.8" cy="306.84" r="2.7"/><circle cx="836.57" cy="301.04" r="2.7"/><circle cx="844.77" cy="303.8" r="2.7"/><circle cx="860.17" cy="312.73" r="2.7"/><circle cx="860.73" cy="306.61" r="2.7"/><circle cx="869.96" cy="310.63" r="2.7"/><circle cx="868.44" cy="306.97" r="2.7"/><circle cx="860.29" cy="309.56" r="2.7"/><circle cx="883.45" cy="304.7" r="2.7"/><circle cx="893.51" cy="311.11" r="2.7"/><circle cx="888.4" cy="317.54" r="2.7"/><circle cx="896.07" cy="312.04" r="2.7"/><circle cx="913.72" cy="310.22" r="2.7"/><circle cx="912.8" cy="305.05" r="2.7"/><circle cx="704.21" cy="316.25" r="2.7"/><circle cx="709.54" cy="317.7" r="2.7"/><circle cx="714.94" cy="331.89" r="2.7"/><circle cx="713.88" cy="321.59" r="2.7"/><circle cx="723.26" cy="324.1" r="2.7"/><circle cx="733.4" cy="329.24" r="2.7"/><circle cx="733.54" cy="327.89" r="2.7"/><circle cx="736.71" cy="318.74" r="2.7"/><circle cx="752.83" cy="318.83" r="2.7"/><circle cx="740.28" cy="319.06" r="2.7"/><circle cx="749.61" cy="313.54" r="2.7"/><circle cx="761.37" cy="313.02" r="2.7"/><circle cx="755.79" cy="323.99" r="2.7"/><circle cx="760.02" cy="311.3" r="2.7"/><circle cx="773.07" cy="328.12" r="2.7"/><circle cx="781.28" cy="327.23" r="2.7"/><circle cx="784.29" cy="320.34" r="2.7"/><circle cx="781.68" cy="322.09" r="2.7"/><circle cx="782.06" cy="321.15" r="2.7"/><circle cx="805.75" cy="316.45" r="2.7"/><circle cx="797.81" cy="325.15" r="2.7"/><circle cx="799.94" cy="317.86" r="2.7"/><circle cx="804.95" cy="319.16" r="2.7"/><circle cx="805.14" cy="318.79" r="2.7"/><circle cx="820.03" cy="327.36" r="2.7"/><circle cx="825.3" cy="326.41" r="2.7"/><circle cx="819.61" cy="315.27" r="2.7"/><circle cx="839.51" cy="325.52" r="2.7"/><circle cx="835.09" cy="319.5" r="2.7"/><circle cx="853.98" cy="311.92" r="2.7"/><circle cx="849.28" cy="310.54" r="2.7"/><circle cx="865.42" cy="311.85" r="2.7"/><circle cx="871.31" cy="308.89" r="2.7"/><circle cx="882.46" cy="328.92" r="2.7"/><circle cx="878.32" cy="326.67" r="2.7"/><circle cx="888.87" cy="328.44" r="2.7"/><circle cx="887.22" cy="316.42" r="2.7"/><circle cx="898.09" cy="323.81" r="2.7"/><circle cx="909.03" cy="326.49" r="2.7"/><circle cx="695.35" cy="334.2" r="2.7"/><circle cx="704.23" cy="328.63" r="2.7"/><circle cx="722.31" cy="328.94" r="2.7"/><circle cx="722.71" cy="324.11" r="2.7"/><circle cx="724.52" cy="324.45" r="2.7"/><circle cx="730.56" cy="321.3" r="2.7"/><circle cx="729.35" cy="327.43" r="2.7"/><circle cx="740.8" cy="331.52" r="2.7"/><circle cx="758.13" cy="326.13" r="2.7"/><circle cx="762.92" cy="330.88" r="2.7"/><circle cx="772.96" cy="332.31" r="2.7"/><circle cx="768.6" cy="322.6" r="2.7"/><circle cx="785.74" cy="332.65" r="2.7"/><circle cx="783.45" cy="339.07" r="2.7"/><circle cx="783.92" cy="325.4" r="2.7"/><circle cx="781.83" cy="329.35" r="2.7"/><circle cx="803.34" cy="325.07" r="2.7"/><circle cx="803.18" cy="324.53" r="2.7"/><circle cx="819.95" cy="335.11" r="2.7"/><circle cx="817.42" cy="324.61" r="2.7"/><circle cx="829.99" cy="331.34" r="2.7"/><circle cx="833.69" cy="339.59" r="2.7"/><circle cx="843.12" cy="338.87" r="2.7"/><circle cx="852.08" cy="341.53" r="2.7"/><circle cx="845.61" cy="342.96" r="2.7"/><circle cx="858.33" cy="338.99" r="2.7"/><circle cx="863.29" cy="332.68" r="2.7"/><circle cx="878.73" cy="337.2" r="2.7"/><circle cx="870.85" cy="328.92" r="2.7"/><circle cx="879.9" cy="332.49" r="2.7"/><circle cx="879.29" cy="338.92" r="2.7"/><circle cx="897.33" cy="330.84" r="2.7"/><circle cx="897.06" cy="331.24" r="2.7"/><circle cx="894.31" cy="332.36" r="2.7"/><circle cx="914.94" cy="329.23" r="2.7"/><circle cx="908.62" cy="331.59" r="2.7"/><circle cx="706.22" cy="343.39" r="2.7"/><circle cx="712.59" cy="334.16" r="2.7"/><circle cx="718.95" cy="343.38" r="2.7"/><circle cx="725.01" cy="340.22" r="2.7"/><circle cx="731.78" cy="340.8" r="2.7"/><circle cx="737.65" cy="348.65" r="2.7"/><circle cx="748.8" cy="344.8" r="2.7"/><circle cx="744.43" cy="334.12" r="2.7"/><circle cx="765.74" cy="341.2" r="2.7"/><circle cx="755.17" cy="345.98" r="2.7"/><circle cx="765.17" cy="350.18" r="2.7"/><circle cx="764.44" cy="341.99" r="2.7"/><circle cx="776.38" cy="338.3" r="2.7"/><circle cx="774" cy="342.26" r="2.7"/><circle cx="795.57" cy="342.67" r="2.7"/><circle cx="797.48" cy="342.57" r="2.7"/><circle cx="809.07" cy="338.38" r="2.7"/><circle cx="820.29" cy="342.65" r="2.7"/><circle cx="811.67" cy="332.28" r="2.7"/><circle cx="822.33" cy="336.36" r="2.7"/><circle cx="823.07" cy="348.42" r="2.7"/><circle cx="835.6" cy="350.44" r="2.7"/><circle cx="841.67" cy="351.99" r="2.7"/><circle cx="855.24" cy="348.04" r="2.7"/><circle cx="846.92" cy="342.34" r="2.7"/><circle cx="866.11" cy="342.34" r="2.7"/><circle cx="861.2" cy="344.01" r="2.7"/><circle cx="876.72" cy="342.91" r="2.7"/><circle cx="878.77" cy="333.28" r="2.7"/><circle cx="883.46" cy="346.59" r="2.7"/><circle cx="891.89" cy="345.45" r="2.7"/><circle cx="901.61" cy="332.59" r="2.7"/><circle cx="907.3" cy="336.58" r="2.7"/><circle cx="896.14" cy="336.38" r="2.7"/><circle cx="709.7" cy="351.96" r="2.7"/><circle cx="698.79" cy="352.71" r="2.7"/><circle cx="710.37" cy="356.12" r="2.7"/><circle cx="715.09" cy="346.94" r="2.7"/><circle cx="725.72" cy="349.22" r="2.7"/><circle cx="734.97" cy="352.78" r="2.7"/><circle cx="742.08" cy="360.34" r="2.7"/><circle cx="744.71" cy="361.47" r="2.7"/><circle cx="752" cy="359.85" r="2.7"/><circle cx="752.94" cy="356.81" r="2.7"/><circle cx="768.91" cy="359.34" r="2.7"/><circle cx="770.65" cy="357.58" r="2.7"/><circle cx="784.69" cy="349.07" r="2.7"/><circle cx="787.83" cy="356.23" r="2.7"/><circle cx="779.6" cy="349.65" r="2.7"/><circle cx="791.25" cy="361.99" r="2.7"/><circle cx="790.12" cy="355.25" r="2.7"/><circle cx="807.24" cy="362.21" r="2.7"/><circle cx="808.8" cy="361.62" r="2.7"/><circle cx="811" cy="362.63" r="2.7"/><circle cx="827.1" cy="349.03" r="2.7"/><circle cx="821.01" cy="346.46" r="2.7"/><circle cx="827.45" cy="353.86" r="2.7"/><circle cx="825.95" cy="356.49" r="2.7"/><circle cx="836.66" cy="357.36" r="2.7"/><circle cx="850.31" cy="366.08" r="2.7"/><circle cx="844.61" cy="357.74" r="2.7"/><circle cx="845.87" cy="355.97" r="2.7"/><circle cx="847.05" cy="358.98" r="2.7"/><circle cx="854.61" cy="350.54" r="2.7"/><circle cx="865.32" cy="353.4" r="2.7"/><circle cx="872.18" cy="358.3" r="2.7"/><circle cx="876.05" cy="355.33" r="2.7"/><circle cx="873.95" cy="347.25" r="2.7"/><circle cx="885.24" cy="349.66" r="2.7"/><circle cx="890.96" cy="351.51" r="2.7"/><circle cx="891.37" cy="351.11" r="2.7"/><circle cx="908.07" cy="347.67" r="2.7"/><circle cx="909.09" cy="359.15" r="2.7"/><circle cx="901.34" cy="350.93" r="2.7"/><circle cx="711.89" cy="368.51" r="2.7"/><circle cx="710.32" cy="365.71" r="2.7"/><circle cx="718.11" cy="357.01" r="2.7"/><circle cx="718.04" cy="357.45" r="2.7"/><circle cx="738.57" cy="358.66" r="2.7"/><circle cx="739.59" cy="360.11" r="2.7"/><circle cx="745.55" cy="368.12" r="2.7"/><circle cx="752.42" cy="376.76" r="2.7"/><circle cx="759.27" cy="367.71" r="2.7"/><circle cx="758.38" cy="364.45" r="2.7"/><circle cx="780.15" cy="370.21" r="2.7"/><circle cx="781.94" cy="368.88" r="2.7"/><circle cx="790.49" cy="362.56" r="2.7"/><circle cx="785.72" cy="358.23" r="2.7"/><circle cx="797.45" cy="357.89" r="2.7"/><circle cx="791.02" cy="368.68" r="2.7"/><circle cx="790.37" cy="356.88" r="2.7"/><circle cx="802.92" cy="357.59" r="2.7"/><circle cx="806.01" cy="358.39" r="2.7"/><circle cx="823.8" cy="371.25" r="2.7"/><circle cx="819.85" cy="369.61" r="2.7"/><circle cx="842.19" cy="362.15" r="2.7"/><circle cx="841.83" cy="373.88" r="2.7"/><circle cx="852.67" cy="375.49" r="2.7"/><circle cx="845.68" cy="367.3" r="2.7"/><circle cx="867.8" cy="371.14" r="2.7"/><circle cx="860.66" cy="363.85" r="2.7"/><circle cx="863.64" cy="371.98" r="2.7"/><circle cx="886.91" cy="369.49" r="2.7"/><circle cx="877.86" cy="364.43" r="2.7"/><circle cx="883.95" cy="373.25" r="2.7"/><circle cx="888.91" cy="372.39" r="2.7"/><circle cx="886.84" cy="362.52" r="2.7"/><circle cx="904.68" cy="368.63" r="2.7"/><circle cx="899.65" cy="366.77" r="2.7"/><circle cx="693.51" cy="377.95" r="2.7"/><circle cx="699.42" cy="378.98" r="2.7"/><circle cx="701.69" cy="385.34" r="2.7"/><circle cx="700.77" cy="374.74" r="2.7"/><circle cx="709.37" cy="377.39" r="2.7"/><circle cx="730.65" cy="376.69" r="2.7"/><circle cx="720.28" cy="374.47" r="2.7"/><circle cx="744.51" cy="371.15" r="2.7"/><circle cx="733.85" cy="372.37" r="2.7"/><circle cx="759.37" cy="383.1" r="2.7"/><circle cx="756.37" cy="373.85" r="2.7"/><circle cx="764.33" cy="387.27" r="2.7"/><circle cx="772.38" cy="381.18" r="2.7"/><circle cx="787.98" cy="376.45" r="2.7"/><circle cx="777.53" cy="377.67" r="2.7"/><circle cx="791.85" cy="366.25" r="2.7"/><circle cx="798.91" cy="370.43" r="2.7"/><circle cx="796.66" cy="380.75" r="2.7"/><circle cx="801.35" cy="382.08" r="2.7"/><circle cx="820.88" cy="380.89" r="2.7"/><circle cx="818.03" cy="378.62" r="2.7"/><circle cx="830.01" cy="377.07" r="2.7"/><circle cx="833.76" cy="366.26" r="2.7"/><circle cx="831.14" cy="376.89" r="2.7"/><circle cx="845.6" cy="377.96" r="2.7"/><circle cx="845.39" cy="386.8" r="2.7"/><circle cx="839.86" cy="387.24" r="2.7"/><circle cx="865.25" cy="380.26" r="2.7"/><circle cx="863.01" cy="380.1" r="2.7"/><circle cx="867.37" cy="370.11" r="2.7"/><circle cx="868.83" cy="378.05" r="2.7"/><circle cx="857.92" cy="374.41" r="2.7"/><circle cx="882" cy="376.69" r="2.7"/><circle cx="886.64" cy="382.7" r="2.7"/><circle cx="879.36" cy="386.02" r="2.7"/><circle cx="887.35" cy="383.86" r="2.7"/><circle cx="895.53" cy="378.77" r="2.7"/><circle cx="912.34" cy="378.34" r="2.7"/><circle cx="903.22" cy="379.63" r="2.7"/><circle cx="701.43" cy="391.98" r="2.7"/><circle cx="700.06" cy="389.33" r="2.7"/><circle cx="729.16" cy="387.75" r="2.7"/><circle cx="730.72" cy="385.92" r="2.7"/><circle cx="723.87" cy="383.24" r="2.7"/><circle cx="738.59" cy="388.61" r="2.7"/><circle cx="737.3" cy="389.5" r="2.7"/><circle cx="728.86" cy="387.56" r="2.7"/><circle cx="753.12" cy="390.83" r="2.7"/><circle cx="748.65" cy="399.8" r="2.7"/><circle cx="743.24" cy="396.26" r="2.7"/><circle cx="759.14" cy="395.74" r="2.7"/><circle cx="748.89" cy="390.83" r="2.7"/><circle cx="748.91" cy="391.37" r="2.7"/><circle cx="766.34" cy="389.38" r="2.7"/><circle cx="772.79" cy="388.63" r="2.7"/><circle cx="787.93" cy="394.03" r="2.7"/><circle cx="787.36" cy="386.41" r="2.7"/><circle cx="804.78" cy="400.24" r="2.7"/><circle cx="803.46" cy="388.8" r="2.7"/><circle cx="807.3" cy="399.74" r="2.7"/><circle cx="817.91" cy="385.58" r="2.7"/><circle cx="813.47" cy="395.88" r="2.7"/><circle cx="830.99" cy="384.23" r="2.7"/><circle cx="827.42" cy="389.51" r="2.7"/><circle cx="840.24" cy="384.24" r="2.7"/><circle cx="833.51" cy="388.71" r="2.7"/><circle cx="836.03" cy="387.26" r="2.7"/><circle cx="845.45" cy="388.83" r="2.7"/><circle cx="844.24" cy="390.72" r="2.7"/><circle cx="849.36" cy="387.83" r="2.7"/><circle cx="858.15" cy="389.98" r="2.7"/><circle cx="865.72" cy="386.74" r="2.7"/><circle cx="869.56" cy="388.93" r="2.7"/><circle cx="868.23" cy="387.16" r="2.7"/><circle cx="877.75" cy="383.92" r="2.7"/><circle cx="889.33" cy="396.85" r="2.7"/><circle cx="886.53" cy="392.7" r="2.7"/><circle cx="896.1" cy="392.77" r="2.7"/><circle cx="906.17" cy="389.63" r="2.7"/><circle cx="698.63" cy="406.69" r="2.7"/><circle cx="697.81" cy="405.32" r="2.7"/><circle cx="705.04" cy="397.05" r="2.7"/><circle cx="704.93" cy="403.06" r="2.7"/><circle cx="715.93" cy="396.18" r="2.7"/><circle cx="715.72" cy="398.44" r="2.7"/><circle cx="721.57" cy="388.78" r="2.7"/><circle cx="742.18" cy="401.22" r="2.7"/><circle cx="743.93" cy="396.7" r="2.7"/><circle cx="760.84" cy="393.82" r="2.7"/><circle cx="750.4" cy="399.64" r="2.7"/><circle cx="771.12" cy="391.59" r="2.7"/><circle cx="762.25" cy="398.45" r="2.7"/><circle cx="774.4" cy="394.86" r="2.7"/><circle cx="771.8" cy="395.91" r="2.7"/><circle cx="768.47" cy="403.29" r="2.7"/><circle cx="789.46" cy="393.7" r="2.7"/><circle cx="790.76" cy="403.78" r="2.7"/><circle cx="785.29" cy="396.12" r="2.7"/><circle cx="802.74" cy="392.83" r="2.7"/><circle cx="806.98" cy="391.37" r="2.7"/><circle cx="824.92" cy="402.87" r="2.7"/><circle cx="816.09" cy="401.5" r="2.7"/><circle cx="814.72" cy="407.69" r="2.7"/><circle cx="823.82" cy="400.47" r="2.7"/><circle cx="825.41" cy="402.18" r="2.7"/><circle cx="832.28" cy="406.88" r="2.7"/><circle cx="844.32" cy="397.12" r="2.7"/><circle cx="844.17" cy="401.2" r="2.7"/><circle cx="844.83" cy="399.02" r="2.7"/><circle cx="856.44" cy="399.56" r="2.7"/><circle cx="847.3" cy="397.82" r="2.7"/><circle cx="856.1" cy="399.57" r="2.7"/><circle cx="870.09" cy="394" r="2.7"/><circle cx="868.62" cy="404.22" r="2.7"/><circle cx="874.19" cy="405.46" r="2.7"/><circle cx="873.75" cy="406.12" r="2.7"/><circle cx="890.01" cy="401.21" r="2.7"/><circle cx="896.05" cy="405.09" r="2.7"/><circle cx="907.83" cy="410.02" r="2.7"/><circle cx="916.86" cy="404.9" r="2.7"/><circle cx="915.04" cy="410.58" r="2.7"/><circle cx="704.96" cy="402.53" r="2.7"/><circle cx="698.57" cy="405" r="2.7"/><circle cx="698.23" cy="402.31" r="2.7"/><circle cx="715.88" cy="415.97" r="2.7"/><circle cx="716.39" cy="404.85" r="2.7"/><circle cx="721.06" cy="408.7" r="2.7"/><circle cx="739.52" cy="409.13" r="2.7"/><circle cx="734.54" cy="418.94" r="2.7"/><circle cx="747.27" cy="402.15" r="2.7"/><circle cx="741.59" cy="402.32" r="2.7"/><circle cx="750.8" cy="401.03" r="2.7"/><circle cx="750.23" cy="403.45" r="2.7"/><circle cx="781.62" cy="414.55" r="2.7"/><circle cx="778.89" cy="410.19" r="2.7"/><circle cx="775.89" cy="410.57" r="2.7"/><circle cx="781.02" cy="420.37" r="2.7"/><circle cx="780.79" cy="408.07" r="2.7"/><circle cx="795.76" cy="407.72" r="2.7"/><circle cx="799.11" cy="411.65" r="2.7"/><circle cx="806.14" cy="402.73" r="2.7"/><circle cx="813.24" cy="403.78" r="2.7"/><circle cx="827.16" cy="407.65" r="2.7"/><circle cx="830.91" cy="409.71" r="2.7"/><circle cx="835.56" cy="403.21" r="2.7"/><circle cx="837.06" cy="412.61" r="2.7"/><circle cx="842.32" cy="407.5" r="2.7"/><circle cx="848.46" cy="415.14" r="2.7"/><circle cx="849.81" cy="406.71" r="2.7"/><circle cx="852.11" cy="417.14" r="2.7"/><circle cx="871.55" cy="405.61" r="2.7"/><circle cx="864.27" cy="412.73" r="2.7"/><circle cx="870.6" cy="403.43" r="2.7"/><circle cx="882.33" cy="411.74" r="2.7"/><circle cx="876.21" cy="406.84" r="2.7"/><circle cx="881.87" cy="413.59" r="2.7"/><circle cx="889.83" cy="415.39" r="2.7"/><circle cx="892.32" cy="413.86" r="2.7"/><circle cx="904.57" cy="407.72" r="2.7"/><circle cx="902.11" cy="411.79" r="2.7"/><circle cx="706.88" cy="428.09" r="2.7"/><circle cx="704.93" cy="434.97" r="2.7"/><circle cx="697.77" cy="424.62" r="2.7"/><circle cx="708.18" cy="424.99" r="2.7"/><circle cx="713.03" cy="425.34" r="2.7"/><circle cx="725.87" cy="424.65" r="2.7"/><circle cx="725.16" cy="424.64" r="2.7"/><circle cx="738.87" cy="421.18" r="2.7"/><circle cx="734.12" cy="431.66" r="2.7"/><circle cx="756.6" cy="416.22" r="2.7"/><circle cx="744.66" cy="417.84" r="2.7"/><circle cx="746.66" cy="417.17" r="2.7"/><circle cx="756.08" cy="420.83" r="2.7"/><circle cx="756.7" cy="429.79" r="2.7"/><circle cx="779.47" cy="427.32" r="2.7"/><circle cx="782.31" cy="422.21" r="2.7"/><circle cx="784.6" cy="427.87" r="2.7"/><circle cx="787.05" cy="417.22" r="2.7"/><circle cx="800.94" cy="424.75" r="2.7"/><circle cx="809.47" cy="417.14" r="2.7"/><circle cx="821.87" cy="418.41" r="2.7"/><circle cx="817.34" cy="428.57" r="2.7"/><circle cx="819.65" cy="416.65" r="2.7"/><circle cx="833.3" cy="415.26" r="2.7"/><circle cx="832.53" cy="415.98" r="2.7"/><circle cx="844.32" cy="425.34" r="2.7"/><circle cx="848.41" cy="433.82" r="2.7"/><circle cx="851.06" cy="422.19" r="2.7"/><circle cx="854.96" cy="413.34" r="2.7"/><circle cx="852.91" cy="421.05" r="2.7"/><circle cx="869.01" cy="425.58" r="2.7"/><circle cx="873.27" cy="425.08" r="2.7"/><circle cx="865.71" cy="417.78" r="2.7"/><circle cx="889.9" cy="428.7" r="2.7"/><circle cx="883.17" cy="420.38" r="2.7"/><circle cx="903.03" cy="429.16" r="2.7"/><circle cx="898.91" cy="435.36" r="2.7"/><circle cx="898.11" cy="422.3" r="2.7"/><circle cx="898.44" cy="424.74" r="2.7"/><circle cx="907.98" cy="430.83" r="2.7"/><circle cx="703.07" cy="427.06" r="2.7"/><circle cx="710.84" cy="426.04" r="2.7"/><circle cx="711.84" cy="425.9" r="2.7"/><circle cx="714.55" cy="435.5" r="2.7"/><circle cx="710.19" cy="430.08" r="2.7"/><circle cx="728.56" cy="439.45" r="2.7"/><circle cx="729.55" cy="434.19" r="2.7"/><circle cx="745.34" cy="431.76" r="2.7"/><circle cx="747.75" cy="436.12" r="2.7"/><circle cx="748.4" cy="433.46" r="2.7"/><circle cx="751.23" cy="435.56" r="2.7"/><circle cx="762.49" cy="437.76" r="2.7"/><circle cx="764.05" cy="445.63" r="2.7"/><circle cx="766.18" cy="436.92" r="2.7"/><circle cx="779.42" cy="429.85" r="2.7"/><circle cx="779.94" cy="431.92" r="2.7"/><circle cx="788.65" cy="439.12" r="2.7"/><circle cx="798.64" cy="434.03" r="2.7"/><circle cx="787.86" cy="435.58" r="2.7"/><circle cx="809.83" cy="435.43" r="2.7"/><circle cx="808.98" cy="437.1" r="2.7"/><circle cx="821.4" cy="444.82" r="2.7"/><circle cx="815.32" cy="442.35" r="2.7"/><circle cx="818.89" cy="433.66" r="2.7"/><circle cx="843.69" cy="424.33" r="2.7"/><circle cx="841.1" cy="435.25" r="2.7"/><circle cx="845.33" cy="431.03" r="2.7"/><circle cx="854.89" cy="437.48" r="2.7"/><circle cx="855.03" cy="433.82" r="2.7"/><circle cx="853.75" cy="426.39" r="2.7"/><circle cx="857.45" cy="423.21" r="2.7"/><circle cx="878.16" cy="444.32" r="2.7"/><circle cx="878.87" cy="435.08" r="2.7"/><circle cx="881.06" cy="443.34" r="2.7"/><circle cx="898.95" cy="438.83" r="2.7"/><circle cx="901.16" cy="428.14" r="2.7"/><circle cx="911.93" cy="434.58" r="2.7"/><circle cx="904.4" cy="442.74" r="2.7"/><circle cx="706.84" cy="450.34" r="2.7"/><circle cx="700.13" cy="451.72" r="2.7"/><circle cx="699.47" cy="444.68" r="2.7"/><circle cx="714.79" cy="453.62" r="2.7"/><circle cx="719.79" cy="443.66" r="2.7"/><circle cx="725.22" cy="443.67" r="2.7"/><circle cx="736.18" cy="449.43" r="2.7"/><circle cx="732.99" cy="451.25" r="2.7"/><circle cx="730.45" cy="446.55" r="2.7"/><circle cx="736.14" cy="452" r="2.7"/><circle cx="756.54" cy="443.05" r="2.7"/><circle cx="758.37" cy="445.52" r="2.7"/><circle cx="761.46" cy="440.74" r="2.7"/><circle cx="768.77" cy="449.11" r="2.7"/><circle cx="785.58" cy="440.85" r="2.7"/><circle cx="778.98" cy="449.59" r="2.7"/><circle cx="784.76" cy="443.69" r="2.7"/><circle cx="788.57" cy="451.83" r="2.7"/><circle cx="784.3" cy="443.91" r="2.7"/><circle cx="799.09" cy="444.37" r="2.7"/><circle cx="800.21" cy="442.42" r="2.7"/><circle cx="799.62" cy="444.36" r="2.7"/><circle cx="822.68" cy="446.29" r="2.7"/><circle cx="826.27" cy="442.51" r="2.7"/><circle cx="826.55" cy="445.28" r="2.7"/><circle cx="834.11" cy="449.35" r="2.7"/><circle cx="852.36" cy="446.71" r="2.7"/><circle cx="849.85" cy="443.67" r="2.7"/><circle cx="855.81" cy="449.78" r="2.7"/><circle cx="863.68" cy="442.52" r="2.7"/><circle cx="861.18" cy="449.73" r="2.7"/><circle cx="873.66" cy="453.78" r="2.7"/><circle cx="880.87" cy="449.47" r="2.7"/><circle cx="886.92" cy="440.58" r="2.7"/><circle cx="899.21" cy="445.29" r="2.7"/><circle cx="893.38" cy="440.5" r="2.7"/><circle cx="907.1" cy="452.3" r="2.7"/><circle cx="910" cy="444.52" r="2.7"/><circle cx="711.77" cy="460.84" r="2.7"/><circle cx="700.99" cy="457.48" r="2.7"/><circle cx="710.93" cy="461.28" r="2.7"/><circle cx="715.6" cy="462.04" r="2.7"/><circle cx="708.84" cy="459.35" r="2.7"/><circle cx="728.67" cy="451.05" r="2.7"/><circle cx="731.24" cy="461.05" r="2.7"/><circle cx="735.59" cy="455.07" r="2.7"/><circle cx="750.35" cy="460.7" r="2.7"/><circle cx="745.11" cy="455.47" r="2.7"/><circle cx="758.29" cy="460.15" r="2.7"/><circle cx="763.11" cy="458.7" r="2.7"/><circle cx="773.25" cy="464.64" r="2.7"/><circle cx="763.73" cy="461.45" r="2.7"/><circle cx="768.8" cy="467.75" r="2.7"/><circle cx="792" cy="463.09" r="2.7"/><circle cx="780.74" cy="463.61" r="2.7"/><circle cx="797.26" cy="454.64" r="2.7"/><circle cx="795.22" cy="462.48" r="2.7"/><circle cx="807.36" cy="457.2" r="2.7"/><circle cx="803.02" cy="448.63" r="2.7"/><circle cx="820.33" cy="456.7" r="2.7"/><circle cx="818.4" cy="447.61" r="2.7"/><circle cx="836.98" cy="460.35" r="2.7"/><circle cx="846.77" cy="453.68" r="2.7"/><circle cx="847.19" cy="465.84" r="2.7"/><circle cx="856.19" cy="459.73" r="2.7"/><circle cx="870.34" cy="450.01" r="2.7"/><circle cx="871.98" cy="456.68" r="2.7"/><circle cx="875.05" cy="447.09" r="2.7"/><circle cx="880.83" cy="450.53" r="2.7"/><circle cx="889.07" cy="464.1" r="2.7"/><circle cx="889.02" cy="460.04" r="2.7"/><circle cx="907.92" cy="454.51" r="2.7"/><circle cx="903.64" cy="450.93" r="2.7"/><circle cx="901.16" cy="460.76" r="2.7"/><circle cx="691.97" cy="465.18" r="2.7"/><circle cx="695.71" cy="475.62" r="2.7"/><circle cx="701.36" cy="469.32" r="2.7"/><circle cx="714.51" cy="467.48" r="2.7"/><circle cx="720.51" cy="476.28" r="2.7"/><circle cx="724.55" cy="469.61" r="2.7"/><circle cx="734.58" cy="477.84" r="2.7"/><circle cx="744.37" cy="467.33" r="2.7"/><circle cx="737.74" cy="463.01" r="2.7"/><circle cx="755.08" cy="471.91" r="2.7"/><circle cx="748.07" cy="470.42" r="2.7"/><circle cx="764.81" cy="470.75" r="2.7"/><circle cx="759.94" cy="459.72" r="2.7"/><circle cx="774.84" cy="481.17" r="2.7"/><circle cx="771.11" cy="473.5" r="2.7"/><circle cx="772.68" cy="478.94" r="2.7"/><circle cx="796.25" cy="462.68" r="2.7"/><circle cx="789.6" cy="469.63" r="2.7"/><circle cx="804.67" cy="476.4" r="2.7"/><circle cx="807.83" cy="467.58" r="2.7"/><circle cx="810.41" cy="467.75" r="2.7"/><circle cx="816.28" cy="471.09" r="2.7"/><circle cx="821.11" cy="461.6" r="2.7"/><circle cx="829.21" cy="467.32" r="2.7"/><circle cx="837.26" cy="464.08" r="2.7"/><circle cx="832.23" cy="471.85" r="2.7"/><circle cx="834.1" cy="477.45" r="2.7"/><circle cx="841.53" cy="468.53" r="2.7"/><circle cx="846.05" cy="473.65" r="2.7"/><circle cx="861.26" cy="467.04" r="2.7"/><circle cx="856.69" cy="463.05" r="2.7"/><circle cx="854.26" cy="472.89" r="2.7"/><circle cx="868.25" cy="471.49" r="2.7"/><circle cx="865.18" cy="466.39" r="2.7"/><circle cx="876.32" cy="462.49" r="2.7"/><circle cx="878.62" cy="462.71" r="2.7"/><circle cx="897.09" cy="468.89" r="2.7"/><circle cx="900.23" cy="461.5" r="2.7"/><circle cx="912.33" cy="467.31" r="2.7"/><circle cx="903.72" cy="470.03" r="2.7"/><circle cx="700.05" cy="486.11" r="2.7"/><circle cx="708.2" cy="486.59" r="2.7"/><circle cx="696.96" cy="483.56" r="2.7"/><circle cx="719.59" cy="471.09" r="2.7"/><circle cx="722.02" cy="483.15" r="2.7"/><circle cx="720.29" cy="481.81" r="2.7"/><circle cx="721.76" cy="485.35" r="2.7"/><circle cx="722.8" cy="487.96" r="2.7"/><circle cx="741.93" cy="473.31" r="2.7"/><circle cx="748.96" cy="482.91" r="2.7"/><circle cx="748.31" cy="486.48" r="2.7"/><circle cx="755.82" cy="490.06" r="2.7"/><circle cx="752.65" cy="491.5" r="2.7"/><circle cx="772.64" cy="473.09" r="2.7"/><circle cx="777.7" cy="472.35" r="2.7"/><circle cx="783.46" cy="477.65" r="2.7"/><circle cx="789.18" cy="485.14" r="2.7"/><circle cx="786.9" cy="487.78" r="2.7"/><circle cx="788.92" cy="485.06" r="2.7"/><circle cx="798.99" cy="480.21" r="2.7"/><circle cx="791.51" cy="480.16" r="2.7"/><circle cx="814.25" cy="482.64" r="2.7"/><circle cx="809.31" cy="487.87" r="2.7"/><circle cx="825.18" cy="486.25" r="2.7"/><circle cx="829.1" cy="485.54" r="2.7"/><circle cx="832.65" cy="471.67" r="2.7"/><circle cx="838.15" cy="477.47" r="2.7"/><circle cx="843.7" cy="481.16" r="2.7"/><circle cx="851.4" cy="473.74" r="2.7"/><circle cx="867.63" cy="483.68" r="2.7"/><circle cx="866.86" cy="485.33" r="2.7"/><circle cx="868.04" cy="482.48" r="2.7"/><circle cx="868.41" cy="482.29" r="2.7"/><circle cx="881.25" cy="483.94" r="2.7"/><circle cx="889.27" cy="490.7" r="2.7"/><circle cx="906.23" cy="484.83" r="2.7"/><circle cx="903.05" cy="486.61" r="2.7"/><circle cx="691.15" cy="484.07" r="2.7"/><circle cx="703.86" cy="483.93" r="2.7"/><circle cx="720.5" cy="494.02" r="2.7"/><circle cx="710.23" cy="493.26" r="2.7"/><circle cx="722.52" cy="501.15" r="2.7"/><circle cx="717.44" cy="498.28" r="2.7"/><circle cx="741.76" cy="502.07" r="2.7"/><circle cx="734.47" cy="493.46" r="2.7"/><circle cx="747.62" cy="484.75" r="2.7"/><circle cx="752.18" cy="490.59" r="2.7"/><circle cx="751.25" cy="489.41" r="2.7"/><circle cx="764.56" cy="497.55" r="2.7"/><circle cx="757.78" cy="499.24" r="2.7"/><circle cx="777.87" cy="490.52" r="2.7"/><circle cx="787.82" cy="499.08" r="2.7"/><circle cx="787.68" cy="497.11" r="2.7"/><circle cx="786.49" cy="488.54" r="2.7"/><circle cx="797.61" cy="494.07" r="2.7"/><circle cx="792.34" cy="496.92" r="2.7"/><circle cx="813.49" cy="486.34" r="2.7"/><circle cx="807.47" cy="481.7" r="2.7"/><circle cx="801.7" cy="484.98" r="2.7"/><circle cx="821.32" cy="494.85" r="2.7"/><circle cx="808.81" cy="493.83" r="2.7"/><circle cx="810.46" cy="490.08" r="2.7"/><circle cx="830.6" cy="493.2" r="2.7"/><circle cx="825.2" cy="495.89" r="2.7"/><circle cx="834.15" cy="494.25" r="2.7"/><circle cx="838.87" cy="487.19" r="2.7"/><circle cx="849.53" cy="489.03" r="2.7"/><circle cx="851.74" cy="492.9" r="2.7"/><circle cx="867.31" cy="482.5" r="2.7"/><circle cx="862.93" cy="482.39" r="2.7"/><circle cx="877.13" cy="493.26" r="2.7"/><circle cx="887.83" cy="492.42" r="2.7"/><circle cx="899.74" cy="485.25" r="2.7"/><circle cx="892.42" cy="490.09" r="2.7"/><circle cx="901.22" cy="486" r="2.7"/><circle cx="907.48" cy="493.22" r="2.7"/><circle cx="909.44" cy="497.64" r="2.7"/></g>
<g fill="#b0661e" stroke="#70400c" stroke-width="0.6"><circle cx="861.6" cy="328" r="3.9"/><circle cx="812.8" cy="349.7" r="3.9"/><circle cx="792.2" cy="350.7" r="3.9"/><circle cx="851.8" cy="359" r="3.9"/><circle cx="873.5" cy="357.7" r="3.9"/><circle cx="890.9" cy="362.7" r="3.9"/><circle cx="771.6" cy="377.9" r="3.9"/><circle cx="781.3" cy="408.2" r="3.9"/><circle cx="725.6" cy="421.2" r="3.9"/><circle cx="867" cy="426.7" r="3.9"/><circle cx="847.5" cy="425.6" r="3.9"/><circle cx="796.5" cy="466.8" r="3.9"/><circle cx="834.5" cy="466.8" r="3.9"/><circle cx="808.5" cy="474.4" r="3.9"/><circle cx="716.3" cy="467.9" r="3.9"/><circle cx="767.2" cy="338.8" r="3.9"/><circle cx="757.5" cy="322.5" r="3.9"/></g>
</g>
<rect x="82.1" y="297.1" width="34" height="33.8" fill="url(#gLab)"/>
<text x="86.9" y="322" font-size="24.5">S<tspan font-size="16.5" dy="4.6">O</tspan></text>
<rect x="397.6" y="297.1" width="34" height="33.8" fill="url(#gLab)"/>
<text x="402.4" y="322" font-size="24.5">S<tspan font-size="16.5" dy="4.6">D</tspan></text>
<rect x="711" y="297.1" width="34" height="33.8" fill="url(#gLab)"/>
<text x="719" y="322" font-size="24.5">L</text>
<text x="13.5" y="533" font-size="36" text-anchor="start" fill="#000">b</text>
<clipPath id="cpB"><rect x="82.9" y="518.6" width="381.5" height="306.8"/></clipPath>
<g clip-path="url(#cpB)" fill="none" stroke-width="2.1" stroke-linejoin="round">
<path d="M83 698.6 C97.5 698.6 153.85 698.5 170 698.6 C174.46 698.63 177.15 698.15 179.9 699.2 C182.65 700.25 184.57 701.48 186.5 704.9 C188.43 708.33 189.85 715.27 191.5 719.8 C193.15 724.33 194.75 729.4 196.4 732.1 C197.89 734.53 199.73 736.13 201.4 736 C203.07 735.87 204.6 733.81 206.4 731.3 C208.33 728.6 210.25 723.1 213 719.8 C215.75 716.5 219.05 713.38 222.9 711.5 C226.75 709.62 231.7 708.63 236.1 708.5 C240.5 708.37 245.43 709.38 249.3 710.7 C253.17 712.02 256.82 713.78 259.3 716.4 C261.78 719.02 262.7 721.62 264.2 726.4 C265.85 731.65 267.55 740.47 269.2 747.9 C270.85 755.33 272.45 764.67 274.1 771 C275.75 777.33 277.45 783.08 279.1 785.9 C280.3 787.95 282.48 788.05 284 787.9 C285.52 787.75 286.95 785.07 288.2 785 C289.45 784.93 290.6 786.12 291.5 787.5 C292.4 788.88 292.63 794.95 293.6 793.3 C294.57 791.65 295.87 784.35 297.3 777.6 C298.73 770.85 300 760.52 302.2 752.8 C304.4 745.08 307.73 737.37 310.5 731.3 C313.27 725.23 315.58 720.67 318.8 716.4 C322.02 712.13 325.75 708.32 329.8 705.7 C333.85 703.08 338.07 701.85 343.1 700.7 C348.13 699.55 352.35 698.93 360 698.8 C380.15 698.45 446.67 698.63 464 698.6" stroke="#000000"/>
<path d="M83 698.6 C104.17 698.6 187.52 698.5 210 698.6 C213.57 698.62 215.48 698.43 217.9 699.2 C220.32 699.97 222.8 700.17 224.5 703.2 C226.43 706.63 227.83 714.57 229.5 719.8 C231.17 725.03 232.72 731.17 234.5 734.6 C236.19 737.85 238.28 740.12 240.2 740.4 C242.12 740.68 243.86 738.68 246 736.3 C248.35 733.68 251.68 727.32 254.3 724.7 C256.92 722.08 259.22 720.6 261.7 720.6 C264.18 720.6 266.62 721.85 269.2 724.7 C271.82 727.58 274.65 733.22 277.4 737.9 C280.15 742.58 282.67 747.57 285.7 752.8 C288.73 758.03 292.57 764.33 295.6 769.3 C298.63 774.27 301.55 779.57 303.9 782.6 C305.99 785.3 307.92 790.42 309.7 787.5 C311.55 784.47 313.02 772.38 315 764.4 C316.98 756.42 318.85 747.32 321.6 739.6 C324.35 731.88 327.92 723.62 331.5 718.1 C335.08 712.58 338.42 709.4 343.1 706.5 C347.78 703.6 353.45 701.98 359.6 700.7 C365.75 699.42 370.78 698.99 380 698.8 C397.4 698.45 450 698.63 464 698.6" stroke="#e02424"/>
<path d="M83 698.6 C109.17 698.6 212.28 698.38 240 698.6 C244.23 698.63 246.08 699.13 249.3 699.9 C252.52 700.67 256.82 701.55 259.3 703.2 C261.78 704.85 262.55 706.49 264.2 709.8 C265.85 713.12 267.55 718.68 269.2 723.1 C270.85 727.52 272.18 732.73 274.1 736.3 C276.02 739.87 278.77 742.57 280.7 744.5 C282.62 746.42 284.03 745.97 285.7 747.9 C287.37 749.83 289.09 752.09 290.7 756.1 C292.35 760.22 293.68 767.08 295.6 772.6 C297.52 778.12 299.85 785.33 302.2 789.2 C304.53 793.04 307.32 795.42 309.7 795.8 C312.08 796.18 314.29 794.37 316.5 791.5 C318.72 788.62 321 783.75 323 778.5 C325 773.25 326.53 765.93 328.5 760 C330.47 754.07 332.37 748.78 334.8 742.9 C337.23 737.02 339.8 729.93 343.1 724.7 C346.4 719.47 350.47 714.95 354.6 711.5 C358.73 708.05 362.93 705.93 367.9 704 C372.87 702.07 379.05 700.77 384.4 699.9 C389.75 699.03 392.96 698.91 400 698.8 C413.27 698.58 453.33 698.63 464 698.6" stroke="#1a1ad2"/>
<path d="M83 698.6 C114.17 698.6 236.22 698.1 270 698.6 C277.19 698.71 281.43 700 285.7 701.6 C289.97 703.2 293.12 705.17 295.6 708.2 C298.08 711.23 298.95 714.57 300.6 719.8 C302.25 725.03 303.58 731.35 305.5 739.6 C307.42 747.85 309.8 760.02 312.1 769.3 C314.4 778.58 317.23 789.27 319.3 795.3 C320.97 800.17 322.72 802.95 324.5 805.5 C326.28 808.05 328.33 810.02 330 810.6 C331.67 811.18 333.18 810 334.5 809 C335.82 808 336.81 806.85 337.9 804.6 C339.23 801.85 340.65 797.6 342.5 792.5 C344.35 787.4 346.98 781 349 774 C351.02 767 352.28 758.08 354.6 750.5 C356.92 742.92 359.87 734.45 362.9 728.5 C365.93 722.55 368.95 718.6 372.8 714.8 C376.65 711 381.03 708.05 386 705.7 C390.97 703.35 396.93 701.85 402.6 700.7 C408.27 699.55 412.13 699.07 420 698.8 C430.23 698.45 456.67 698.63 464 698.6" stroke="#238a23"/>
<path d="M83 698.6 C117.5 698.6 252.17 697.83 290 698.6 C299.23 698.79 305.25 701.38 310 703.2 C314.45 704.9 315.83 706.03 318.5 709.5 C321.17 712.97 323.83 718.33 326 724 C328.17 729.67 329.52 735.95 331.5 743.5 C333.48 751.05 335.9 760.67 337.9 769.3 C339.9 777.93 341.73 788.93 343.5 795.3 C345.09 801.02 346.8 804.78 348.5 807.5 C350.08 810.03 352.08 811.32 353.7 811.6 C355.32 811.88 356.82 810.83 358.2 809.2 C359.58 807.57 360.51 805.23 362 801.8 C363.88 797.47 366.95 790.42 369.5 783.2 C372.05 775.98 374.72 766.62 377.3 758.5 C379.88 750.38 381.9 741.78 385 734.5 C388.1 727.22 391.87 719.73 395.9 714.8 C399.93 709.87 404.23 707.38 409.2 704.9 C414.17 702.42 420.57 700.92 425.7 699.9 C430.83 698.88 433.62 699.02 440 698.8 C446.38 698.58 460 698.63 464 698.6" stroke="#8a2ae0"/>
<path d="M83 698.6 C120.83 698.6 269.42 698.1 310 698.6 C317.55 698.69 321.82 700 326.5 701.6 C331.18 703.2 334.85 705.13 338.1 708.2 C341.35 711.27 343.6 714.87 346 720 C348.4 725.13 350.45 730.78 352.5 739 C354.55 747.22 356.25 759.6 358.3 769.3 C360.35 779 362.82 790.67 364.8 797.2 C366.44 802.59 368.27 805.87 370.2 808.5 C372.13 811.13 374.67 812.62 376.4 813 C378.13 813.38 379.28 812.2 380.6 810.8 C381.92 809.4 382.87 807.52 384.3 804.6 C386.17 800.78 389.47 794.1 391.8 787.9 C394.13 781.7 396.18 774.38 398.3 767.4 C400.42 760.42 402.3 752.65 404.5 746 C406.7 739.35 409.07 732.83 411.5 727.5 C413.93 722.17 415.35 718.05 419.1 714 C422.85 709.95 428.77 705.68 434 703.2 C439.23 700.72 445.5 699.87 450.5 699.1 C455.5 698.33 461.75 698.68 464 698.6" stroke="#f0922e"/>
<path d="M83 698 C88.5 697.82 107.73 697.5 116 696.9 C123.53 696.35 127.08 695.78 132.6 694.4 C138.12 693.02 144.7 690.67 149.1 688.6 C153.5 686.53 155.97 684.62 159 682 C162.03 679.38 164.82 676.35 167.3 672.9 C169.78 669.45 171.83 664.72 173.9 661.3 C175.97 657.88 177.9 652.95 179.7 652.4 C181.5 651.85 183.41 654.88 184.7 658 C186.22 661.68 187.57 669.17 188.8 674.5 C190.03 679.83 190.45 687.65 192.1 690 C193.75 692.35 195.93 689.83 198.7 688.6 C202 687.13 208.05 684.37 211.9 681.2 C215.75 678.03 219.18 673.97 221.8 669.6 C224.42 665.23 225.67 660.52 227.6 655 C229.53 649.48 231.6 642.33 233.4 636.5 C235.2 630.67 236.47 625.5 238.4 620 C240.33 614.5 242.9 606.95 245 603.5 C246.71 600.68 248.83 599.38 251 599.3 C253.17 599.22 256 600.38 258 603 C260 605.62 261.5 610.5 263 615 C264.5 619.5 265.83 625 267 630 C268.17 635 269.17 640 270 645 C270.83 650 271.33 654.17 272 660 C272.67 665.83 273.45 674 274 680 C274.55 686 274.88 693.1 275.3 696 C275.42 696.82 275.68 697.31 276.5 697.4 C278.95 697.67 283.92 697.59 290 697.6 C321.25 697.63 435 697.6 464 697.6" stroke="#000000"/>
<path d="M83 698 C92.5 697.93 128.5 697.77 140 697.6 C145.41 697.52 148.33 697.33 152 697 C155.67 696.67 158.83 696.23 162 695.6 C165.17 694.97 168.17 694.13 171 693.2 C173.83 692.27 176.5 691.23 179 690 C181.5 688.77 183.83 687.42 186 685.8 C188.17 684.18 190.08 682.47 192 680.3 C193.92 678.13 195.75 675.6 197.5 672.8 C199.25 670 200.83 667.05 202.5 663.5 C204.17 659.95 205.83 655.33 207.5 651.5 C209.17 647.67 211.03 643.15 212.5 640.5 C213.85 638.06 215.15 636.6 216.3 635.6 C217.42 634.63 218.2 633.8 219.4 634.5 C220.6 635.2 222.37 637 223.5 639.8 C224.87 643.18 225.95 655.35 227.6 654.8 C229.25 654.25 231.6 642.3 233.4 636.5 C235.2 630.7 236.47 625.5 238.4 620 C240.33 614.5 242.9 606.95 245 603.5 C246.71 600.68 248.83 599.38 251 599.3 C253.17 599.22 256 600.38 258 603 C260 605.62 261.5 610.5 263 615 C264.5 619.5 265.7 624.83 267 630 C268.3 635.17 269.55 640.5 270.8 646 C272.05 651.5 273.38 657.5 274.5 663 C275.62 668.5 276.53 674 277.5 679 C278.47 684 279.58 689.97 280.3 693 C280.76 694.95 280.18 696.43 281.8 697.2 C283.42 697.97 286.31 697.59 290 697.6 C320.37 697.67 435 697.6 464 697.6" stroke="#e02424"/>
<path d="M83 698 C99.17 697.93 160.72 698.33 180 697.6 C188.6 697.27 192.83 695.52 198.7 693.6 C204.57 691.68 210.82 688.87 215.2 686.1 C219.58 683.33 222.53 680.02 225 677 C227.47 673.98 228.33 671.83 230 668 C231.67 664.17 233.33 659.17 235 654 C236.67 648.83 238.33 642.67 240 637 C241.67 631.33 243.17 626.17 245 620 C246.83 613.83 249.33 605.33 251 600 C252.67 594.67 253.67 590.67 255 588 C256.14 585.72 257.83 584 259 584 C260.17 584 261.08 586.08 262 588 C262.92 589.92 263.33 594.58 264.5 595.5 C265.67 596.42 267.25 593.25 269 593.5 C270.75 593.75 273.01 594.59 275 597 C277 599.42 279.17 602.83 281 608 C282.83 613.17 284.5 620.67 286 628 C287.5 635.33 288.7 643.67 290 652 C291.3 660.33 292.7 670.75 293.8 678 C294.9 685.25 295.9 692.27 296.6 695.5 C296.82 696.54 296.95 697.24 298 697.4 C300.23 697.75 304.6 697.59 310 697.6 C337.67 697.63 438.33 697.6 464 697.6" stroke="#1a1ad2"/>
<path d="M83 698 C102.5 697.93 176.33 698.18 200 697.6 C211.33 697.32 218.33 696.1 225 694.5 C231.67 692.9 235.83 691.08 240 688 C244.17 684.92 246.67 681.5 250 676 C253.33 670.5 257.17 662.5 260 655 C262.83 647.5 264.83 639.33 267 631 C269.17 622.67 271.17 613.33 273 605 C274.83 596.67 276.5 587.5 278 581 C279.5 574.5 280.83 569.58 282 566 C283 562.94 284.1 560.77 285 559.5 C285.69 558.53 286.57 558.4 287.4 558.4 C288.23 558.4 289.24 558.48 290 559.5 C291.23 561.15 293.38 564.38 294.8 568.3 C296.22 572.22 297.27 576.43 298.5 583 C299.73 589.57 300.77 599.48 302.2 607.7 C303.63 615.92 305.67 624.08 307.1 632.3 C308.53 640.52 309.57 648.18 310.8 657 C312.03 665.82 313.62 678.7 314.5 685.2 C315.16 690.07 315.6 693.97 316.1 696 C316.31 696.87 316.61 697.3 317.5 697.4 C319.82 697.67 324.37 697.59 330 697.6 C354.42 697.63 441.67 697.6 464 697.6" stroke="#238a23"/>
<path d="M83 698 C106.67 697.93 197.17 698.35 225 697.6 C236.4 697.29 243.33 695.43 250 693.5 C256.67 691.57 260.83 689.08 265 686 C269.17 682.92 272.5 678.2 275 675 C277.5 671.8 278.33 670.13 280 666.8 C281.67 663.47 283.5 659.22 285 655 C286.5 650.78 287.53 647.66 289 641.5 C290.63 634.67 293.02 622.42 294.8 614 C296.58 605.58 298.07 598.83 299.7 591 C301.33 583.17 303.13 572.5 304.6 567 C305.74 562.74 307.27 559.93 308.5 558 C309.56 556.35 310.83 555.48 312 555.4 C313.17 555.32 314.35 556.07 315.5 557.5 C316.73 559.03 318.3 561.12 319.4 564.6 C321.07 569.88 323.65 578.93 325.5 589.2 C327.35 599.47 329.05 613.9 330.5 626.2 C331.95 638.5 333.22 651.45 334.2 663 C335.18 674.55 335.8 689.77 336.4 695.5 C336.51 696.56 336.75 697.24 337.8 697.4 C340.07 697.75 344.51 697.59 350 697.6 C371.03 697.63 445 697.6 464 697.6" stroke="#8a2ae0"/>
<path d="M83 698 C110.83 697.93 218.83 698.27 250 697.6 C259.14 697.4 265 695.35 270 694 C274.76 692.71 276.67 691.58 280 689.5 C283.33 687.42 287.33 683.75 290 681.5 C292.67 679.25 294.33 677.83 296 676 C297.67 674.17 298.57 673.17 300 670.5 C301.43 667.83 303.18 663.58 304.6 660 C306.02 656.42 307.27 652.92 308.5 649 C309.73 645.08 310.78 641.17 312 636.5 C313.22 631.83 314.57 626.42 315.8 621 C317.03 615.58 318.2 609.83 319.4 604 C320.6 598.17 321.77 592.17 323 586 C324.23 579.83 325.55 572.5 326.8 567 C328.05 561.5 329.27 556.4 330.5 553 C331.63 549.87 332.95 547.35 334.2 546.6 C335.45 545.85 336.79 547.02 338 548.5 C339.22 549.98 340.39 552.16 341.5 555.5 C342.63 558.92 343.77 563.38 344.8 569 C345.83 574.62 346.83 582.7 347.7 589.2 C348.57 595.7 349.35 601.83 350 608 C350.65 614.17 351.07 619.53 351.6 626.2 C352.13 632.87 352.75 640.7 353.2 648 C353.65 655.3 353.98 662.08 354.3 670 C354.62 677.92 354.73 690.93 355.1 695.5 C355.18 696.56 355.45 697.25 356.5 697.4 C358.98 697.75 363.92 697.59 370 697.6 C387.92 697.63 448.33 697.6 464 697.6" stroke="#f0922e"/>
</g>
<g stroke-width="1.3" stroke-dasharray="2.6 2">
<line x1="180.2" y1="655" x2="180.2" y2="697.5" stroke="#222"/>
<line x1="251" y1="602" x2="251" y2="697.5" stroke="#222"/>
<line x1="287.2" y1="561" x2="287.2" y2="697.5" stroke="#3a7a3a"/>
</g>
<rect x="82.9" y="518.6" width="381.5" height="306.8" fill="none" stroke="#000" stroke-width="2"/>
<path d="M82.9 817.17h3.2M82.9 793.4h5.5M82.9 769.62h3.2M82.9 745.85h5.5M82.9 722.07h3.2M82.9 698.3h5.5M82.9 674.52h3.2M82.9 650.75h5.5M82.9 626.97h3.2M82.9 603.2h5.5M82.9 579.42h3.2M82.9 555.65h5.5M82.9 531.88h3.2M82.9 825.4v-5.5M121.05 825.4v-3.2M159.2 825.4v-5.5M197.35 825.4v-3.2M235.5 825.4v-5.5M273.65 825.4v-3.2M311.8 825.4v-5.5M349.95 825.4v-3.2M388.1 825.4v-5.5M426.25 825.4v-3.2M464.4 825.4v-5.5" stroke="#000" stroke-width="2"/>
<text x="76.9" y="562.25" font-size="19.3" text-anchor="end" fill="#000">1500</text>
<text x="76.9" y="609.8" font-size="19.3" text-anchor="end" fill="#000">1000</text>
<text x="76.9" y="657.35" font-size="19.3" text-anchor="end" fill="#000">500</text>
<text x="76.9" y="704.9" font-size="19.3" text-anchor="end" fill="#000">0</text>
<text x="76.9" y="752.45" font-size="19.3" text-anchor="end" fill="#000">-500</text>
<text x="76.9" y="800" font-size="19.3" text-anchor="end" fill="#000">-1000</text>
<text x="82.9" y="847.8" font-size="19.3" text-anchor="middle" fill="#000">270</text>
<text x="159.2" y="847.8" font-size="19.3" text-anchor="middle" fill="#000">280</text>
<text x="235.5" y="847.8" font-size="19.3" text-anchor="middle" fill="#000">290</text>
<text x="311.8" y="847.8" font-size="19.3" text-anchor="middle" fill="#000">300</text>
<text x="388.1" y="847.8" font-size="19.3" text-anchor="middle" fill="#000">310</text>
<text x="464.4" y="847.8" font-size="19.3" text-anchor="middle" fill="#000">320</text>
<text x="274.5" y="874.5" font-size="19.5" text-anchor="middle"><tspan font-style="italic">T</tspan> (K)</text>
<text transform="translate(26.3 672.3) rotate(-90)" x="0" y="0" font-size="19" text-anchor="middle">Heat Flow (mW/g)</text>
<text x="182" y="628.8" font-size="16.5" text-anchor="middle"><tspan font-style="italic">T</tspan><tspan font-size="11" dy="3.5">1</tspan></text>
<text x="182.4" y="648.6" font-size="16.3" text-anchor="middle" fill="#000">282 K</text>
<text x="253" y="562" font-size="16.5" text-anchor="middle"><tspan font-style="italic">T</tspan><tspan font-size="11" dy="3.5">2</tspan></text>
<text x="252.6" y="582.4" font-size="16.3" text-anchor="middle" fill="#000">292 K</text>
<text x="291" y="535.7" font-size="16.5" text-anchor="middle" fill="#2a8a2a" font-style="italic">T*</text>
<text x="289.9" y="553.8" font-size="16.3" text-anchor="middle" fill="#2a8a2a">297 K</text>
<text x="103" y="720.8" font-size="18.8" text-anchor="start" fill="#000">heating</text>
<text x="369" y="688.8" font-size="18.5" text-anchor="start" fill="#000">cooling</text>
<text x="98.6" y="759.3" font-size="18.5" fill="#000" xml:space="preserve">0.1 MPa</text>
<text x="170.9" y="759.3" font-size="18.5" fill="#d42a2a" xml:space="preserve">20  MPa</text>
<text x="98.2" y="785.4" font-size="18.5" fill="#1a1ad0" xml:space="preserve">40  MPa</text>
<text x="169.9" y="785.4" font-size="18.5" fill="#2a8a2a" xml:space="preserve">60  MPa</text>
<text x="98.2" y="811.4" font-size="18.5" fill="#8a2be2" xml:space="preserve">80  MPa</text>
<text x="170.9" y="811.4" font-size="18.5" fill="#f0923a" xml:space="preserve">100 MPa</text>
<text x="477" y="531.5" font-size="35" text-anchor="start" fill="#000">c</text>
<defs>
<linearGradient id="gCblue" gradientUnits="userSpaceOnUse" x1="770" y1="632" x2="870" y2="861">
 <stop offset="0" stop-color="#ffffff"/><stop offset="0.1" stop-color="#f6f8fb"/><stop offset="0.25" stop-color="#e4e9f2"/>
 <stop offset="0.36" stop-color="#d3dcea"/><stop offset="0.5" stop-color="#b4c3dd"/><stop offset="0.65" stop-color="#8aa1ca"/>
 <stop offset="0.8" stop-color="#5876b2"/><stop offset="0.92" stop-color="#2f5499"/><stop offset="1" stop-color="#1d4891"/>
</linearGradient>
<linearGradient id="gCred" gradientUnits="userSpaceOnUse" x1="700" y1="648" x2="640" y2="478">
 <stop offset="0" stop-color="#ffffff"/><stop offset="0.1" stop-color="#fce4dd"/><stop offset="0.33" stop-color="#f39b85"/>
 <stop offset="0.6" stop-color="#ec6a48"/><stop offset="0.82" stop-color="#e8512a"/><stop offset="1" stop-color="#e6441d"/>
</linearGradient>
<linearGradient id="gCgreen" gradientUnits="userSpaceOnUse" x1="600" y1="688" x2="612" y2="775">
 <stop offset="0" stop-color="#cdeedb"/><stop offset="0.35" stop-color="#abdcc1"/><stop offset="0.6" stop-color="#b5ccd3"/><stop offset="0.8" stop-color="#b5c5d7"/><stop offset="1" stop-color="#b0c0d6"/>
</linearGradient>
</defs>
<clipPath id="cpC"><rect x="539.8" y="515.2" width="388.7" height="313.3"/></clipPath>
<g clip-path="url(#cpC)">
<rect x="539.8" y="515.2" width="388.7" height="313.3" fill="url(#gCblue)"/>
<path d="M539 699.5 C544.17 698.17 559.83 694.13 570 691.5 C580.17 688.87 588.12 686.9 600 683.7 C611.88 680.5 627.53 675.75 641.3 672.3 C655.07 668.85 670.55 666.1 682.6 663 C694.65 659.9 703.27 657.32 713.6 653.7 C723.93 650.08 735.28 644.87 744.6 641.3 C753.92 637.73 760.27 635.92 769.5 632.3 C778.73 628.68 789.25 624.07 800 619.6 C810.75 615.13 822.33 610.52 834 605.5 C845.67 600.48 859 594.33 870 589.5 C881 584.67 890.17 580.75 900 576.5 C909.83 572.25 924.17 566.08 929 564 L929 514 L538 514 Z" fill="url(#gCred)"/>
<path d="M539 699.5 C544.17 698.17 559.83 694.13 570 691.5 C580.17 688.87 588.12 686.9 600 683.7 C611.88 680.5 627.53 675.75 641.3 672.3 C655.07 668.85 670.55 666.1 682.6 663 C694.65 659.9 703.27 657.32 713.6 653.7 C723.93 650.08 735.28 644.87 744.6 641.3 C753.92 637.73 765.35 633.8 769.5 632.3 L769.5 632.3 C768.12 633.63 764.9 636.66 761.2 640.3 C757.05 644.38 750.8 650.95 744.6 656.8 C738.4 662.65 732.6 668.33 724 675.4 C715.4 682.47 703.33 691.5 693 699.2 C682.67 706.9 672.33 714.4 662 721.6 C651.67 728.8 641.33 735.5 631 742.4 C620.67 749.3 607.83 757.82 600 763 C592.82 767.75 590.67 769.07 584 773.5 C577.33 777.93 567.5 784.35 560 789.6 C552.5 794.85 542.5 802.43 539 805 Z" fill="url(#gCgreen)"/>
<path d="M539 699.5 C544.17 698.17 559.83 694.13 570 691.5 C580.17 688.87 588.12 686.9 600 683.7 C611.88 680.5 627.53 675.75 641.3 672.3 C655.07 668.85 670.55 666.1 682.6 663 C694.65 659.9 703.27 657.32 713.6 653.7 C723.93 650.08 735.28 644.87 744.6 641.3 C753.92 637.73 760.27 635.92 769.5 632.3 C778.73 628.68 789.25 624.07 800 619.6 C810.75 615.13 822.33 610.52 834 605.5 C845.67 600.48 859 594.33 870 589.5 C881 584.67 890.17 580.75 900 576.5 C909.83 572.25 924.17 566.08 929 564" fill="none" stroke="#a4a4a4" stroke-width="2.6"/>
<path d="M539 805 C542.5 802.43 552.5 794.85 560 789.6 C567.5 784.35 577.33 777.93 584 773.5 C590.67 769.07 592.82 767.75 600 763 C607.83 757.82 620.67 749.3 631 742.4 C641.33 735.5 651.67 728.8 662 721.6 C672.33 714.4 682.67 706.9 693 699.2 C703.33 691.5 715.4 682.47 724 675.4 C732.6 668.33 738.4 662.65 744.6 656.8 C750.8 650.95 757.05 644.38 761.2 640.3 C764.9 636.66 768.12 633.63 769.5 632.3" fill="none" stroke="#a4a4a4" stroke-width="2.6"/>
<path d="M543.5 669.75 L619.75 630.71 L696 630.94 L772.25 600 L848.5 565.46 L924.75 532.5" fill="none" stroke="#111" stroke-width="2" stroke-dasharray="2.2 6.5"/>
<path d="M543.5 716.21 L619.75 713.29 L696 688.31 L772.25 663 L848.5 627 L924.75 593.7" fill="none" stroke="#1a1ae0" stroke-width="2" stroke-dasharray="2.2 6.5"/>
<path d="M543.5 789.45 L619.75 731.74 L696 675.38" fill="none" stroke="#2a8a3a" stroke-width="2" stroke-dasharray="2.2 6.5"/>
<path d="M543.5 820.05 L619.75 762 L696 703.5" fill="none" stroke="#f0a050" stroke-width="2" stroke-dasharray="2.2 6.5"/>
<circle cx="543.5" cy="669.75" r="3.4" fill="#000"/>
<circle cx="619.75" cy="630.71" r="3.4" fill="#000"/>
<circle cx="696" cy="630.94" r="3.4" fill="#000"/>
<circle cx="772.25" cy="600" r="3.4" fill="#000"/>
<circle cx="848.5" cy="565.46" r="3.4" fill="#000"/>
<circle cx="924.75" cy="532.5" r="3.4" fill="#000"/>
<circle cx="543.5" cy="789.45" r="3.3" fill="#1f8a2a"/>
<circle cx="619.75" cy="731.74" r="3.3" fill="#1f8a2a"/>
<circle cx="696" cy="675.38" r="3.3" fill="#1f8a2a"/>
<rect x="540.4" y="713.11" width="6.2" height="6.2" fill="#1010e6"/>
<rect x="616.65" y="710.19" width="6.2" height="6.2" fill="#1010e6"/>
<rect x="692.9" y="685.21" width="6.2" height="6.2" fill="#1010e6"/>
<rect x="769.15" y="659.9" width="6.2" height="6.2" fill="#1010e6"/>
<rect x="845.4" y="623.9" width="6.2" height="6.2" fill="#1010e6"/>
<rect x="921.65" y="590.6" width="6.2" height="6.2" fill="#1010e6"/>
<rect x="540.4" y="816.95" width="6.2" height="6.2" fill="#f28a2a"/>
<rect x="616.65" y="758.9" width="6.2" height="6.2" fill="#f28a2a"/>
<rect x="692.9" y="700.4" width="6.2" height="6.2" fill="#f28a2a"/>
<text x="728.3" y="570.5" font-size="18" text-anchor="start" fill="#000">L</text>
<text x="727" y="751.9" font-size="18" text-anchor="start" fill="#000">S</text>
<text x="564.3" y="740.7" font-size="17.5">S<tspan font-size="12" dy="3.6">D</tspan></text>
<text transform="translate(599 765) rotate(-30)" font-size="17" text-anchor="middle">S<tspan font-size="12" dy="3.5">O</tspan><tspan dy="-3.5">-S</tspan><tspan font-size="12" dy="3.5">D</tspan></text>
<text transform="translate(847.3 607.5) rotate(-24)" font-size="17.5" text-anchor="middle">S-L</text>
</g>
<path d="M771.2 624.2 L772.96 629.17 L778.24 629.31 L774.05 632.53 L775.55 637.59 L771.2 634.6 L766.85 637.59 L768.35 632.53 L764.16 629.31 L769.44 629.17Z" fill="#ec1c24"/>
<text x="784.3" y="637.5" font-size="19.2" fill="#c8202c">(<tspan font-style="italic">T</tspan>*, <tspan font-style="italic">P</tspan>*)</text>
<text x="765" y="660.5" font-size="19" fill="#c8202c">[S<tspan font-size="12.5" dy="3.2">O</tspan><tspan dy="-3.2">+S</tspan><tspan font-size="12.5" dy="3.2">D</tspan><tspan dy="-3.2">+L]</tspan></text>
<rect x="539.8" y="515.2" width="388.7" height="313.3" fill="none" stroke="#000" stroke-width="2"/>
<path d="M539.8 795.75h4.5M539.8 739.5h4.5M539.8 683.25h4.5M539.8 627h4.5M539.8 570.75h4.5M543.5 828.5v-4.5M619.75 828.5v-4.5M696 828.5v-4.5M772.25 828.5v-4.5M848.5 828.5v-4.5M924.75 828.5v-4.5" stroke="#000" stroke-width="2"/>
<text x="533.6" y="802.15" font-size="19.3" text-anchor="end" fill="#000">285</text>
<text x="533.6" y="745.9" font-size="19.3" text-anchor="end" fill="#000">290</text>
<text x="533.6" y="689.65" font-size="19.3" text-anchor="end" fill="#000">295</text>
<text x="533.6" y="633.4" font-size="19.3" text-anchor="end" fill="#000">300</text>
<text x="533.6" y="577.15" font-size="19.3" text-anchor="end" fill="#000">305</text>
<text x="543.5" y="850" font-size="19.3" text-anchor="middle" fill="#000">0</text>
<text x="619.75" y="850" font-size="19.3" text-anchor="middle" fill="#000">20</text>
<text x="696" y="850" font-size="19.3" text-anchor="middle" fill="#000">40</text>
<text x="772.25" y="850" font-size="19.3" text-anchor="middle" fill="#000">60</text>
<text x="848.5" y="850" font-size="19.3" text-anchor="middle" fill="#000">80</text>
<text x="924.75" y="850" font-size="19.3" text-anchor="middle" fill="#000">100</text>
<text x="733.5" y="880.6" font-size="19.5" text-anchor="middle"><tspan font-style="italic">P</tspan> (MPa)</text>
<text transform="translate(494.5 671.6) rotate(-90)" font-size="19.5" text-anchor="middle"><tspan font-style="italic">T</tspan><tspan font-size="13" dy="4">t</tspan><tspan dy="-4"> (K)</tspan></text>
<text x="13.5" y="898" font-size="36" text-anchor="start" fill="#000">d</text>
<defs>
<linearGradient id="gD" x1="0" y1="0" x2="0" y2="1">
 <stop offset="0" stop-color="#77cdf3"/><stop offset="0.25" stop-color="#a6dcf5"/><stop offset="0.5" stop-color="#cbeafa"/><stop offset="0.75" stop-color="#e7f5fc"/><stop offset="1" stop-color="#ffffff"/>
</linearGradient>
</defs>
<rect x="84.5" y="890" width="843" height="244.6" fill="url(#gD)"/>
<rect x="96.8" y="1060.73" width="25.4" height="74.17" fill="#336fb2" stroke="#000" stroke-width="2.6"/>
<text x="109.5" y="1056.3" font-size="11.3" text-anchor="middle" fill="#4a80b8">150 MPa</text>
<rect x="146.32" y="1064.66" width="25.4" height="70.24" fill="#336fb2" stroke="#000" stroke-width="2.6"/>
<text x="159.02" y="1056.3" font-size="11.3" text-anchor="middle" fill="#4a80b8">150 MPa</text>
<rect x="195.84" y="1029.75" width="25.4" height="105.15" fill="#336fb2" stroke="#000" stroke-width="2.6"/>
<text x="208.54" y="1021.3" font-size="11.3" text-anchor="middle" fill="#4a80b8">137 MPa</text>
<rect x="245.36" y="1113.3" width="25.4" height="21.6" fill="#4aa845" stroke="#000" stroke-width="2.6"/>
<text x="258.06" y="1105" font-size="11.3" text-anchor="middle" fill="#68ae50">250 MPa</text>
<rect x="294.88" y="1125.3" width="25.4" height="9.6" fill="#4aa845" stroke="#000" stroke-width="2.6"/>
<text x="307.58" y="1115.5" font-size="11.3" text-anchor="middle" fill="#68ae50">200 MPa</text>
<rect x="344.4" y="1098.25" width="25.4" height="36.65" fill="#4aa845" stroke="#000" stroke-width="2.6"/>
<text x="357.1" y="1090" font-size="11.3" text-anchor="middle" fill="#68ae50">300 MPa</text>
<rect x="393.92" y="1130.76" width="25.4" height="4.14" fill="#4aa845" stroke="#000" stroke-width="2.6"/>
<text x="406.62" y="1121" font-size="11.3" text-anchor="middle" fill="#68ae50">200 MPa</text>
<rect x="443.14" y="944.27" width="26" height="190.33" fill="#f6b9b9" stroke="#9a8a8a" stroke-width="0.9"/>
<rect x="443.44" y="1012.3" width="25.4" height="122.6" fill="#e11b1e" stroke="#000" stroke-width="2.6"/>
<text x="456.14" y="935.5" font-size="11.3" text-anchor="middle" fill="#c2304a">150 MPa</text>
<rect x="492.66" y="921.15" width="26" height="213.45" fill="#f6b9b9" stroke="#9a8a8a" stroke-width="0.9"/>
<rect x="492.96" y="1012.3" width="25.4" height="122.6" fill="#e11b1e" stroke="#000" stroke-width="2.6"/>
<text x="505.66" y="915" font-size="11.3" text-anchor="middle" fill="#c2304a">150 MPa</text>
<rect x="542.18" y="904.13" width="26" height="230.47" fill="#f6b9b9" stroke="#9a8a8a" stroke-width="0.9"/>
<rect x="542.48" y="1008.37" width="25.4" height="126.53" fill="#e11b1e" stroke="#000" stroke-width="2.6"/>
<text x="555.18" y="901" font-size="11.3" text-anchor="middle" fill="#c2304a">150 MPa</text>
<rect x="591.7" y="1065.01" width="26" height="69.59" fill="#f0e4de" stroke="#8f8f8f" stroke-width="0.9"/>
<text x="604.7" y="1056.3" font-size="11.3" text-anchor="middle" fill="#d6b39c">260 MPa</text>
<rect x="641.22" y="1091.19" width="26" height="43.41" fill="#f0e4de" stroke="#8f8f8f" stroke-width="0.9"/>
<text x="654.22" y="1084.3" font-size="11.3" text-anchor="middle" fill="#d6b39c">240 MPa</text>
<rect x="690.74" y="1091.19" width="26" height="43.41" fill="#f0e4de" stroke="#8f8f8f" stroke-width="0.9"/>
<text x="703.74" y="1084.3" font-size="11.3" text-anchor="middle" fill="#d6b39c">30 MPa</text>
<rect x="740.26" y="1065.01" width="26" height="69.59" fill="#efefef" stroke="#8f8f8f" stroke-width="0.9"/>
<text x="753.26" y="1056.3" font-size="11.3" text-anchor="middle" fill="#8e8e8e">100 MPa</text>
<rect x="789.78" y="1044.07" width="26" height="90.53" fill="#efefef" stroke="#8f8f8f" stroke-width="0.9"/>
<text x="802.78" y="1036" font-size="11.3" text-anchor="middle" fill="#8e8e8e">100 MPa</text>
<rect x="839.3" y="1091.19" width="26" height="43.41" fill="#efefef" stroke="#8f8f8f" stroke-width="0.9"/>
<text x="852.3" y="1082.5" font-size="11.3" text-anchor="middle" fill="#8e8e8e">55 MPa</text>
<rect x="888.82" y="1113.22" width="26" height="21.38" fill="#efefef" stroke="#8f8f8f" stroke-width="0.9"/>
<text x="901.82" y="1105.2" font-size="11.3" text-anchor="middle" fill="#8e8e8e">70 MPa</text>
<rect x="84.5" y="890" width="843" height="244.6" fill="none" stroke="#000" stroke-width="2"/>
<path d="M84.5 890.17h7.2M84.5 911.98h3.4M84.5 933.8h7.2M84.5 955.62h3.4M84.5 1134.6h7.2M84.5 1112.78h3.4M84.5 1090.97h7.2M84.5 1069.15h3.4M84.5 1047.34h7.2M84.5 1025.52h3.4M84.5 1003.71h7.2" stroke="#000" stroke-width="2"/>
<text x="75.2" y="897.37" font-size="21.5" text-anchor="end" fill="#000">100</text>
<text x="75.2" y="941" font-size="21.5" text-anchor="end" fill="#000">90</text>
<text x="75.2" y="1010.91" font-size="21.5" text-anchor="end" fill="#000">30</text>
<text x="75.2" y="1054.54" font-size="21.5" text-anchor="end" fill="#000">20</text>
<text x="75.2" y="1098.17" font-size="21.5" text-anchor="end" fill="#000">10</text>
<text x="75.2" y="1141.8" font-size="21.5" text-anchor="end" fill="#000">0</text>
<path d="M76.5 983.5 L92.5 977" stroke="#fff" stroke-width="3"/>
<path d="M76.9 980.2 L92.2 974.7 M76.9 984.8 L92.2 979.3" stroke="#000" stroke-width="2.1"/>
<path d="M919.5 983.5 L935.5 977" stroke="#fff" stroke-width="3"/>
<path d="M919.9 980.2 L935.2 974.7 M919.9 984.8 L935.2 979.3" stroke="#000" stroke-width="2.1"/>
<text transform="translate(32.2 1012.8) rotate(-90)" font-size="21.4" text-anchor="middle">-&#916;<tspan font-style="italic">T</tspan><tspan font-size="14.5" dy="4.3">ad</tspan><tspan dy="-4.3"> (K)</tspan></text>
<text transform="translate(130.3 1158.8) rotate(-45)" font-size="17" text-anchor="end"><tspan>C</tspan><tspan font-size="11.8" dy="3.8">16</tspan><tspan dy="-3.8">H</tspan><tspan font-size="11.8" dy="3.8">34</tspan><tspan font-size="13.5" dy="-5.3">*</tspan></text>
<text transform="translate(179.82 1158.8) rotate(-45)" font-size="17" text-anchor="end"><tspan>C</tspan><tspan font-size="11.8" dy="3.8">18</tspan><tspan dy="-3.8">H</tspan><tspan font-size="11.8" dy="3.8">38</tspan><tspan font-size="13.5" dy="-5.3">*</tspan></text>
<text transform="translate(229.34 1158.8) rotate(-45)" font-size="17" text-anchor="end"><tspan>C</tspan><tspan font-size="11.8" dy="3.8">20</tspan><tspan dy="-3.8">H</tspan><tspan font-size="11.8" dy="3.8">42</tspan><tspan font-size="13.5" dy="-5.3">*</tspan></text>
<text transform="translate(278.86 1158.8) rotate(-45)" font-size="17" text-anchor="end"><tspan>Fe</tspan><tspan font-size="11.8" dy="3.8">49</tspan><tspan dy="-3.8">Rh</tspan><tspan font-size="11.8" dy="3.8">51</tspan><tspan font-size="13.5" dy="-5.3">*</tspan></text>
<text transform="translate(328.38 1158.8) rotate(-45)" font-size="17" text-anchor="end"><tspan>LaFe</tspan><tspan font-size="11.8" dy="3.8">11.33</tspan><tspan dy="-3.8">Co</tspan><tspan font-size="11.8" dy="3.8">0.47</tspan><tspan dy="-3.8">Si</tspan><tspan font-size="11.8" dy="3.8">1.2</tspan><tspan font-size="13.5" dy="-5.3">*</tspan></text>
<text transform="translate(377.9 1158.8) rotate(-45)" font-size="17" text-anchor="end"><tspan>MnCoGe</tspan><tspan font-size="11.8" dy="3.8">0.99</tspan><tspan dy="-3.8">In</tspan><tspan font-size="11.8" dy="3.8">0.01</tspan><tspan font-size="13.5" dy="-5.3">*</tspan></text>
<text transform="translate(427.42 1158.8) rotate(-45)" font-size="17" text-anchor="end"><tspan>Gd</tspan><tspan font-size="11.8" dy="3.8">5</tspan><tspan dy="-3.8">Si</tspan><tspan font-size="11.8" dy="3.8">2</tspan><tspan dy="-3.8">Ge</tspan><tspan font-size="11.8" dy="3.8">2</tspan><tspan font-size="13.5" dy="-5.3">*</tspan></text>
<text transform="translate(476.94 1158.8) rotate(-45)" font-size="17" text-anchor="end"><tspan>C</tspan><tspan font-size="11.8" dy="3.8">17</tspan><tspan dy="-3.8">H</tspan><tspan font-size="11.8" dy="3.8">36</tspan><tspan font-size="13.5" dy="-5.3">*</tspan></text>
<text transform="translate(526.46 1158.8) rotate(-45)" font-size="17" text-anchor="end"><tspan>C</tspan><tspan font-size="11.8" dy="3.8">19</tspan><tspan dy="-3.8">H</tspan><tspan font-size="11.8" dy="3.8">40</tspan><tspan font-size="13.5" dy="-5.3">*</tspan></text>
<text transform="translate(575.98 1158.8) rotate(-45)" font-size="17" text-anchor="end"><tspan>C</tspan><tspan font-size="11.8" dy="3.8">21</tspan><tspan dy="-3.8">H</tspan><tspan font-size="11.8" dy="3.8">44</tspan><tspan font-size="13.5" dy="-5.3">*</tspan></text>
<text transform="translate(625.5 1158.8) rotate(-45)" font-size="17" text-anchor="end"><tspan>NPA(CH</tspan><tspan font-size="11.8" dy="3.8">3</tspan><tspan dy="-3.8">)C(CH</tspan><tspan font-size="11.8" dy="3.8">2</tspan><tspan dy="-3.8">OH)</tspan></text>
<text transform="translate(675.02 1158.8) rotate(-45)" font-size="17" text-anchor="end"><tspan>PG(CH</tspan><tspan font-size="11.8" dy="3.8">3</tspan><tspan dy="-3.8">)C(CH</tspan><tspan font-size="11.8" dy="3.8">2</tspan><tspan dy="-3.8">OH)</tspan><tspan font-size="11.8" dy="3.8">3</tspan></text>
<text transform="translate(724.54 1158.8) rotate(-45)" font-size="17" text-anchor="end"><tspan>C</tspan><tspan font-size="11.8" dy="3.8">2</tspan><tspan dy="-3.8">B</tspan><tspan font-size="11.8" dy="3.8">10</tspan><tspan dy="-3.8">H</tspan><tspan font-size="11.8" dy="3.8">12</tspan></text>
<text transform="translate(774.06 1158.8) rotate(-45)" font-size="17" text-anchor="end"><tspan>1-Cl-ada</tspan></text>
<text transform="translate(823.58 1158.8) rotate(-45)" font-size="17" text-anchor="end"><tspan>1-Br-ada</tspan></text>
<text transform="translate(873.1 1158.8) rotate(-45)" font-size="17" text-anchor="end"><tspan>Fe</tspan><tspan font-size="11.8" dy="3.8">3</tspan><tspan dy="-3.8">(bntrz)</tspan><tspan font-size="11.8" dy="3.8">6</tspan><tspan dy="-3.8">(tcnset)</tspan><tspan font-size="11.8" dy="3.8">6</tspan></text>
<text transform="translate(922.62 1158.8) rotate(-45)" font-size="17" text-anchor="end"><tspan>(TPrA)[Mn(dca)</tspan><tspan font-size="11.8" dy="3.8">3</tspan><tspan dy="-3.8">]</tspan></text>
</svg>
</body></html>
